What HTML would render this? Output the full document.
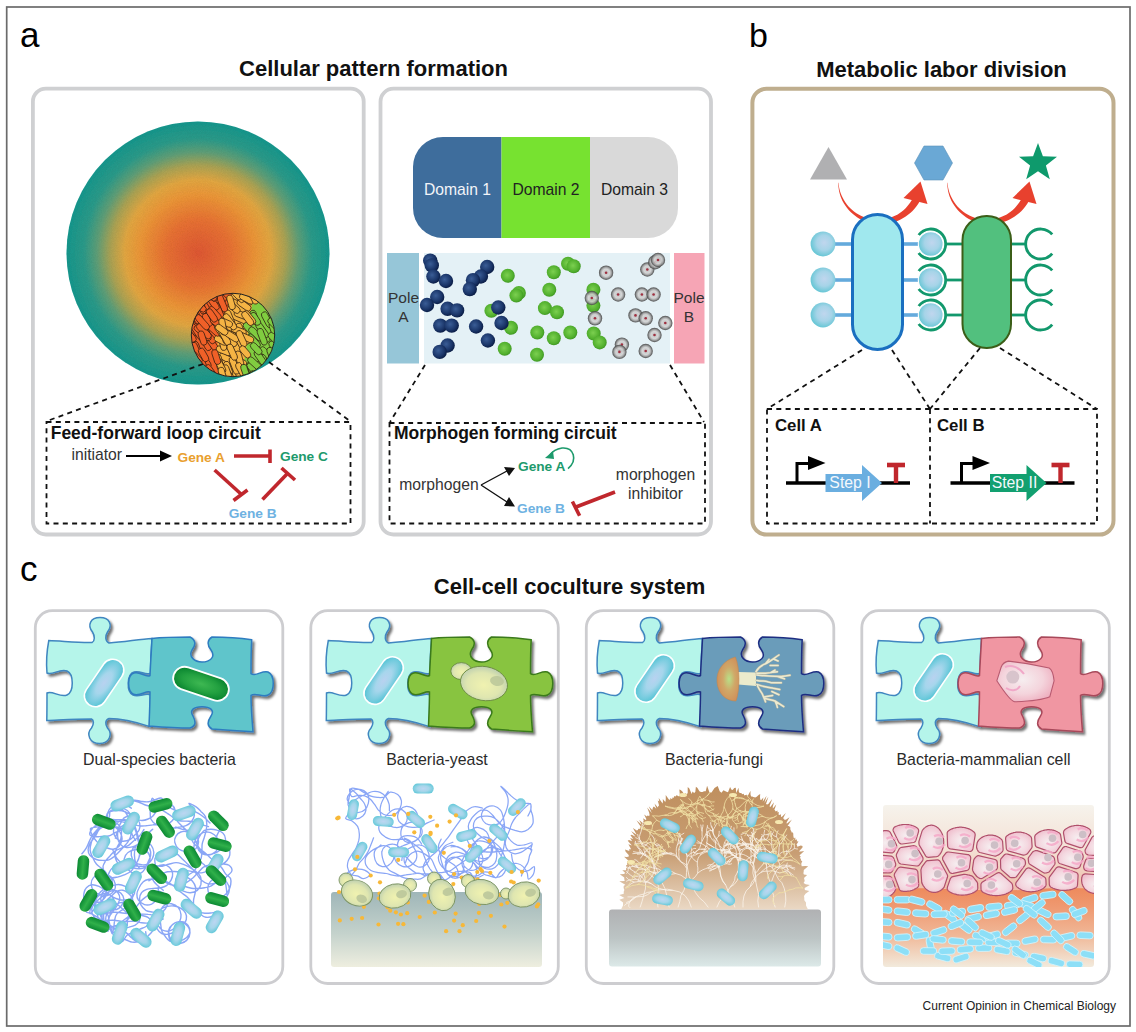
<!DOCTYPE html><html><head><meta charset="utf-8"><style>html,body{margin:0;padding:0;background:#fff;width:1136px;height:1032px;overflow:hidden}svg{display:block}text{font-family:'Liberation Sans',sans-serif}</style></head><body>
<svg width="1136" height="1032" viewBox="0 0 1136 1032">
<rect x="0" y="0" width="1136" height="1032" fill="#fff"/>
<rect x="6.7" y="7" width="1123.3" height="1019" fill="none" stroke="#6b6b6b" stroke-width="1.7"/>
<text x="20" y="47" font-size="35" fill="#000">a</text>
<text x="749" y="46.6" font-size="34" fill="#000">b</text>
<text x="20" y="581" font-size="35" fill="#000">c</text>
<text x="373.5" y="76.4" font-size="22" font-weight="bold" text-anchor="middle" fill="#111">Cellular pattern formation</text>
<text x="941.5" y="77" font-size="22" font-weight="bold" text-anchor="middle" fill="#111">Metabolic labor division</text>
<text x="569.5" y="593.8" font-size="22" font-weight="bold" text-anchor="middle" fill="#111">Cell-cell coculture system</text>
<text x="1116" y="1009.5" font-size="12" text-anchor="end" fill="#222">Current Opinion in Chemical Biology</text>
<rect x="32.9" y="88.6" width="330.8" height="445.9" rx="13" fill="none" stroke="#cfd0d2" stroke-width="3.8"/>
<rect x="380.5" y="88.7" width="330.5" height="445.8" rx="13" fill="none" stroke="#cfd0d2" stroke-width="3.8"/>
<rect x="752.4" y="88.8" width="361.1" height="445.8" rx="14" fill="none" stroke="#bfae8e" stroke-width="4"/>
<rect x="35.3" y="610.7" width="247.5" height="372.8" rx="17" fill="none" stroke="#cdcdd0" stroke-width="2.8"/>
<rect x="310.8" y="610.7" width="247.5" height="372.8" rx="17" fill="none" stroke="#cdcdd0" stroke-width="2.8"/>
<rect x="586.3" y="610.7" width="247.5" height="372.8" rx="17" fill="none" stroke="#cdcdd0" stroke-width="2.8"/>
<rect x="861.8" y="610.7" width="247.5" height="372.8" rx="17" fill="none" stroke="#cdcdd0" stroke-width="2.8"/>
<defs><radialGradient id="bigc" cx="198" cy="253" r="131" gradientUnits="userSpaceOnUse"><stop offset="0" stop-color="#e35a34"/><stop offset="0.25" stop-color="#ec7434"/><stop offset="0.45" stop-color="#f09a3a"/><stop offset="0.56" stop-color="#e6aa44"/><stop offset="0.67" stop-color="#aea656"/><stop offset="0.77" stop-color="#62a27a"/><stop offset="0.87" stop-color="#2e9e8c"/><stop offset="1" stop-color="#1c9a90"/></radialGradient><filter id="grain" x="0" y="0" width="1" height="1"><feTurbulence type="fractalNoise" baseFrequency="1.2" numOctaves="1" seed="3" result="n"/><feColorMatrix in="n" type="matrix" values="0 0 0 0 0  0 0 0 0 0  0 0 0 0 0  0 0 0 0.18 0" result="g"/><feComposite in="g" in2="SourceGraphic" operator="in" result="g2"/><feMerge><feMergeNode in="SourceGraphic"/><feMergeNode in="g2"/></feMerge></filter><clipPath id="smallclip"><circle cx="233" cy="335" r="41.7"/></clipPath></defs>
<circle cx="198" cy="253" r="131.5" fill="url(#bigc)" filter="url(#grain)"/>
<g fill="none" stroke="#111" stroke-width="1.8" stroke-dasharray="5 4.3">
<path d="M203 364 L47 421"/>
<path d="M269 362 L350 421"/>
<rect x="46.5" y="422" width="304" height="101.5"/>
</g>
<g clip-path="url(#smallclip)">
<rect x="190" y="292" width="90" height="90" fill="#f0b040"/>
<path d="M190 292 L234 292 L233 294 L226 314 L218 333 L217 353 L220 367 L222 380 L190 380 Z" fill="#f06028"/>
<path d="M254 292 L280 292 L280 380 L242 380 C244 362 246 350 248 335 C250 318 252 305 254 292 Z" fill="#80cc40"/>
<rect x="211.3" y="302.2" width="14.4" height="6.2" rx="3.1" transform="rotate(60.4 218.5 305.3)" fill="#f06028" stroke="#2a1a10" stroke-width="0.7" /><rect x="228.9" y="321.1" width="16.5" height="6.2" rx="3.1" transform="rotate(23.5 237.2 324.2)" fill="#f5b444" stroke="#2a1a10" stroke-width="0.7" /><rect x="186.1" y="327.1" width="14.5" height="6.2" rx="3.1" transform="rotate(39.5 193.3 330.2)" fill="#f06028" stroke="#2a1a10" stroke-width="0.7" /><rect x="219.8" y="361.7" width="15.1" height="6.2" rx="3.1" transform="rotate(27.4 227.4 364.8)" fill="#f5b444" stroke="#2a1a10" stroke-width="0.7" /><rect x="237.2" y="372.3" width="16.0" height="6.2" rx="3.1" transform="rotate(57.8 245.2 375.4)" fill="#80cc40" stroke="#2a1a10" stroke-width="0.7" /><rect x="268.2" y="293.0" width="15.4" height="6.2" rx="3.1" transform="rotate(67.9 275.9 296.1)" fill="#80cc40" stroke="#2a1a10" stroke-width="0.7" /><rect x="193.7" y="299.3" width="18.1" height="6.2" rx="3.1" transform="rotate(48.1 202.7 302.4)" fill="#f06028" stroke="#2a1a10" stroke-width="0.7" /><rect x="198.0" y="340.1" width="15.9" height="6.2" rx="3.1" transform="rotate(60.0 205.9 343.2)" fill="#f06028" stroke="#2a1a10" stroke-width="0.7" /><rect x="230.7" y="294.4" width="15.0" height="6.2" rx="3.1" transform="rotate(23.6 238.2 297.5)" fill="#f5b444" stroke="#2a1a10" stroke-width="0.7" /><rect x="241.4" y="326.5" width="16.9" height="6.2" rx="3.1" transform="rotate(48.3 249.9 329.6)" fill="#80cc40" stroke="#2a1a10" stroke-width="0.7" /><rect x="221.1" y="315.3" width="17.5" height="6.2" rx="3.1" transform="rotate(67.7 229.9 318.4)" fill="#f5b444" stroke="#2a1a10" stroke-width="0.7" /><rect x="202.3" y="339.4" width="18.4" height="6.2" rx="3.1" transform="rotate(55.9 211.5 342.5)" fill="#f06028" stroke="#2a1a10" stroke-width="0.7" /><rect x="246.9" y="314.2" width="14.6" height="6.2" rx="3.1" transform="rotate(72.3 254.2 317.3)" fill="#80cc40" stroke="#2a1a10" stroke-width="0.7" /><rect x="218.6" y="355.5" width="16.4" height="6.2" rx="3.1" transform="rotate(29.1 226.8 358.6)" fill="#f5b444" stroke="#2a1a10" stroke-width="0.7" /><rect x="185.0" y="347.7" width="16.9" height="6.2" rx="3.1" transform="rotate(64.5 193.5 350.8)" fill="#f06028" stroke="#2a1a10" stroke-width="0.7" /><rect x="258.6" y="316.5" width="17.0" height="6.2" rx="3.1" transform="rotate(62.0 267.0 319.6)" fill="#80cc40" stroke="#2a1a10" stroke-width="0.7" /><rect x="231.7" y="329.0" width="18.7" height="6.2" rx="3.1" transform="rotate(70.4 241.0 332.1)" fill="#f5b444" stroke="#2a1a10" stroke-width="0.7" /><rect x="223.0" y="347.3" width="17.5" height="6.2" rx="3.1" transform="rotate(23.6 231.7 350.4)" fill="#f5b444" stroke="#2a1a10" stroke-width="0.7" /><rect x="239.2" y="376.3" width="15.4" height="6.2" rx="3.1" transform="rotate(66.6 246.9 379.4)" fill="#80cc40" stroke="#2a1a10" stroke-width="0.7" /><rect x="215.8" y="347.7" width="16.3" height="6.2" rx="3.1" transform="rotate(21.4 223.9 350.8)" fill="#f5b444" stroke="#2a1a10" stroke-width="0.7" /><rect x="195.9" y="299.2" width="17.8" height="6.2" rx="3.1" transform="rotate(39.1 204.8 302.3)" fill="#f06028" stroke="#2a1a10" stroke-width="0.7" /><rect x="192.2" y="310.7" width="18.4" height="6.2" rx="3.1" transform="rotate(51.1 201.4 313.8)" fill="#f06028" stroke="#2a1a10" stroke-width="0.7" /><rect x="187.9" y="328.4" width="18.4" height="6.2" rx="3.1" transform="rotate(56.8 197.1 331.5)" fill="#f06028" stroke="#2a1a10" stroke-width="0.7" /><rect x="254.1" y="364.9" width="16.1" height="6.2" rx="3.1" transform="rotate(47.0 262.1 368.0)" fill="#80cc40" stroke="#2a1a10" stroke-width="0.7" /><rect x="214.2" y="366.7" width="14.8" height="6.2" rx="3.1" transform="rotate(77.5 221.6 369.8)" fill="#f5b444" stroke="#2a1a10" stroke-width="0.7" /><rect x="197.3" y="309.3" width="16.4" height="6.2" rx="3.1" transform="rotate(45.4 205.5 312.4)" fill="#f06028" stroke="#2a1a10" stroke-width="0.7" /><rect x="233.8" y="312.0" width="16.1" height="6.2" rx="3.1" transform="rotate(20.2 241.8 315.1)" fill="#f5b444" stroke="#2a1a10" stroke-width="0.7" /><rect x="213.8" y="338.7" width="17.5" height="6.2" rx="3.1" transform="rotate(77.2 222.5 341.8)" fill="#f5b444" stroke="#2a1a10" stroke-width="0.7" /><rect x="228.2" y="343.2" width="14.3" height="6.2" rx="3.1" transform="rotate(60.6 235.4 346.3)" fill="#f5b444" stroke="#2a1a10" stroke-width="0.7" /><rect x="260.2" y="357.5" width="18.0" height="6.2" rx="3.1" transform="rotate(68.5 269.2 360.6)" fill="#80cc40" stroke="#2a1a10" stroke-width="0.7" /><rect x="215.9" y="324.0" width="17.2" height="6.2" rx="3.1" transform="rotate(26.2 224.5 327.1)" fill="#f5b444" stroke="#2a1a10" stroke-width="0.7" /><rect x="188.1" y="294.8" width="14.8" height="6.2" rx="3.1" transform="rotate(44.5 195.5 297.9)" fill="#f06028" stroke="#2a1a10" stroke-width="0.7" /><rect x="212.5" y="293.5" width="14.8" height="6.2" rx="3.1" transform="rotate(37.0 219.9 296.6)" fill="#f06028" stroke="#2a1a10" stroke-width="0.7" /><rect x="189.7" y="320.9" width="18.4" height="6.2" rx="3.1" transform="rotate(37.9 198.9 324.0)" fill="#f06028" stroke="#2a1a10" stroke-width="0.7" /><rect x="236.2" y="302.0" width="15.7" height="6.2" rx="3.1" transform="rotate(35.1 244.0 305.1)" fill="#f5b444" stroke="#2a1a10" stroke-width="0.7" /><rect x="212.6" y="299.7" width="19.0" height="6.2" rx="3.1" transform="rotate(67.6 222.0 302.8)" fill="#f06028" stroke="#2a1a10" stroke-width="0.7" /><rect x="223.8" y="331.5" width="14.5" height="6.2" rx="3.1" transform="rotate(25.2 231.0 334.6)" fill="#f5b444" stroke="#2a1a10" stroke-width="0.7" /><rect x="212.7" y="312.2" width="14.8" height="6.2" rx="3.1" transform="rotate(66.8 220.2 315.3)" fill="#f06028" stroke="#2a1a10" stroke-width="0.7" /><rect x="184.7" y="372.6" width="14.7" height="6.2" rx="3.1" transform="rotate(56.0 192.0 375.7)" fill="#f06028" stroke="#2a1a10" stroke-width="0.7" /><rect x="228.4" y="291.3" width="18.9" height="6.2" rx="3.1" transform="rotate(51.7 237.8 294.4)" fill="#f5b444" stroke="#2a1a10" stroke-width="0.7" /><rect x="258.1" y="350.2" width="15.8" height="6.2" rx="3.1" transform="rotate(46.4 266.0 353.3)" fill="#80cc40" stroke="#2a1a10" stroke-width="0.7" /><rect x="195.8" y="356.8" width="17.9" height="6.2" rx="3.1" transform="rotate(56.2 204.7 359.9)" fill="#f06028" stroke="#2a1a10" stroke-width="0.7" /><rect x="209.5" y="308.5" width="18.9" height="6.2" rx="3.1" transform="rotate(66.2 219.0 311.6)" fill="#f06028" stroke="#2a1a10" stroke-width="0.7" /><rect x="256.2" y="359.8" width="17.7" height="6.2" rx="3.1" transform="rotate(66.5 265.0 362.9)" fill="#80cc40" stroke="#2a1a10" stroke-width="0.7" /><rect x="202.9" y="334.5" width="14.1" height="6.2" rx="3.1" transform="rotate(49.8 210.0 337.6)" fill="#f06028" stroke="#2a1a10" stroke-width="0.7" /><rect x="183.7" y="313.5" width="17.5" height="6.2" rx="3.1" transform="rotate(46.3 192.5 316.6)" fill="#f06028" stroke="#2a1a10" stroke-width="0.7" /><rect x="264.7" y="328.3" width="18.9" height="6.2" rx="3.1" transform="rotate(70.7 274.2 331.4)" fill="#80cc40" stroke="#2a1a10" stroke-width="0.7" /><rect x="266.5" y="321.0" width="15.1" height="6.2" rx="3.1" transform="rotate(44.9 274.0 324.1)" fill="#80cc40" stroke="#2a1a10" stroke-width="0.7" /><rect x="198.1" y="306.9" width="18.5" height="6.2" rx="3.1" transform="rotate(59.5 207.3 310.0)" fill="#f06028" stroke="#2a1a10" stroke-width="0.7" /><rect x="255.0" y="331.1" width="18.0" height="6.2" rx="3.1" transform="rotate(60.5 264.0 334.2)" fill="#80cc40" stroke="#2a1a10" stroke-width="0.7" /><rect x="188.5" y="347.0" width="17.9" height="6.2" rx="3.1" transform="rotate(69.8 197.5 350.1)" fill="#f06028" stroke="#2a1a10" stroke-width="0.7" /><rect x="247.0" y="331.0" width="17.9" height="6.2" rx="3.1" transform="rotate(43.4 256.0 334.1)" fill="#80cc40" stroke="#2a1a10" stroke-width="0.7" /><rect x="211.3" y="359.4" width="16.0" height="6.2" rx="3.1" transform="rotate(78.3 219.3 362.5)" fill="#f5b444" stroke="#2a1a10" stroke-width="0.7" /><rect x="217.9" y="372.2" width="14.9" height="6.2" rx="3.1" transform="rotate(63.5 225.3 375.3)" fill="#f5b444" stroke="#2a1a10" stroke-width="0.7" /><rect x="192.2" y="302.2" width="18.0" height="6.2" rx="3.1" transform="rotate(69.6 201.2 305.3)" fill="#f06028" stroke="#2a1a10" stroke-width="0.7" /><rect x="194.2" y="361.6" width="17.3" height="6.2" rx="3.1" transform="rotate(72.3 202.9 364.7)" fill="#f06028" stroke="#2a1a10" stroke-width="0.7" /><rect x="213.8" y="337.2" width="14.1" height="6.2" rx="3.1" transform="rotate(27.9 220.8 340.3)" fill="#f5b444" stroke="#2a1a10" stroke-width="0.7" /><rect x="266.1" y="346.1" width="18.7" height="6.2" rx="3.1" transform="rotate(56.0 275.4 349.2)" fill="#80cc40" stroke="#2a1a10" stroke-width="0.7" /><rect x="220.6" y="365.6" width="15.1" height="6.2" rx="3.1" transform="rotate(69.6 228.2 368.7)" fill="#f5b444" stroke="#2a1a10" stroke-width="0.7" /><rect x="203.7" y="314.7" width="16.9" height="6.2" rx="3.1" transform="rotate(45.7 212.2 317.8)" fill="#f06028" stroke="#2a1a10" stroke-width="0.7" /><rect x="203.5" y="325.8" width="18.6" height="6.2" rx="3.1" transform="rotate(41.7 212.8 328.9)" fill="#f06028" stroke="#2a1a10" stroke-width="0.7" /><rect x="211.9" y="329.2" width="18.5" height="6.2" rx="3.1" transform="rotate(55.0 221.1 332.3)" fill="#f5b444" stroke="#2a1a10" stroke-width="0.7" /><rect x="218.7" y="369.7" width="16.7" height="6.2" rx="3.1" transform="rotate(50.1 227.0 372.8)" fill="#f5b444" stroke="#2a1a10" stroke-width="0.7" /><rect x="228.6" y="290.5" width="14.9" height="6.2" rx="3.1" transform="rotate(46.4 236.1 293.6)" fill="#f5b444" stroke="#2a1a10" stroke-width="0.7" /><rect x="182.2" y="359.2" width="16.4" height="6.2" rx="3.1" transform="rotate(43.2 190.3 362.3)" fill="#f06028" stroke="#2a1a10" stroke-width="0.7" /><rect x="245.5" y="337.9" width="16.6" height="6.2" rx="3.1" transform="rotate(48.7 253.8 341.0)" fill="#80cc40" stroke="#2a1a10" stroke-width="0.7" /><rect x="230.5" y="357.9" width="16.8" height="6.2" rx="3.1" transform="rotate(26.4 238.9 361.0)" fill="#f5b444" stroke="#2a1a10" stroke-width="0.7" /><rect x="203.6" y="313.3" width="16.5" height="6.2" rx="3.1" transform="rotate(64.8 211.9 316.4)" fill="#f06028" stroke="#2a1a10" stroke-width="0.7" /><rect x="231.3" y="355.8" width="16.2" height="6.2" rx="3.1" transform="rotate(74.7 239.4 358.9)" fill="#f5b444" stroke="#2a1a10" stroke-width="0.7" /><rect x="235.2" y="333.4" width="17.5" height="6.2" rx="3.1" transform="rotate(50.7 243.9 336.5)" fill="#f5b444" stroke="#2a1a10" stroke-width="0.7" /><rect x="220.5" y="335.8" width="18.7" height="6.2" rx="3.1" transform="rotate(48.7 229.8 338.9)" fill="#f5b444" stroke="#2a1a10" stroke-width="0.7" /><rect x="243.9" y="366.0" width="15.3" height="6.2" rx="3.1" transform="rotate(70.9 251.5 369.1)" fill="#80cc40" stroke="#2a1a10" stroke-width="0.7" /><rect x="231.9" y="371.9" width="14.7" height="6.2" rx="3.1" transform="rotate(70.4 239.2 375.0)" fill="#f5b444" stroke="#2a1a10" stroke-width="0.7" /><rect x="193.1" y="327.8" width="15.2" height="6.2" rx="3.1" transform="rotate(39.6 200.7 330.9)" fill="#f06028" stroke="#2a1a10" stroke-width="0.7" /><rect x="187.2" y="347.8" width="18.5" height="6.2" rx="3.1" transform="rotate(65.2 196.4 350.9)" fill="#f06028" stroke="#2a1a10" stroke-width="0.7" /><rect x="196.2" y="351.9" width="14.7" height="6.2" rx="3.1" transform="rotate(60.8 203.6 355.0)" fill="#f06028" stroke="#2a1a10" stroke-width="0.7" /><rect x="258.3" y="374.0" width="18.8" height="6.2" rx="3.1" transform="rotate(44.9 267.7 377.1)" fill="#80cc40" stroke="#2a1a10" stroke-width="0.7" /><rect x="216.0" y="331.8" width="18.2" height="6.2" rx="3.1" transform="rotate(79.4 225.0 334.9)" fill="#f5b444" stroke="#2a1a10" stroke-width="0.7" /><rect x="196.4" y="326.9" width="15.7" height="6.2" rx="3.1" transform="rotate(55.6 204.2 330.0)" fill="#f06028" stroke="#2a1a10" stroke-width="0.7" /><rect x="200.2" y="316.9" width="14.1" height="6.2" rx="3.1" transform="rotate(63.0 207.2 320.0)" fill="#f06028" stroke="#2a1a10" stroke-width="0.7" /><rect x="230.9" y="327.7" width="15.7" height="6.2" rx="3.1" transform="rotate(21.1 238.8 330.8)" fill="#f5b444" stroke="#2a1a10" stroke-width="0.7" /><rect x="235.4" y="334.0" width="18.9" height="6.2" rx="3.1" transform="rotate(23.9 244.9 337.1)" fill="#f5b444" stroke="#2a1a10" stroke-width="0.7" /><rect x="251.7" y="374.4" width="15.3" height="6.2" rx="3.1" transform="rotate(40.8 259.4 377.5)" fill="#80cc40" stroke="#2a1a10" stroke-width="0.7" /><rect x="186.2" y="357.5" width="14.6" height="6.2" rx="3.1" transform="rotate(46.7 193.5 360.6)" fill="#f06028" stroke="#2a1a10" stroke-width="0.7" /><rect x="219.5" y="369.1" width="15.3" height="6.2" rx="3.1" transform="rotate(69.1 227.2 372.2)" fill="#f5b444" stroke="#2a1a10" stroke-width="0.7" /><rect x="194.4" y="369.8" width="17.5" height="6.2" rx="3.1" transform="rotate(57.5 203.1 372.9)" fill="#f06028" stroke="#2a1a10" stroke-width="0.7" /><rect x="189.8" y="294.0" width="16.1" height="6.2" rx="3.1" transform="rotate(61.8 197.9 297.1)" fill="#f06028" stroke="#2a1a10" stroke-width="0.7" /><rect x="187.4" y="371.5" width="18.0" height="6.2" rx="3.1" transform="rotate(59.8 196.4 374.6)" fill="#f06028" stroke="#2a1a10" stroke-width="0.7" /><rect x="188.2" y="364.2" width="18.3" height="6.2" rx="3.1" transform="rotate(39.4 197.4 367.3)" fill="#f06028" stroke="#2a1a10" stroke-width="0.7" /><rect x="220.6" y="318.7" width="18.6" height="6.2" rx="3.1" transform="rotate(53.2 229.9 321.8)" fill="#f5b444" stroke="#2a1a10" stroke-width="0.7" /><rect x="206.0" y="300.3" width="15.2" height="6.2" rx="3.1" transform="rotate(56.0 213.6 303.4)" fill="#f06028" stroke="#2a1a10" stroke-width="0.7" /><rect x="192.1" y="303.1" width="15.0" height="6.2" rx="3.1" transform="rotate(38.8 199.6 306.2)" fill="#f06028" stroke="#2a1a10" stroke-width="0.7" /><rect x="209.7" y="315.7" width="15.4" height="6.2" rx="3.1" transform="rotate(64.3 217.5 318.8)" fill="#f06028" stroke="#2a1a10" stroke-width="0.7" /><rect x="227.0" y="304.6" width="14.1" height="6.2" rx="3.1" transform="rotate(40.8 234.0 307.7)" fill="#f5b444" stroke="#2a1a10" stroke-width="0.7" /><rect x="203.7" y="290.3" width="16.8" height="6.2" rx="3.1" transform="rotate(63.4 212.0 293.4)" fill="#f06028" stroke="#2a1a10" stroke-width="0.7" /><rect x="199.4" y="330.7" width="14.5" height="6.2" rx="3.1" transform="rotate(70.6 206.7 333.8)" fill="#f06028" stroke="#2a1a10" stroke-width="0.7" /><rect x="253.0" y="326.9" width="18.2" height="6.2" rx="3.1" transform="rotate(54.8 262.1 330.0)" fill="#80cc40" stroke="#2a1a10" stroke-width="0.7" /><rect x="215.1" y="333.5" width="18.9" height="6.2" rx="3.1" transform="rotate(61.3 224.6 336.6)" fill="#f5b444" stroke="#2a1a10" stroke-width="0.7" /><rect x="211.6" y="362.1" width="17.2" height="6.2" rx="3.1" transform="rotate(62.4 220.2 365.2)" fill="#f5b444" stroke="#2a1a10" stroke-width="0.7" /><rect x="218.3" y="319.5" width="14.6" height="6.2" rx="3.1" transform="rotate(23.3 225.6 322.6)" fill="#f5b444" stroke="#2a1a10" stroke-width="0.7" /><rect x="188.8" y="354.1" width="14.8" height="6.2" rx="3.1" transform="rotate(46.2 196.2 357.2)" fill="#f06028" stroke="#2a1a10" stroke-width="0.7" /><rect x="188.8" y="362.9" width="17.4" height="6.2" rx="3.1" transform="rotate(68.3 197.4 366.0)" fill="#f06028" stroke="#2a1a10" stroke-width="0.7" /><rect x="206.7" y="310.2" width="16.3" height="6.2" rx="3.1" transform="rotate(47.6 214.8 313.3)" fill="#f06028" stroke="#2a1a10" stroke-width="0.7" /><rect x="194.5" y="328.1" width="18.8" height="6.2" rx="3.1" transform="rotate(46.5 203.9 331.2)" fill="#f06028" stroke="#2a1a10" stroke-width="0.7" /><rect x="266.2" y="337.0" width="18.8" height="6.2" rx="3.1" transform="rotate(45.8 275.6 340.1)" fill="#80cc40" stroke="#2a1a10" stroke-width="0.7" /><rect x="209.3" y="320.3" width="15.9" height="6.2" rx="3.1" transform="rotate(37.0 217.2 323.4)" fill="#f06028" stroke="#2a1a10" stroke-width="0.7" /><rect x="223.5" y="333.1" width="16.5" height="6.2" rx="3.1" transform="rotate(32.1 231.8 336.2)" fill="#f5b444" stroke="#2a1a10" stroke-width="0.7" /><rect x="182.4" y="312.1" width="16.0" height="6.2" rx="3.1" transform="rotate(40.2 190.4 315.2)" fill="#f06028" stroke="#2a1a10" stroke-width="0.7" /><rect x="186.1" y="290.9" width="15.2" height="6.2" rx="3.1" transform="rotate(48.0 193.7 294.0)" fill="#f06028" stroke="#2a1a10" stroke-width="0.7" /><rect x="232.9" y="335.5" width="17.3" height="6.2" rx="3.1" transform="rotate(65.0 241.5 338.6)" fill="#f5b444" stroke="#2a1a10" stroke-width="0.7" /><rect x="245.2" y="366.3" width="15.6" height="6.2" rx="3.1" transform="rotate(51.0 253.0 369.4)" fill="#80cc40" stroke="#2a1a10" stroke-width="0.7" /><rect x="268.0" y="302.1" width="17.2" height="6.2" rx="3.1" transform="rotate(63.1 276.7 305.2)" fill="#80cc40" stroke="#2a1a10" stroke-width="0.7" /><rect x="185.3" y="362.4" width="17.1" height="6.2" rx="3.1" transform="rotate(69.1 193.9 365.5)" fill="#f06028" stroke="#2a1a10" stroke-width="0.7" /><rect x="246.3" y="360.4" width="16.6" height="6.2" rx="3.1" transform="rotate(42.0 254.6 363.5)" fill="#80cc40" stroke="#2a1a10" stroke-width="0.7" /><rect x="225.3" y="362.4" width="18.1" height="6.2" rx="3.1" transform="rotate(68.3 234.4 365.5)" fill="#f5b444" stroke="#2a1a10" stroke-width="0.7" /><rect x="232.7" y="367.5" width="17.5" height="6.2" rx="3.1" transform="rotate(61.0 241.4 370.6)" fill="#f5b444" stroke="#2a1a10" stroke-width="0.7" /><rect x="202.3" y="291.6" width="15.8" height="6.2" rx="3.1" transform="rotate(41.8 210.2 294.7)" fill="#f06028" stroke="#2a1a10" stroke-width="0.7" /><rect x="190.7" y="362.5" width="17.1" height="6.2" rx="3.1" transform="rotate(57.1 199.2 365.6)" fill="#f06028" stroke="#2a1a10" stroke-width="0.7" /><rect x="238.1" y="348.8" width="14.0" height="6.2" rx="3.1" transform="rotate(49.4 245.1 351.9)" fill="#f5b444" stroke="#2a1a10" stroke-width="0.7" /><rect x="251.9" y="354.7" width="16.7" height="6.2" rx="3.1" transform="rotate(55.1 260.2 357.8)" fill="#80cc40" stroke="#2a1a10" stroke-width="0.7" /><rect x="240.4" y="294.7" width="15.3" height="6.2" rx="3.1" transform="rotate(64.2 248.0 297.8)" fill="#f5b444" stroke="#2a1a10" stroke-width="0.7" /><rect x="189.0" y="312.3" width="15.0" height="6.2" rx="3.1" transform="rotate(63.3 196.6 315.4)" fill="#f06028" stroke="#2a1a10" stroke-width="0.7" /><rect x="247.1" y="374.8" width="15.9" height="6.2" rx="3.1" transform="rotate(54.8 255.1 377.9)" fill="#80cc40" stroke="#2a1a10" stroke-width="0.7" /><rect x="223.6" y="349.1" width="17.1" height="6.2" rx="3.1" transform="rotate(66.0 232.2 352.2)" fill="#f5b444" stroke="#2a1a10" stroke-width="0.7" /><rect x="238.9" y="295.7" width="15.3" height="6.2" rx="3.1" transform="rotate(28.8 246.6 298.8)" fill="#f5b444" stroke="#2a1a10" stroke-width="0.7" /><rect x="248.4" y="315.7" width="14.1" height="6.2" rx="3.1" transform="rotate(57.4 255.4 318.8)" fill="#80cc40" stroke="#2a1a10" stroke-width="0.7" /><rect x="186.6" y="312.6" width="17.5" height="6.2" rx="3.1" transform="rotate(61.2 195.3 315.7)" fill="#f06028" stroke="#2a1a10" stroke-width="0.7" /><rect x="241.3" y="314.5" width="16.3" height="6.2" rx="3.1" transform="rotate(51.0 249.5 317.6)" fill="#f5b444" stroke="#2a1a10" stroke-width="0.7" /><rect x="223.5" y="299.3" width="15.0" height="6.2" rx="3.1" transform="rotate(73.6 231.0 302.4)" fill="#f5b444" stroke="#2a1a10" stroke-width="0.7" /><rect x="267.9" y="371.3" width="16.3" height="6.2" rx="3.1" transform="rotate(37.6 276.1 374.4)" fill="#80cc40" stroke="#2a1a10" stroke-width="0.7" /><rect x="254.5" y="374.1" width="15.3" height="6.2" rx="3.1" transform="rotate(53.2 262.2 377.2)" fill="#80cc40" stroke="#2a1a10" stroke-width="0.7" /><rect x="200.0" y="372.1" width="16.9" height="6.2" rx="3.1" transform="rotate(44.6 208.5 375.2)" fill="#f06028" stroke="#2a1a10" stroke-width="0.7" /><rect x="195.1" y="335.0" width="14.7" height="6.2" rx="3.1" transform="rotate(71.3 202.5 338.1)" fill="#f06028" stroke="#2a1a10" stroke-width="0.7" /><rect x="253.4" y="333.7" width="17.5" height="6.2" rx="3.1" transform="rotate(68.9 262.2 336.8)" fill="#80cc40" stroke="#2a1a10" stroke-width="0.7" /><rect x="203.3" y="367.9" width="14.1" height="6.2" rx="3.1" transform="rotate(54.5 210.4 371.0)" fill="#f06028" stroke="#2a1a10" stroke-width="0.7" /><rect x="182.6" y="332.2" width="15.5" height="6.2" rx="3.1" transform="rotate(53.2 190.3 335.3)" fill="#f06028" stroke="#2a1a10" stroke-width="0.7" /><rect x="193.3" y="319.2" width="18.2" height="6.2" rx="3.1" transform="rotate(48.4 202.4 322.3)" fill="#f06028" stroke="#2a1a10" stroke-width="0.7" /><rect x="182.9" y="355.0" width="14.6" height="6.2" rx="3.1" transform="rotate(67.2 190.2 358.1)" fill="#f06028" stroke="#2a1a10" stroke-width="0.7" /><rect x="263.8" y="351.6" width="15.4" height="6.2" rx="3.1" transform="rotate(69.5 271.5 354.7)" fill="#80cc40" stroke="#2a1a10" stroke-width="0.7" /><rect x="214.3" y="323.5" width="16.9" height="6.2" rx="3.1" transform="rotate(79.9 222.8 326.6)" fill="#f5b444" stroke="#2a1a10" stroke-width="0.7" /><rect x="214.6" y="326.6" width="14.2" height="6.2" rx="3.1" transform="rotate(36.5 221.7 329.7)" fill="#f5b444" stroke="#2a1a10" stroke-width="0.7" /><rect x="189.6" y="362.4" width="18.7" height="6.2" rx="3.1" transform="rotate(47.3 199.0 365.5)" fill="#f06028" stroke="#2a1a10" stroke-width="0.7" /><rect x="204.5" y="312.3" width="14.9" height="6.2" rx="3.1" transform="rotate(55.4 211.9 315.4)" fill="#f06028" stroke="#2a1a10" stroke-width="0.7" /><rect x="213.8" y="373.0" width="18.1" height="6.2" rx="3.1" transform="rotate(73.1 222.9 376.1)" fill="#f5b444" stroke="#2a1a10" stroke-width="0.7" /><rect x="237.1" y="369.3" width="16.7" height="6.2" rx="3.1" transform="rotate(70.9 245.5 372.4)" fill="#80cc40" stroke="#2a1a10" stroke-width="0.7" /><rect x="245.2" y="293.3" width="16.3" height="6.2" rx="3.1" transform="rotate(63.9 253.3 296.4)" fill="#f5b444" stroke="#2a1a10" stroke-width="0.7" /><rect x="249.1" y="345.6" width="14.2" height="6.2" rx="3.1" transform="rotate(47.3 256.2 348.7)" fill="#80cc40" stroke="#2a1a10" stroke-width="0.7" /><rect x="263.7" y="300.1" width="15.7" height="6.2" rx="3.1" transform="rotate(54.0 271.6 303.2)" fill="#80cc40" stroke="#2a1a10" stroke-width="0.7" /><rect x="208.6" y="353.9" width="15.3" height="6.2" rx="3.1" transform="rotate(72.1 216.2 357.0)" fill="#f06028" stroke="#2a1a10" stroke-width="0.7" /><rect x="239.7" y="315.4" width="16.0" height="6.2" rx="3.1" transform="rotate(53.4 247.7 318.5)" fill="#f5b444" stroke="#2a1a10" stroke-width="0.7" />
</g>
<circle cx="233" cy="335" r="41.7" fill="none" stroke="#222" stroke-width="1"/>
<text x="50.7" y="439" font-size="17.5" font-weight="bold" fill="#111">Feed-forward loop circuit</text>
<text x="71.5" y="460" font-size="15.7" fill="#333">initiator</text>
<path d="M126 456 L162 456" stroke="#000" stroke-width="2.2"/><path d="M172 456 L160 450.5 L160 461.5 Z" fill="#000"/>
<text x="177.5" y="461.5" font-size="13.7" font-weight="bold" fill="#e9a02e">Gene A</text>
<text x="280" y="461" font-size="13.7" font-weight="bold" fill="#1d9a6c">Gene C</text>
<text x="228.7" y="517.8" font-size="13.7" font-weight="bold" fill="#6eb2e2">Gene B</text>
<g stroke="#c0272d" stroke-width="3.6" fill="none"><path d="M234 456 L270 456"/><path d="M270 449.5 L270 463"/><path d="M214.6 470 L241 494"/><path d="M233.5 500.5 L247.5 490"/><path d="M262.5 499.5 L287 474"/><path d="M281.5 468 L295 480"/></g>
<defs><radialGradient id="navy" cx="0.4" cy="0.4" r="0.6"><stop offset="0" stop-color="#3a5d96"/><stop offset="0.7" stop-color="#1a3568"/><stop offset="1" stop-color="#0c1f48"/></radialGradient><radialGradient id="grn" cx="0.45" cy="0.45" r="0.6"><stop offset="0" stop-color="#7cd050"/><stop offset="0.7" stop-color="#52b02e"/><stop offset="1" stop-color="#3a9020"/></radialGradient><radialGradient id="gry" cx="0.5" cy="0.5" r="0.5"><stop offset="0" stop-color="#bdbdbd"/><stop offset="0.5" stop-color="#d2d2d2"/><stop offset="0.72" stop-color="#a0a0a0"/><stop offset="0.9" stop-color="#5a5a5a"/><stop offset="1" stop-color="#484848"/></radialGradient></defs>
<path d="M443 137 L501.5 137 L501.5 238 L443 238 A30 30 0 0 1 413 208 L413 167 A30 30 0 0 1 443 137 Z" fill="#3e6d9c"/>
<rect x="501.5" y="137" width="88.5" height="101" fill="#77e230"/>
<path d="M590 137 L648 137 A30 30 0 0 1 678 167 L678 208 A30 30 0 0 1 648 238 L590 238 Z" fill="#d9d9d9"/>
<text x="457.5" y="194.8" font-size="15.7" text-anchor="middle" fill="#f2f4f8">Domain 1</text>
<text x="546" y="194.8" font-size="15.7" text-anchor="middle" fill="#222">Domain 2</text>
<text x="634.5" y="194.8" font-size="15.7" text-anchor="middle" fill="#222">Domain 3</text>
<rect x="387" y="253" width="32" height="110.5" fill="#96c6d8"/>
<rect x="424" y="253" width="246" height="110.5" fill="#e4f1f6"/>
<rect x="674" y="253" width="30.5" height="110.5" fill="#f6a5b5"/>
<text x="403.5" y="303" font-size="15.5" text-anchor="middle" fill="#333">Pole</text>
<text x="403.5" y="322" font-size="15.5" text-anchor="middle" fill="#333">A</text>
<text x="689" y="303" font-size="15.5" text-anchor="middle" fill="#333">Pole</text>
<text x="689" y="322" font-size="15.5" text-anchor="middle" fill="#333">B</text>
<circle cx="507.8" cy="275.8" r="7" fill="url(#grn)"/><circle cx="518.9" cy="292.9" r="7" fill="url(#grn)"/><circle cx="516.4" cy="295.5" r="7" fill="url(#grn)"/><circle cx="553.8" cy="272.3" r="7" fill="url(#grn)"/><circle cx="568" cy="263.8" r="7" fill="url(#grn)"/><circle cx="573.7" cy="266.3" r="7" fill="url(#grn)"/><circle cx="549.3" cy="289.8" r="7" fill="url(#grn)"/><circle cx="491.4" cy="310.7" r="7" fill="url(#grn)"/><circle cx="544.9" cy="308.1" r="7" fill="url(#grn)"/><circle cx="557" cy="312.3" r="7" fill="url(#grn)"/><circle cx="511" cy="327.8" r="7" fill="url(#grn)"/><circle cx="537.3" cy="332.5" r="7" fill="url(#grn)"/><circle cx="553.8" cy="338.2" r="7" fill="url(#grn)"/><circle cx="570.3" cy="332.5" r="7" fill="url(#grn)"/><circle cx="504.7" cy="348.7" r="7" fill="url(#grn)"/><circle cx="537" cy="354.7" r="7" fill="url(#grn)"/><circle cx="593.4" cy="289.8" r="7" fill="url(#grn)"/><circle cx="593.4" cy="305.6" r="7" fill="url(#grn)"/><circle cx="593.7" cy="333.5" r="7" fill="url(#grn)"/><circle cx="599.7" cy="342.4" r="7" fill="url(#grn)"/><circle cx="606.1" cy="272.7" r="7.2" fill="url(#gry)" opacity="0.88"/><circle cx="606.1" cy="272.7" r="1.3" fill="#a03040"/><circle cx="618.1" cy="294.5" r="7.2" fill="url(#gry)" opacity="0.88"/><circle cx="618.1" cy="294.5" r="1.3" fill="#a03040"/><circle cx="641.9" cy="294.5" r="7.2" fill="url(#gry)" opacity="0.88"/><circle cx="641.9" cy="294.5" r="1.3" fill="#a03040"/><circle cx="653.6" cy="294.5" r="7.2" fill="url(#gry)" opacity="0.88"/><circle cx="653.6" cy="294.5" r="1.3" fill="#a03040"/><circle cx="647.3" cy="269.5" r="7.2" fill="url(#gry)" opacity="0.88"/><circle cx="647.3" cy="269.5" r="1.3" fill="#a03040"/><circle cx="655.2" cy="262.2" r="7.2" fill="url(#gry)" opacity="0.88"/><circle cx="655.2" cy="262.2" r="1.3" fill="#a03040"/><circle cx="658" cy="260" r="7.2" fill="url(#gry)" opacity="0.88"/><circle cx="658" cy="260" r="1.3" fill="#a03040"/><circle cx="591.8" cy="298" r="7.2" fill="url(#gry)" opacity="0.88"/><circle cx="591.8" cy="298" r="1.3" fill="#a03040"/><circle cx="595" cy="318.3" r="7.2" fill="url(#gry)" opacity="0.88"/><circle cx="595" cy="318.3" r="1.3" fill="#a03040"/><circle cx="635.5" cy="315.4" r="7.2" fill="url(#gry)" opacity="0.88"/><circle cx="635.5" cy="315.4" r="1.3" fill="#a03040"/><circle cx="645.7" cy="318.3" r="7.2" fill="url(#gry)" opacity="0.88"/><circle cx="645.7" cy="318.3" r="1.3" fill="#a03040"/><circle cx="665.3" cy="323" r="7.2" fill="url(#gry)" opacity="0.88"/><circle cx="665.3" cy="323" r="1.3" fill="#a03040"/><circle cx="654.5" cy="335" r="7.2" fill="url(#gry)" opacity="0.88"/><circle cx="654.5" cy="335" r="1.3" fill="#a03040"/><circle cx="621.9" cy="344.6" r="7.2" fill="url(#gry)" opacity="0.88"/><circle cx="621.9" cy="344.6" r="1.3" fill="#a03040"/><circle cx="619.4" cy="351.9" r="7.2" fill="url(#gry)" opacity="0.88"/><circle cx="619.4" cy="351.9" r="1.3" fill="#a03040"/><circle cx="645.7" cy="351" r="7.2" fill="url(#gry)" opacity="0.88"/><circle cx="645.7" cy="351" r="1.3" fill="#a03040"/><circle cx="430.2" cy="260.6" r="7.2" fill="url(#navy)"/><circle cx="431.8" cy="265.4" r="7.2" fill="url(#navy)"/><circle cx="433.4" cy="276.5" r="7.2" fill="url(#navy)"/><circle cx="446" cy="281" r="7.2" fill="url(#navy)"/><circle cx="487.2" cy="267" r="7.2" fill="url(#navy)"/><circle cx="480.9" cy="276.5" r="7.2" fill="url(#navy)"/><circle cx="473" cy="280.2" r="7.2" fill="url(#navy)"/><circle cx="469.8" cy="289.1" r="7.2" fill="url(#navy)"/><circle cx="437.2" cy="297" r="7.2" fill="url(#navy)"/><circle cx="427" cy="305" r="7.2" fill="url(#navy)"/><circle cx="447.6" cy="308.8" r="7.2" fill="url(#navy)"/><circle cx="457.1" cy="310.4" r="7.2" fill="url(#navy)"/><circle cx="498.3" cy="307.5" r="7.2" fill="url(#navy)"/><circle cx="440.3" cy="325.6" r="7.2" fill="url(#navy)"/><circle cx="451.7" cy="325.6" r="7.2" fill="url(#navy)"/><circle cx="476.1" cy="326.5" r="7.2" fill="url(#navy)"/><circle cx="501.5" cy="323" r="7.2" fill="url(#navy)"/><circle cx="487.9" cy="340.5" r="7.2" fill="url(#navy)"/><circle cx="447.6" cy="345.5" r="7.2" fill="url(#navy)"/><circle cx="439.7" cy="351.9" r="7.2" fill="url(#navy)"/>
<g fill="none" stroke="#111" stroke-width="1.8" stroke-dasharray="5 4.3">
<path d="M425 365 L390 422"/>
<path d="M670 365 L704 422"/>
<rect x="389.5" y="423" width="315.5" height="100.5"/>
</g>
<text x="394" y="438.6" font-size="17.5" font-weight="bold" fill="#111">Morphogen forming circuit</text>
<text x="399.3" y="490" font-size="15.7" fill="#333">morphogen</text>
<text x="655.5" y="480" font-size="15.7" text-anchor="middle" fill="#333">morphogen</text>
<text x="655.5" y="498.7" font-size="15.7" text-anchor="middle" fill="#333">inhibitor</text>
<text x="518" y="471" font-size="13.7" font-weight="bold" fill="#1d9a6c">Gene A</text>
<text x="517" y="513" font-size="13.7" font-weight="bold" fill="#6eb2e2">Gene B</text>
<path d="M481 485 L507 471 M481 485 L507 502" stroke="#111" stroke-width="1.4" fill="none"/>
<path d="M515 468 L504 467 L509 476 Z M515 506.5 L509 497 L504 506 Z" fill="#111"/>
<path d="M568 468.6 C578 460 574 447 562 448 C556 449 552 452 550 455" stroke="#1d9a6c" stroke-width="1.6" fill="none"/>
<path d="M545 458 L553 451 L554 459 Z" fill="#1d9a6c"/>
<g stroke="#c0272d" stroke-width="3.6" fill="none"><path d="M615 492 L576 507"/><path d="M572.4 501.5 L579.6 515.8"/></g>
<defs><radialGradient id="ball" cx="0.55" cy="0.45" r="0.6"><stop offset="0" stop-color="#c0d6ee"/><stop offset="0.5" stop-color="#a6d4e8"/><stop offset="1" stop-color="#5cc4d2"/></radialGradient></defs>
<path d="M810 179.5 L828.5 147 L847 179.5 Z" fill="#b0b0b2"/>
<path d="M924 146 L943 146 L952.5 163 L943 180 L924 180 L914.5 163 Z" fill="#6aa8d5" stroke="#5a90b8" stroke-width="0.6"/>
<path d="M1038.0,143.0 L1042.9,156.3 L1057.0,156.8 L1045.9,165.6 L1049.8,179.2 L1038.0,171.3 L1026.2,179.2 L1030.1,165.6 L1019.0,156.8 L1033.1,156.3 Z" fill="#0e9a6c"/>
<g transform="translate(0 0)" fill="#e8412e"><path d="M838.2,182.7 L838.3,185.4 L838.6,188.1 L839.0,190.7 L839.6,193.3 L840.4,195.9 L841.4,198.4 L842.5,200.9 L843.8,203.3 L845.3,205.6 L846.9,207.8 L848.7,210.0 L850.6,212.0 L852.6,213.8 L854.8,215.6 L857.0,217.2 L859.4,218.7 L861.9,220.0 L864.5,221.1 L867.1,222.1 L869.8,222.9 L872.6,223.5 L875.4,223.9 L878.2,224.2 L881.1,224.3 L884.0,224.2 L886.8,223.9 L889.7,223.4 L892.5,222.7 L895.2,221.8 L898.0,220.8 L900.6,219.5 L903.2,218.1 L905.7,216.6 L908.0,214.8 L910.3,212.9 L912.5,210.9 L914.5,208.7 L916.3,206.4 L918.1,204.0 L919.6,201.4 L912.8,197.9 L911.7,200.2 L910.4,202.3 L908.9,204.3 L907.3,206.3 L905.6,208.2 L903.8,209.9 L901.9,211.5 L899.8,213.0 L897.7,214.4 L895.5,215.6 L893.2,216.6 L890.8,217.5 L888.4,218.3 L885.9,218.9 L883.4,219.3 L880.8,219.6 L878.3,219.7 L875.7,219.6 L873.2,219.4 L870.6,219.0 L868.1,218.5 L865.7,217.7 L863.2,216.8 L860.9,215.8 L858.6,214.6 L856.4,213.2 L854.3,211.7 L852.2,210.1 L850.3,208.3 L848.5,206.5 L846.9,204.5 L845.3,202.3 L843.9,200.1 L842.7,197.8 L841.6,195.5 L840.6,193.0 L839.8,190.5 L839.2,187.9 L838.8,185.3 L838.5,182.7 Z"/><path d="M920.5 181.5 L903.5 198 L927.5 204 Z"/></g>
<g transform="translate(109 0)" fill="#e8412e"><path d="M838.2,182.7 L838.3,185.4 L838.6,188.1 L839.0,190.7 L839.6,193.3 L840.4,195.9 L841.4,198.4 L842.5,200.9 L843.8,203.3 L845.3,205.6 L846.9,207.8 L848.7,210.0 L850.6,212.0 L852.6,213.8 L854.8,215.6 L857.0,217.2 L859.4,218.7 L861.9,220.0 L864.5,221.1 L867.1,222.1 L869.8,222.9 L872.6,223.5 L875.4,223.9 L878.2,224.2 L881.1,224.3 L884.0,224.2 L886.8,223.9 L889.7,223.4 L892.5,222.7 L895.2,221.8 L898.0,220.8 L900.6,219.5 L903.2,218.1 L905.7,216.6 L908.0,214.8 L910.3,212.9 L912.5,210.9 L914.5,208.7 L916.3,206.4 L918.1,204.0 L919.6,201.4 L912.8,197.9 L911.7,200.2 L910.4,202.3 L908.9,204.3 L907.3,206.3 L905.6,208.2 L903.8,209.9 L901.9,211.5 L899.8,213.0 L897.7,214.4 L895.5,215.6 L893.2,216.6 L890.8,217.5 L888.4,218.3 L885.9,218.9 L883.4,219.3 L880.8,219.6 L878.3,219.7 L875.7,219.6 L873.2,219.4 L870.6,219.0 L868.1,218.5 L865.7,217.7 L863.2,216.8 L860.9,215.8 L858.6,214.6 L856.4,213.2 L854.3,211.7 L852.2,210.1 L850.3,208.3 L848.5,206.5 L846.9,204.5 L845.3,202.3 L843.9,200.1 L842.7,197.8 L841.6,195.5 L840.6,193.0 L839.8,190.5 L839.2,187.9 L838.8,185.3 L838.5,182.7 Z"/><path d="M920.5 181.5 L903.5 198 L927.5 204 Z"/></g>
<g stroke="#64aadc" stroke-width="3.6">
<path d="M830 244 L852 244"/><path d="M903 244 L925 244"/>
<path d="M830 280 L852 280"/><path d="M903 280 L925 280"/>
<path d="M830 315 L852 315"/><path d="M903 315 L925 315"/>
</g>
<g stroke="#12986c" stroke-width="2.8" fill="none">
<path d="M945 244 L962 244"/><path d="M1011 244 L1026 244"/>
<path d="M918.7 235.0 A15 15 0 1 1 918.7 253.0"/>
<path d="M1052.2 234.4 A15 15 0 1 0 1052.2 253.6"/>
<path d="M945 280 L962 280"/><path d="M1011 280 L1026 280"/>
<path d="M918.7 271.0 A15 15 0 1 1 918.7 289.0"/>
<path d="M1052.2 270.4 A15 15 0 1 0 1052.2 289.6"/>
<path d="M945 315 L962 315"/><path d="M1011 315 L1026 315"/>
<path d="M918.7 306.0 A15 15 0 1 1 918.7 324.0"/>
<path d="M1052.2 305.4 A15 15 0 1 0 1052.2 324.6"/>
</g>
<circle cx="823" cy="244" r="12.4" fill="url(#ball)"/>
<circle cx="930.7" cy="244" r="12.4" fill="url(#ball)" stroke="#fff" stroke-width="1.1"/>
<circle cx="823" cy="280" r="12.4" fill="url(#ball)"/>
<circle cx="930.7" cy="280" r="12.4" fill="url(#ball)" stroke="#fff" stroke-width="1.1"/>
<circle cx="823" cy="315" r="12.4" fill="url(#ball)"/>
<circle cx="930.7" cy="315" r="12.4" fill="url(#ball)" stroke="#fff" stroke-width="1.1"/>
<rect x="852.5" y="214.5" width="50" height="135" rx="25" fill="#a0e8ee" stroke="#1a6fc0" stroke-width="3"/>
<rect x="962.5" y="216" width="48.5" height="132" rx="24" fill="#52c07e" stroke="#3b5e18" stroke-width="2"/>
<g fill="none" stroke="#111" stroke-width="1.8" stroke-dasharray="5 4.3">
<path d="M862 350 L767 409"/><path d="M892 350 L930 409"/><path d="M980 348 L930 409"/><path d="M1000 348 L1097 409"/>
<rect x="767" y="409" width="330" height="114.5"/><path d="M930 409 L930 523.5"/>
</g>
<text x="775" y="431" font-size="16.8" font-weight="bold" fill="#111">Cell A</text>
<text x="937" y="431" font-size="16.8" font-weight="bold" fill="#111">Cell B</text>
<g transform="translate(0 0)"><path d="M786 483 L910 483" stroke="#000" stroke-width="3.5"/><path d="M797 483 L797 463.5 L812 463.5" stroke="#000" stroke-width="3" fill="none"/><path d="M825.5 463 L808 456 L808 470 Z" fill="#000"/><path d="M825.5 474 L862 474 L862 465 L882 483 L862 501 L862 492 L825.5 492 Z" fill="#6aaee0"/><path d="M887 465 L905 465" stroke="#c0272d" stroke-width="4.6" fill="none"/><path d="M896 465 L896 483" stroke="#c0272d" stroke-width="4.4" fill="none"/><text x="850" y="488.2" font-size="15.8" text-anchor="middle" fill="#f4f8fc">Step I</text></g>
<g transform="translate(164.5 0)"><path d="M786 483 L910 483" stroke="#000" stroke-width="3.5"/><path d="M797 483 L797 463.5 L812 463.5" stroke="#000" stroke-width="3" fill="none"/><path d="M825.5 463 L808 456 L808 470 Z" fill="#000"/><path d="M825.5 474 L862 474 L862 465 L882 483 L862 501 L862 492 L825.5 492 Z" fill="#12a070"/><path d="M887 465 L905 465" stroke="#c0272d" stroke-width="4.6" fill="none"/><path d="M896 465 L896 483" stroke="#c0272d" stroke-width="4.4" fill="none"/><text x="850" y="488.2" font-size="15.8" text-anchor="middle" fill="#f4f8fc">Step II</text></g>
<defs><path id="lp" d="M48.8 640.5 C62 641 80 643 92 642.5 C95 641 95 636 92.5 632 C87 625 90.5 617.5 100 617.5 C109.5 617.5 113 625 107.5 632 C105 636 105 641 109 643 C125 642 140 639 152 638.5 C151 650 150.5 662 150.5 673 C146 676 140 670 134 672 C127 674 126 692 133 695 C139 698 146 692 150.5 695 C150 706 150 716 150 726.6 C136 722 122 718.5 109 718.5 C105 720 105 724 107.5 728 C113 734 109.5 743.5 99.5 743.5 C89.5 743.5 86 734 91.5 728 C94 724 94 720 91.5 719 C76 719 60 720 46.8 720.5 C47 711 47 702 47 693 C52 690 60 698 67 695 C74 692 74 674 67 671 C60 668 52 676 47 673 C46 662 47 650 48.8 640.5 Z"/><path id="rp" d="M152 638.5 C165 637 178 637 190 637 C196 640 196 645 192 650 C188 657 195 662 202 662 C210 662 216 657 211 650 C207 645 207 640 212 637 C225 637 240 638 251.7 639.8 C251 651 251 662 251 673.6 C256 677 262 670 268 672 C275 675 275 692 268 695 C262 698 256 692 251 695.3 C251 707 252 720 253 731.7 C240 731 225 730 212 729 C207 726 207 722 211 716 C215 710 210 706.8 202 706.8 C194 706.8 189 710 193 716 C196 722 196 726 190 728 C176 728 162 727 149 726 C149.5 714 150 703 150 692 C146 690 140 697 133 694 C127 690 127 675 134 673 C140 671 146 678 150 675.5 C150.5 663 151.5 650 152 638.5 Z"/><filter id="pshadow" x="-10%" y="-10%" width="125%" height="125%"><feDropShadow dx="2.2" dy="2.5" stdDeviation="1.3" flood-color="#000" flood-opacity="0.55"/></filter><radialGradient id="cyanpill" cx="0.5" cy="0.5" r="0.58"><stop offset="0" stop-color="#b8d2f0"/><stop offset="0.4" stop-color="#a6d6ec"/><stop offset="1" stop-color="#52c4d4"/></radialGradient><radialGradient id="greenpill" cx="0.5" cy="0.5" r="0.55"><stop offset="0" stop-color="#3eb852"/><stop offset="0.6" stop-color="#22a040"/><stop offset="1" stop-color="#0a8530"/></radialGradient><radialGradient id="yeastg" cx="0.5" cy="0.55" r="0.6"><stop offset="0" stop-color="#f0f2b0"/><stop offset="0.6" stop-color="#dfe6b0"/><stop offset="1" stop-color="#b4c8b0"/></radialGradient><radialGradient id="mushg" cx="0.55" cy="0.5" r="0.6"><stop offset="0" stop-color="#b8e088"/><stop offset="0.45" stop-color="#d0a868"/><stop offset="1" stop-color="#d08c58"/></radialGradient><radialGradient id="mcellg" cx="0.45" cy="0.45" r="0.6"><stop offset="0" stop-color="#f6eef0"/><stop offset="0.6" stop-color="#f4d4dc"/><stop offset="1" stop-color="#eeb0c0"/></radialGradient></defs>
<g transform="translate(0 0)">
<g filter="url(#pshadow)"><use href="#lp" fill="#b5f5ea" stroke="#3f86c0" stroke-width="1.5"/><use href="#rp" fill="#5ec5cb" stroke="#2f7cc0" stroke-width="1.5"/></g>
<rect x="77.6" y="672" width="53" height="22" rx="11" transform="rotate(-55.7 104.1 683)" fill="url(#cyanpill)" stroke="#fff" stroke-width="1.6"/>
</g>
<g transform="translate(279.5 0)">
<g filter="url(#pshadow)"><use href="#lp" fill="#b5f5ea" stroke="#3f86c0" stroke-width="1.5"/><use href="#rp" fill="#88c440" stroke="#3a7a1a" stroke-width="1.5"/></g>
<rect x="77.6" y="669.6" width="53" height="22" rx="11" transform="rotate(-55.7 104.1 680.6)" fill="url(#cyanpill)" stroke="#fff" stroke-width="1.6"/>
</g>
<g transform="translate(550.5 0)">
<g filter="url(#pshadow)"><use href="#lp" fill="#b5f5ea" stroke="#3f86c0" stroke-width="1.5"/><use href="#rp" fill="#6a9cba" stroke="#1e2e82" stroke-width="1.5"/></g>
<rect x="77.6" y="667.5" width="53" height="22" rx="11" transform="rotate(-55.7 104.1 678.5)" fill="url(#cyanpill)" stroke="#fff" stroke-width="1.6"/>
</g>
<g transform="translate(829.5 0)">
<g filter="url(#pshadow)"><use href="#lp" fill="#b5f5ea" stroke="#3f86c0" stroke-width="1.5"/><use href="#rp" fill="#f096a2" stroke="#a8485a" stroke-width="1.5"/></g>
<rect x="77.6" y="666.5" width="53" height="22" rx="11" transform="rotate(-55.7 104.1 677.5)" fill="url(#cyanpill)" stroke="#fff" stroke-width="1.6"/>
</g>
<rect x="172.25" y="672.3" width="57.5" height="23" rx="11.5" transform="rotate(18.7 201 683.8)" fill="url(#greenpill)" stroke="#fff" stroke-width="1.8"/>
<g><ellipse cx="461.3" cy="671.1" rx="10.5" ry="8.5" fill="url(#yeastg)" stroke="#6a8a40" stroke-width="0.9"/><ellipse cx="484" cy="683.5" rx="23.7" ry="17" transform="rotate(10 484 683.5)" fill="url(#yeastg)" stroke="#6a8a40" stroke-width="0.9"/><ellipse cx="497" cy="681" rx="7" ry="5" transform="rotate(10 497 681)" fill="#b8c498" opacity="0.8"/></g>
<g><path d="M738 672 L756 672.5 L756 686 L738 684.5 Z" fill="#ecebcc"/><path d="M735.4 657 C724 660 716 670 717 682 C718 694 726 701 736 701 C740 690 740 668 735.4 657 Z" fill="url(#mushg)" stroke="#c08850" stroke-width="0.6"/><path d="M756 671.7 C758 668 762 665 765.5 663.8 C769 662 773 659 778.9 655 M765.5 663.8 L769 659.4 M773.4 659 L778.1 661 M770.2 665.4 L778.1 665.4 M756.8 673.3 C760 673 763 673.3 765.5 673.3 C770 673 774 672 777.4 671.7 M771 672.5 L775 670.1 M756.8 674.9 C761 675.5 765 676 769.4 676.1 C774 676.5 778 676.5 781.3 676.5 C785 676 788 675.5 790 675.3 M777.4 676.5 L784.5 678.8 M756.8 680.4 C760 681 763 681 765.5 681.2 C769 682 771 682.8 773.4 682.8 L781.3 682.8 M756.8 684.4 C760 685.5 763 686.5 765.5 686.8 C769 687.5 772 688 773.4 688.3 L779.7 689.5 M771.8 691.5 L778.9 694.7 M757.5 686 C759 689 761 692 762.3 693.9 C763.5 697 764.5 699 765.5 701.8 M763.9 697 L772.6 695.5 M765.5 698.6 C769 699.5 772 700 775 701 C776 703 777 705 777.4 707.4 M775 701 L783.7 706.6" stroke="#b4b4a0" stroke-width="2.4" fill="none" stroke-linecap="round"/><path d="M756 671.7 C758 668 762 665 765.5 663.8 C769 662 773 659 778.9 655 M765.5 663.8 L769 659.4 M773.4 659 L778.1 661 M770.2 665.4 L778.1 665.4 M756.8 673.3 C760 673 763 673.3 765.5 673.3 C770 673 774 672 777.4 671.7 M771 672.5 L775 670.1 M756.8 674.9 C761 675.5 765 676 769.4 676.1 C774 676.5 778 676.5 781.3 676.5 C785 676 788 675.5 790 675.3 M777.4 676.5 L784.5 678.8 M756.8 680.4 C760 681 763 681 765.5 681.2 C769 682 771 682.8 773.4 682.8 L781.3 682.8 M756.8 684.4 C760 685.5 763 686.5 765.5 686.8 C769 687.5 772 688 773.4 688.3 L779.7 689.5 M771.8 691.5 L778.9 694.7 M757.5 686 C759 689 761 692 762.3 693.9 C763.5 697 764.5 699 765.5 701.8 M763.9 697 L772.6 695.5 M765.5 698.6 C769 699.5 772 700 775 701 C776 703 777 705 777.4 707.4 M775 701 L783.7 706.6" stroke="#ecead0" stroke-width="1.5" fill="none" stroke-linecap="round"/><g></g></g>
<g><path d="M1008.5 661.1 L1027 663.6 L1049.2 667.9 Q1053 670 1054.1 680.8 L1049.8 696.8 Q1040 701 1014.6 701.8 Q1010 701 996.8 680.8 L1001.1 667.3 Q1003 662 1008.5 661.1 Z" fill="url(#mcellg)" stroke="#b85a70" stroke-width="1.1"/><circle cx="1012.8" cy="677.1" r="6.5" fill="#d8c4cc"/><path d="M1005 667 C1012 664 1020 668 1024 674 M1006 688 C1012 692 1018 690 1020 686" stroke="#f0a8c8" stroke-width="2" fill="none"/></g>
<text x="159.5" y="765" font-size="15.9" text-anchor="middle" fill="#2a2a2a">Dual-species bacteria</text>
<text x="437" y="765" font-size="15.9" text-anchor="middle" fill="#2a2a2a">Bacteria-yeast</text>
<text x="714" y="765" font-size="15.9" text-anchor="middle" fill="#2a2a2a">Bacteria-fungi</text>
<text x="983.5" y="765" font-size="15.9" text-anchor="middle" fill="#2a2a2a">Bacteria-mammalian cell</text>
<defs><linearGradient id="gpill" x1="0" y1="0" x2="0" y2="1"><stop offset="0" stop-color="#0c8a34"/><stop offset="0.5" stop-color="#30b04a"/><stop offset="1" stop-color="#0c8a34"/></linearGradient><radialGradient id="cpill" cx="0.5" cy="0.5" r="0.62"><stop offset="0" stop-color="#bcd6f2"/><stop offset="0.45" stop-color="#a6d6ea"/><stop offset="1" stop-color="#56c6d6"/></radialGradient><linearGradient id="sub2" x1="0" y1="0" x2="0" y2="1"><stop offset="0" stop-color="#9fb6b8"/><stop offset="0.55" stop-color="#c4d2cc"/><stop offset="1" stop-color="#eeeedf"/></linearGradient><linearGradient id="sub3" x1="0" y1="0" x2="0" y2="1"><stop offset="0" stop-color="#b0b1b3"/><stop offset="0.5" stop-color="#bcc4c4"/><stop offset="1" stop-color="#dce9e8"/></linearGradient><linearGradient id="dome" x1="0" y1="0" x2="0" y2="1"><stop offset="0" stop-color="#bf8f5e"/><stop offset="0.55" stop-color="#c89e74"/><stop offset="1" stop-color="#ead8c4"/></linearGradient><linearGradient id="tis" x1="0" y1="0" x2="0" y2="1"><stop offset="0" stop-color="#f5f2ec"/><stop offset="0.35" stop-color="#f2cfbe"/><stop offset="0.55" stop-color="#ee9a72"/><stop offset="0.8" stop-color="#f1b898"/><stop offset="1" stop-color="#f0e6d8"/></linearGradient></defs>
<path d="M148.8 880.8 C149.8 880.3 152.9 878.4 154.9 877.4 C156.8 876.4 158.5 875.5 160.6 874.6 C162.6 873.6 165.1 872.3 167.3 871.8 C169.4 871.3 171.4 871.5 173.5 871.5 C175.5 871.6 177.6 871.5 179.6 872.3 C181.6 873.1 183.6 875.0 185.7 876.4 C187.8 877.9 190.6 879.2 192.3 881.0 C193.9 882.8 195.2 885.3 195.7 887.5 C196.1 889.6 195.4 891.5 195.0 893.7 C194.6 895.9 193.6 898.4 193.5 900.6 C193.3 902.8 193.4 905.1 194.2 907.0 C195.0 908.8 196.4 910.5 198.2 911.6 C199.9 912.6 202.6 913.0 204.8 913.2 C207.1 913.4 209.6 913.1 211.9 912.9 C214.2 912.6 218.5 911.0 218.7 911.5 C219.0 912.1 215.6 915.0 213.4 915.9 C211.3 916.9 208.1 917.6 205.9 917.3 C203.6 917.0 201.7 915.4 200.1 914.0 C198.5 912.6 197.7 910.6 196.3 908.6 C194.9 906.7 193.5 904.5 191.9 902.5 C190.4 900.5 188.8 898.5 186.9 896.7 C185.0 895.0 182.3 893.5 180.5 892.0 C178.7 890.5 178.0 889.3 176.2 887.8 C174.4 886.4 172.1 884.6 169.8 883.3 C167.6 882.0 164.8 880.7 162.6 880.0 C160.4 879.3 158.8 879.2 156.5 879.1 C154.2 879.0 151.2 878.8 149.0 879.2 C146.8 879.7 145.0 880.2 143.3 881.7 C141.6 883.2 139.8 886.1 138.8 888.2 C137.7 890.3 136.9 892.1 136.9 894.1 C136.8 896.1 137.1 898.4 138.4 900.1 C139.7 901.9 142.3 903.9 144.5 904.6 C146.7 905.3 149.7 904.9 151.6 904.1 C153.6 903.2 155.1 901.3 156.2 899.6 C157.3 897.9 157.9 895.7 158.2 893.7 C158.6 891.7 158.2 888.5 158.2 887.5 M144.0 829.5 C143.2 830.6 141.4 833.9 139.7 835.8 C138.0 837.7 135.6 839.2 133.8 840.8 C131.9 842.4 130.6 844.1 128.6 845.3 C126.7 846.5 124.2 846.9 121.9 847.9 C119.5 848.9 116.6 850.0 114.6 851.3 C112.6 852.6 111.5 854.3 110.0 855.9 C108.5 857.5 106.8 859.1 105.6 860.9 C104.5 862.7 103.2 864.4 103.0 866.5 C102.9 868.6 103.5 871.6 104.8 873.4 C106.0 875.3 108.5 877.0 110.6 877.6 C112.7 878.2 115.3 877.5 117.5 877.1 C119.8 876.6 121.9 875.9 124.1 874.9 C126.4 873.9 129.2 872.8 131.0 871.3 C132.7 869.8 133.3 868.1 134.5 866.1 C135.8 864.1 137.5 861.7 138.4 859.5 C139.2 857.4 139.3 855.6 139.7 853.3 C140.0 850.9 140.8 848.0 140.6 845.4 C140.4 842.9 139.1 840.3 138.4 837.8 C137.8 835.4 137.2 833.0 136.5 830.9 C135.7 828.8 135.6 826.9 134.2 825.1 C132.8 823.3 130.2 821.0 127.9 820.3 C125.7 819.5 122.7 819.7 120.5 820.6 C118.4 821.5 116.1 823.8 114.9 825.8 C113.7 827.7 113.1 830.0 113.5 832.2 C113.8 834.4 115.3 837.3 116.9 838.8 C118.4 840.3 120.6 841.2 122.8 841.3 C125.1 841.4 128.3 840.5 130.3 839.4 C132.3 838.3 133.5 836.4 135.0 834.8 C136.5 833.2 138.3 831.8 139.1 829.9 C139.9 828.0 140.1 825.3 139.7 823.4 C139.3 821.4 138.1 819.4 136.5 818.2 C134.9 816.9 132.2 816.1 130.1 816.0 C128.1 816.0 125.8 816.5 124.1 817.9 C122.5 819.3 121.1 822.3 120.0 824.5 C118.9 826.7 118.3 829.1 117.5 831.4 C116.7 833.7 115.7 837.1 115.3 838.2 M186.5 940.5 C185.5 941.0 182.3 943.1 180.2 943.4 C178.2 943.7 176.0 943.3 174.2 942.2 C172.4 941.0 170.2 938.6 169.5 936.4 C168.7 934.2 168.7 931.1 169.6 928.9 C170.4 926.7 172.6 924.3 174.5 923.2 C176.5 922.0 178.9 921.6 181.2 922.1 C183.4 922.6 186.4 924.4 187.8 926.2 C189.3 927.9 190.1 930.4 190.0 932.6 C189.9 934.9 188.8 938.1 187.2 939.8 C185.7 941.6 183.1 942.8 180.9 943.3 C178.6 943.8 175.6 943.5 173.7 942.7 C171.8 941.9 170.2 940.4 169.3 938.4 C168.5 936.3 168.0 932.8 168.6 930.4 C169.1 928.1 170.9 925.8 172.8 924.3 C174.7 922.8 177.5 921.7 179.7 921.5 C182.0 921.4 184.7 922.3 186.3 923.5 C188.0 924.7 189.3 926.8 189.7 928.7 C190.1 930.5 189.9 932.9 189.0 934.7 C188.0 936.5 185.9 938.3 183.9 939.4 C181.9 940.6 179.2 941.5 176.9 941.8 C174.5 942.0 171.6 941.9 169.7 941.0 C167.7 940.1 166.5 938.0 165.2 936.3 C163.8 934.6 162.5 932.7 161.7 930.7 C161.0 928.7 161.0 926.7 160.7 924.3 C160.4 922.0 159.9 919.0 159.9 916.6 C159.9 914.1 159.8 911.7 160.7 909.7 C161.5 907.8 163.3 905.7 165.1 904.8 C166.9 903.8 169.2 903.4 171.4 903.8 C173.6 904.3 176.5 905.6 178.1 907.4 C179.7 909.2 180.8 912.2 181.0 914.6 C181.3 917.0 180.5 919.6 179.6 921.6 C178.8 923.7 177.7 925.2 176.1 926.8 C174.4 928.3 171.9 930.4 169.6 930.9 C167.3 931.5 164.2 931.0 162.3 930.0 C160.3 929.0 159.0 927.1 157.8 925.2 C156.7 923.3 155.7 919.8 155.3 918.8 M121.8 829.7 C120.8 830.2 117.6 831.5 115.4 832.5 C113.2 833.6 110.9 835.4 108.6 836.0 C106.3 836.7 103.9 836.3 101.7 836.4 C99.6 836.5 97.6 837.0 95.7 836.7 C93.7 836.4 90.4 836.2 89.9 834.8 C89.3 833.4 91.2 829.8 92.5 828.2 C93.7 826.5 95.7 825.7 97.5 824.9 C99.3 824.0 101.2 823.0 103.2 822.9 C105.2 822.8 107.6 823.7 109.5 824.4 C111.5 825.1 113.3 825.8 115.0 827.0 C116.7 828.3 118.7 830.0 119.9 832.0 C121.0 833.9 122.2 836.6 122.1 838.9 C121.9 841.3 120.5 844.5 119.0 846.2 C117.6 847.9 115.3 848.9 113.3 849.2 C111.3 849.5 109.2 848.6 107.1 847.9 C105.0 847.3 102.5 846.5 100.7 845.3 C98.8 844.1 97.6 842.5 96.2 840.8 C94.8 839.2 93.2 837.4 92.3 835.4 C91.4 833.3 89.7 829.9 90.6 828.5 C91.6 827.1 95.5 827.7 97.9 826.9 C100.4 826.1 103.2 825.4 105.1 823.8 C107.0 822.2 108.4 819.3 109.3 817.1 C110.2 815.0 109.0 812.4 110.4 811.0 C111.7 809.6 115.0 809.2 117.3 808.9 C119.7 808.5 122.3 808.1 124.4 808.9 C126.6 809.7 129.1 811.8 130.3 813.8 C131.5 815.7 131.8 818.5 131.5 820.6 C131.2 822.7 130.0 824.8 128.3 826.1 C126.6 827.5 123.5 828.7 121.1 828.7 C118.8 828.8 116.2 827.5 114.1 826.2 C112.0 824.8 109.6 823.0 108.5 820.8 C107.4 818.6 107.1 815.2 107.7 812.9 C108.3 810.5 110.1 808.2 111.9 806.6 C113.8 805.0 116.7 803.4 119.0 803.1 C121.2 802.8 123.4 803.9 125.5 804.8 C127.5 805.6 130.4 807.7 131.4 808.2 M163.6 911.7 C162.6 912.4 158.6 913.8 157.2 915.7 C155.7 917.6 154.8 920.7 154.8 922.9 C154.8 925.1 156.1 927.3 157.3 929.1 C158.4 930.9 159.8 932.7 161.7 933.5 C163.6 934.3 166.4 934.5 168.7 934.1 C171.1 933.6 173.6 932.4 175.8 931.1 C178.0 929.7 180.2 928.0 181.9 926.1 C183.7 924.1 185.7 921.7 186.3 919.5 C186.9 917.3 186.5 914.9 185.6 913.1 C184.7 911.3 182.9 909.6 181.0 908.4 C179.1 907.3 176.5 906.3 174.1 906.0 C171.7 905.7 168.7 906.0 166.5 906.6 C164.2 907.2 162.2 907.9 160.5 909.4 C158.7 910.9 157.2 913.6 155.8 915.5 C154.5 917.5 153.9 919.2 152.4 920.9 C150.8 922.7 148.5 924.8 146.4 926.2 C144.4 927.6 142.1 928.2 140.0 929.2 C137.8 930.2 135.7 931.2 133.6 932.2 C131.4 933.3 128.9 933.8 127.0 935.3 C125.1 936.9 123.3 941.7 122.2 941.6 C121.1 941.5 121.6 937.0 120.5 935.0 C119.4 933.0 117.6 930.5 115.7 929.4 C113.7 928.3 110.5 929.6 108.7 928.3 C106.8 927.1 105.2 924.0 104.3 921.7 C103.5 919.5 103.7 917.1 103.6 914.8 C103.5 912.5 103.0 910.3 103.5 907.9 C104.0 905.6 105.3 902.7 106.6 900.8 C107.8 898.8 109.6 897.6 111.3 896.1 C113.0 894.5 114.8 892.4 116.8 891.4 C118.7 890.4 121.0 889.9 122.9 890.2 C124.8 890.5 126.7 891.8 128.2 893.1 C129.8 894.4 131.5 896.2 132.3 898.1 C133.0 900.1 133.2 902.5 132.9 904.8 C132.6 907.0 131.3 909.3 130.4 911.6 C129.5 913.9 128.1 916.2 127.6 918.5 C127.1 920.8 127.3 924.3 127.3 925.5 M118.1 827.3 C117.0 827.1 113.7 826.5 111.4 826.4 C109.1 826.3 106.4 826.0 104.3 826.6 C102.2 827.1 100.5 828.3 98.7 829.7 C97.0 831.2 95.3 833.2 94.1 835.3 C92.8 837.4 92.0 840.0 91.3 842.5 C90.6 845.0 89.9 847.7 90.1 850.1 C90.3 852.6 91.5 854.9 92.6 857.2 C93.6 859.5 94.9 862.2 96.4 864.0 C97.9 865.9 99.8 866.8 101.4 868.3 C103.0 869.8 105.0 870.8 106.1 872.8 C107.1 874.8 107.5 878.0 107.9 880.3 C108.2 882.7 108.5 884.7 108.2 886.8 C107.8 888.9 106.7 890.7 105.7 892.9 C104.8 895.0 103.7 897.6 102.8 899.9 C101.8 902.3 100.5 904.7 100.2 907.1 C99.9 909.4 100.4 911.8 100.8 913.8 C101.2 915.9 101.5 917.8 102.8 919.5 C104.1 921.3 106.4 922.7 108.5 924.2 C110.6 925.7 113.0 927.7 115.2 928.4 C117.5 929.1 119.9 928.9 122.3 928.6 C124.6 928.4 126.9 927.6 129.1 927.1 C131.2 926.5 133.4 926.2 135.2 925.2 C136.9 924.1 138.7 922.6 139.5 920.7 C140.3 918.8 140.5 915.7 139.9 913.6 C139.3 911.4 137.5 909.0 135.8 907.8 C134.1 906.6 131.8 905.9 129.6 906.2 C127.4 906.5 124.9 908.2 122.7 909.6 C120.5 910.9 117.8 912.6 116.5 914.4 C115.1 916.1 115.1 918.1 114.7 920.2 C114.2 922.3 114.2 924.9 113.8 927.1 C113.4 929.3 112.9 933.6 112.2 933.6 C111.5 933.6 110.8 929.0 109.4 927.1 C108.0 925.2 105.7 923.6 103.9 922.1 C102.2 920.6 100.8 919.5 98.9 918.2 C97.0 916.9 94.6 915.3 92.5 914.3 C90.5 913.3 87.5 912.6 86.5 912.2 M105.1 873.9 C106.2 874.5 110.1 875.7 111.8 877.4 C113.5 879.2 115.0 882.0 115.4 884.3 C115.7 886.5 115.1 889.1 113.9 890.9 C112.7 892.7 110.6 894.5 108.4 895.2 C106.2 895.8 103.2 895.5 100.8 894.8 C98.3 894.1 95.5 892.9 93.9 891.1 C92.3 889.2 91.3 886.2 91.2 884.0 C91.1 881.8 91.9 879.3 93.4 877.6 C94.9 875.8 97.7 874.1 100.1 873.6 C102.4 873.1 105.6 873.7 107.5 874.8 C109.5 875.9 111.2 878.1 112.0 880.0 C112.7 881.9 112.6 884.1 112.0 886.1 C111.4 888.2 109.7 890.2 108.5 892.1 C107.3 894.0 106.2 895.9 104.8 897.7 C103.3 899.5 101.4 901.0 99.7 902.9 C98.0 904.7 96.2 907.1 94.6 908.9 C93.0 910.7 90.4 914.0 89.9 913.6 C89.3 913.2 90.3 908.5 91.5 906.7 C92.8 904.8 95.2 903.0 97.4 902.3 C99.6 901.7 102.9 902.0 104.9 902.8 C106.9 903.6 108.4 905.1 109.3 907.0 C110.1 908.9 110.3 912.1 110.1 914.4 C109.8 916.7 108.5 918.8 107.7 920.8 C107.0 922.9 106.2 926.8 105.5 926.8 C104.7 926.8 104.1 923.1 103.2 921.0 C102.3 919.0 100.7 917.0 100.2 914.7 C99.6 912.5 99.2 909.7 99.9 907.6 C100.6 905.4 102.6 903.0 104.3 901.8 C106.1 900.6 108.2 900.1 110.3 900.5 C112.4 900.9 114.9 902.6 117.0 904.0 C119.1 905.5 120.9 907.7 122.8 909.3 C124.7 910.8 126.4 912.5 128.4 913.4 C130.5 914.3 133.1 914.7 135.3 914.8 C137.4 915.0 139.2 914.3 141.3 914.2 C143.5 914.1 145.9 914.1 148.2 914.4 C150.5 914.6 154.1 915.5 155.3 915.7 M135.6 840.3 C135.0 839.4 133.0 836.7 132.2 834.7 C131.4 832.6 131.3 830.3 130.5 828.3 C129.7 826.3 129.0 823.9 127.6 822.5 C126.1 821.1 123.9 820.3 121.8 819.8 C119.8 819.4 117.5 819.7 115.1 819.7 C112.7 819.6 110.0 819.0 107.6 819.6 C105.1 820.2 102.5 822.0 100.4 823.1 C98.3 824.1 94.8 825.9 94.9 825.9 C95.0 825.8 98.9 823.7 101.1 822.8 C103.2 821.9 105.4 820.6 107.7 820.5 C110.0 820.4 112.8 821.0 115.0 822.2 C117.1 823.4 119.6 825.6 120.7 827.7 C121.8 829.8 121.6 832.5 121.4 834.8 C121.3 837.2 120.7 839.8 119.9 841.9 C119.2 844.1 117.8 845.5 117.0 847.6 C116.1 849.7 114.9 852.1 114.8 854.3 C114.8 856.6 115.6 859.0 116.5 861.0 C117.5 863.1 118.8 865.3 120.6 866.6 C122.4 867.9 125.1 868.9 127.4 868.8 C129.7 868.7 132.6 867.6 134.4 866.0 C136.3 864.3 137.4 861.4 138.4 859.0 C139.4 856.7 140.4 854.1 140.6 851.9 C140.8 849.7 140.0 848.0 139.5 845.7 C139.0 843.5 138.1 840.7 137.5 838.4 C136.9 836.1 136.8 834.1 136.0 831.9 C135.3 829.7 134.2 827.3 133.0 825.1 C131.9 823.0 130.6 821.1 129.4 819.0 C128.1 816.9 127.0 814.3 125.6 812.5 C124.1 810.7 120.6 809.7 120.8 808.1 C121.0 806.5 124.7 804.1 126.7 802.9 C128.6 801.7 130.3 801.0 132.4 800.9 C134.6 800.8 137.2 801.8 139.5 802.5 C141.8 803.2 143.9 804.6 146.1 805.2 C148.2 805.8 150.0 805.8 152.2 806.0 C154.4 806.2 157.0 806.1 159.3 806.3 C161.6 806.4 164.9 806.8 166.0 806.9 M152.7 829.2 C151.8 830.0 148.6 832.7 147.1 834.3 C145.5 836.0 144.8 837.6 143.3 839.3 C141.8 841.0 140.0 843.2 138.2 844.5 C136.3 845.7 134.3 846.4 132.2 846.9 C130.2 847.4 127.8 847.9 125.7 847.4 C123.7 846.9 121.4 845.7 120.0 843.8 C118.7 842.0 117.7 838.6 117.6 836.2 C117.4 833.8 117.8 831.2 119.1 829.3 C120.4 827.3 123.1 825.3 125.3 824.5 C127.5 823.7 129.6 824.1 132.0 824.3 C134.4 824.5 137.3 825.6 139.6 825.8 C141.9 826.1 143.6 825.9 145.8 825.8 C148.0 825.6 150.5 825.1 152.7 824.9 C155.0 824.6 157.2 824.2 159.3 824.3 C161.4 824.5 163.1 825.2 165.3 825.8 C167.4 826.4 170.0 827.7 172.3 827.9 C174.5 828.2 176.6 827.7 178.9 827.3 C181.2 826.9 184.0 826.5 186.0 825.6 C188.1 824.7 189.8 823.7 191.2 822.0 C192.6 820.2 194.1 817.4 194.4 815.3 C194.8 813.1 194.1 811.1 193.2 809.1 C192.3 807.2 188.6 803.7 189.0 803.4 C189.5 803.0 194.1 805.6 196.1 806.9 C198.1 808.2 199.4 809.8 200.9 811.4 C202.5 813.0 204.4 814.4 205.4 816.5 C206.4 818.7 206.7 821.8 206.8 824.2 C206.9 826.6 206.4 828.7 206.0 830.9 C205.6 833.1 204.9 835.2 204.3 837.4 C203.7 839.5 202.7 841.6 202.2 843.8 C201.8 846.1 202.1 848.6 201.9 850.9 C201.7 853.3 201.9 855.8 201.2 858.0 C200.6 860.2 199.2 862.2 198.0 864.4 C196.9 866.5 195.8 869.2 194.3 870.9 C192.8 872.6 190.7 873.3 188.9 874.7 C187.1 876.0 185.2 877.5 183.4 879.0 C181.5 880.4 178.7 882.6 177.7 883.4 M226.9 894.4 C226.8 893.2 226.6 889.5 226.2 887.3 C225.8 885.1 225.9 883.2 224.7 881.3 C223.6 879.5 221.0 877.6 219.3 876.2 C217.5 874.8 215.9 873.9 214.2 872.7 C212.4 871.6 210.6 870.8 208.8 869.4 C207.1 868.0 205.3 865.9 203.6 864.3 C201.9 862.8 200.3 861.7 198.8 860.0 C197.3 858.3 195.6 856.4 194.7 854.3 C193.9 852.2 193.8 850.0 193.9 847.5 C194.0 845.1 194.4 841.9 195.4 839.8 C196.4 837.6 198.0 835.7 199.9 834.4 C201.8 833.1 204.5 831.9 206.9 831.9 C209.3 832.0 212.3 833.2 214.3 834.7 C216.2 836.2 218.0 838.7 218.6 841.0 C219.2 843.3 218.8 846.5 217.8 848.7 C216.7 850.8 214.5 853.0 212.3 854.0 C210.1 855.0 206.7 855.2 204.4 854.6 C202.1 854.0 199.9 852.3 198.7 850.4 C197.4 848.5 196.8 845.3 196.9 843.0 C197.0 840.7 198.2 838.7 199.4 836.7 C200.6 834.6 202.1 832.0 203.9 830.7 C205.8 829.5 208.4 829.3 210.5 829.2 C212.7 829.1 214.8 829.5 216.9 830.2 C218.9 830.8 221.4 831.6 222.8 833.0 C224.3 834.3 225.1 836.5 225.4 838.5 C225.7 840.5 225.8 842.7 224.9 844.7 C224.0 846.7 221.6 848.9 219.9 850.3 C218.1 851.8 216.6 852.5 214.5 853.3 C212.4 854.0 209.6 855.0 207.5 854.8 C205.4 854.5 203.8 853.1 202.1 851.9 C200.5 850.7 199.2 848.9 197.7 847.3 C196.2 845.8 194.6 844.4 193.3 842.6 C192.0 840.7 191.0 838.2 189.9 836.3 C188.8 834.3 187.9 832.4 186.6 830.8 C185.3 829.1 183.7 827.8 182.2 826.3 C180.6 824.8 178.3 822.4 177.5 821.6 M163.3 918.9 C162.1 919.4 158.4 921.1 156.1 921.7 C153.8 922.4 151.9 922.9 149.5 923.0 C147.1 923.2 144.0 923.1 141.6 922.8 C139.3 922.5 137.7 921.6 135.3 921.4 C133.0 921.1 129.9 921.5 127.5 921.5 C125.0 921.4 123.0 921.4 120.7 921.2 C118.4 921.0 116.2 920.4 113.7 920.3 C111.2 920.2 108.1 920.4 105.7 920.4 C103.3 920.5 101.3 921.1 99.3 920.4 C97.2 919.8 94.9 918.3 93.6 916.4 C92.4 914.5 91.6 911.3 91.8 909.2 C91.9 907.1 93.3 905.2 94.5 903.5 C95.8 901.8 97.5 900.5 99.3 898.9 C101.2 897.4 103.4 895.6 105.5 894.3 C107.6 892.9 109.7 891.2 111.9 890.7 C114.0 890.2 116.5 890.6 118.3 891.4 C120.2 892.3 122.0 894.1 122.9 895.8 C123.7 897.5 124.1 899.7 123.5 901.8 C122.8 903.8 120.8 906.8 119.1 908.1 C117.4 909.5 115.4 909.8 113.2 909.8 C111.0 909.8 108.2 908.9 105.9 908.3 C103.5 907.7 101.5 907.2 99.2 906.5 C96.8 905.8 94.0 905.0 91.6 904.1 C89.2 903.2 85.9 902.7 84.6 900.9 C83.3 899.1 83.6 895.6 83.9 893.4 C84.2 891.2 85.0 889.1 86.4 887.7 C87.7 886.3 90.0 885.0 92.1 884.8 C94.2 884.6 96.8 885.5 99.0 886.4 C101.2 887.4 103.5 889.2 105.3 890.7 C107.2 892.2 108.4 894.0 110.1 895.3 C111.9 896.6 113.7 897.7 115.9 898.5 C118.1 899.3 120.8 900.1 123.2 900.1 C125.6 900.1 128.5 899.7 130.4 898.6 C132.3 897.4 133.9 895.4 134.5 893.2 C135.2 891.0 134.8 887.7 134.2 885.3 C133.7 882.8 131.8 879.7 131.3 878.6 M81.9 853.8 C82.6 852.9 84.9 850.3 86.2 848.1 C87.5 846.0 88.4 843.0 89.5 840.9 C90.5 838.7 91.3 837.0 92.5 835.2 C93.7 833.4 95.2 831.8 96.7 830.1 C98.2 828.4 100.1 826.7 101.5 824.9 C102.9 823.2 104.3 821.5 105.3 819.5 C106.4 817.4 106.5 814.1 108.0 812.6 C109.4 811.2 111.7 811.0 114.1 810.7 C116.4 810.4 119.5 810.3 122.0 810.8 C124.4 811.3 126.6 812.4 128.8 813.6 C131.0 814.8 133.1 816.8 135.1 818.0 C137.2 819.1 138.7 820.3 140.9 820.4 C143.1 820.6 146.0 819.9 148.1 819.0 C150.2 818.2 151.9 817.2 153.4 815.5 C154.9 813.8 156.4 810.9 157.1 808.8 C157.8 806.6 156.5 803.8 157.7 802.6 C158.8 801.5 161.7 801.6 164.0 801.9 C166.2 802.2 169.5 802.9 171.4 804.4 C173.3 805.8 174.7 808.3 175.2 810.6 C175.6 812.9 175.0 816.1 174.0 818.1 C173.1 820.2 171.2 821.9 169.5 823.1 C167.9 824.2 166.0 824.8 163.9 825.1 C161.7 825.3 158.6 825.5 156.5 824.6 C154.3 823.6 152.0 821.4 151.0 819.3 C150.0 817.3 150.2 814.5 150.2 812.2 C150.2 809.9 150.6 807.8 151.0 805.5 C151.3 803.2 151.3 798.7 152.2 798.3 C153.1 798.0 154.9 801.8 156.4 803.7 C157.8 805.5 159.1 807.7 160.9 809.3 C162.7 810.9 165.3 811.9 167.3 813.3 C169.3 814.6 171.1 816.0 173.1 817.3 C175.1 818.5 177.0 820.1 179.3 820.7 C181.5 821.3 184.3 821.0 186.7 821.1 C189.1 821.3 191.3 821.2 193.7 821.8 C196.0 822.3 198.4 823.5 200.9 824.4 C203.4 825.2 207.2 826.2 208.5 826.6 M175.3 827.3 C176.5 827.6 180.0 828.6 182.2 829.2 C184.5 829.7 186.7 829.7 188.7 830.6 C190.8 831.4 192.8 832.8 194.4 834.2 C195.9 835.7 197.6 837.3 198.2 839.2 C198.8 841.1 198.7 843.5 197.9 845.5 C197.1 847.4 195.1 849.7 193.1 850.7 C191.1 851.7 188.5 851.9 186.1 851.6 C183.6 851.3 180.5 850.5 178.7 849.0 C176.8 847.5 175.3 844.6 174.8 842.4 C174.3 840.3 174.8 838.0 175.8 836.3 C176.8 834.5 178.9 832.7 180.8 832.0 C182.7 831.3 185.2 831.2 187.3 832.0 C189.4 832.8 191.6 835.0 193.2 836.9 C194.7 838.7 195.5 841.2 196.5 843.1 C197.6 845.1 198.0 846.7 199.6 848.4 C201.1 850.1 203.9 851.7 205.8 853.4 C207.7 855.1 209.2 856.9 211.0 858.5 C212.9 860.1 215.1 861.4 216.9 863.0 C218.6 864.5 220.2 865.9 221.7 867.7 C223.2 869.6 224.3 872.3 225.8 874.1 C227.3 875.9 229.7 876.6 230.5 878.4 C231.3 880.2 231.0 882.6 230.7 884.7 C230.4 886.7 229.6 888.9 228.5 890.7 C227.5 892.5 226.0 894.3 224.2 895.5 C222.4 896.8 220.1 897.8 218.0 898.1 C216.0 898.3 213.7 897.8 212.1 896.8 C210.5 895.8 208.8 893.9 208.2 891.8 C207.6 889.8 207.7 886.7 208.5 884.6 C209.3 882.6 211.0 880.5 212.9 879.5 C214.9 878.4 217.9 877.8 220.2 878.3 C222.5 878.7 225.1 880.2 226.7 882.1 C228.2 884.0 229.4 887.2 229.4 889.6 C229.4 892.1 228.1 895.0 226.7 896.8 C225.3 898.7 223.3 900.2 221.1 900.8 C218.9 901.4 215.4 901.2 213.3 900.3 C211.2 899.4 209.1 896.2 208.2 895.4 M145.7 931.8 C145.7 933.1 146.9 937.6 145.7 939.3 C144.5 940.9 141.0 941.3 138.7 941.8 C136.4 942.2 134.1 942.4 132.1 942.1 C130.0 941.8 128.3 940.7 126.3 940.0 C124.3 939.2 122.0 938.4 119.9 937.5 C117.7 936.7 115.1 936.6 113.5 935.0 C112.0 933.5 111.4 930.4 110.7 928.2 C109.9 926.0 109.6 923.9 109.2 921.8 C108.7 919.6 108.9 917.6 108.1 915.4 C107.2 913.2 105.3 910.9 104.1 908.6 C102.9 906.4 101.5 904.2 101.1 902.0 C100.6 899.7 100.5 897.1 101.3 895.1 C102.0 893.2 103.7 891.3 105.6 890.4 C107.5 889.4 110.6 889.0 112.7 889.4 C114.7 889.8 116.7 891.2 117.9 892.7 C119.1 894.2 120.0 896.4 119.8 898.7 C119.6 900.9 117.9 903.8 116.8 906.0 C115.7 908.1 114.4 909.5 113.1 911.3 C111.9 913.2 110.2 914.6 109.4 916.8 C108.6 919.0 108.5 922.1 108.2 924.5 C108.0 927.0 108.3 931.4 108.0 931.3 C107.7 931.3 107.0 926.6 106.6 924.3 C106.2 922.0 105.4 919.7 105.8 917.4 C106.1 915.0 107.5 911.9 108.8 910.0 C110.1 908.1 111.7 907.1 113.7 905.8 C115.7 904.6 118.6 902.9 120.8 902.6 C123.0 902.3 125.3 903.0 127.0 904.1 C128.7 905.3 130.3 907.6 131.0 909.6 C131.6 911.5 131.6 913.9 130.7 915.9 C129.7 917.9 127.2 920.3 125.2 921.8 C123.2 923.2 120.9 923.8 118.6 924.8 C116.3 925.7 113.3 926.2 111.3 927.3 C109.2 928.3 108.1 931.3 106.5 931.2 C104.8 931.1 102.7 928.8 101.4 926.9 C100.1 925.0 99.5 922.3 98.7 920.0 C98.0 917.6 97.3 914.0 97.0 912.8 M222.5 863.9 C223.6 864.1 227.4 864.1 229.0 865.3 C230.6 866.5 232.3 869.2 231.9 871.0 C231.6 872.8 228.6 874.6 226.9 876.3 C225.1 878.0 223.5 880.1 221.4 881.3 C219.4 882.4 216.8 882.8 214.6 883.3 C212.3 883.7 210.1 884.4 208.0 883.9 C205.8 883.4 203.4 881.9 201.6 880.3 C199.8 878.8 198.7 876.6 197.1 874.6 C195.5 872.7 193.6 870.4 192.0 868.5 C190.3 866.6 188.6 865.0 187.0 863.5 C185.5 861.9 184.1 860.8 182.6 859.3 C181.0 857.9 179.8 856.1 177.9 854.6 C176.1 853.2 173.8 851.1 171.6 850.4 C169.5 849.7 167.2 850.1 165.1 850.5 C163.0 850.9 160.7 851.6 159.0 852.9 C157.3 854.3 155.5 856.5 154.9 858.7 C154.4 861.0 155.2 864.2 155.6 866.5 C156.0 868.7 156.4 870.3 157.4 872.3 C158.3 874.3 159.6 876.8 161.3 878.7 C163.0 880.6 165.5 882.4 167.5 883.5 C169.6 884.6 171.4 885.0 173.6 885.3 C175.8 885.6 178.6 885.7 180.9 885.2 C183.2 884.6 185.4 883.1 187.4 881.8 C189.5 880.6 191.2 879.3 193.1 877.7 C194.9 876.0 196.7 873.9 198.4 872.2 C200.2 870.4 201.6 868.4 203.5 867.2 C205.3 866.1 207.5 865.2 209.5 865.3 C211.5 865.4 213.9 866.4 215.4 867.8 C216.8 869.1 218.0 871.3 218.3 873.5 C218.6 875.7 218.2 878.9 217.1 881.0 C215.9 883.0 213.4 884.8 211.3 885.9 C209.2 887.0 206.9 887.3 204.5 887.7 C202.2 888.2 199.6 888.4 197.4 888.5 C195.2 888.6 193.6 888.7 191.4 888.2 C189.2 887.8 186.5 887.2 184.3 886.1 C182.0 884.9 179.0 882.3 178.0 881.5 M107.4 820.5 C108.5 820.6 112.0 821.0 114.2 821.2 C116.4 821.4 118.6 821.2 120.7 821.5 C122.8 821.8 124.9 822.0 126.6 823.2 C128.3 824.4 130.2 826.7 130.9 828.9 C131.6 831.1 131.1 834.3 130.6 836.5 C130.1 838.7 128.9 840.4 127.8 842.1 C126.6 843.8 125.3 845.1 123.8 846.8 C122.4 848.4 120.5 850.4 118.9 852.0 C117.3 853.7 115.7 855.2 114.1 856.5 C112.4 857.8 110.8 859.2 108.9 859.8 C107.0 860.5 104.7 860.5 102.6 860.4 C100.5 860.4 98.4 860.4 96.3 859.5 C94.2 858.7 91.3 857.0 89.9 855.3 C88.5 853.7 88.1 851.5 88.1 849.5 C88.2 847.4 89.1 845.2 90.2 843.1 C91.4 841.0 93.6 838.8 95.0 836.7 C96.4 834.7 97.1 832.7 98.4 830.6 C99.8 828.6 101.9 826.4 103.2 824.3 C104.5 822.1 105.1 819.9 106.0 817.9 C106.9 816.0 107.0 813.9 108.6 812.4 C110.2 810.9 113.3 809.9 115.6 809.0 C117.8 808.1 119.8 807.5 121.8 806.9 C123.8 806.2 125.7 806.3 127.7 805.2 C129.8 804.1 131.7 800.9 133.9 800.2 C136.2 799.6 138.9 801.1 141.3 801.4 C143.7 801.7 146.1 802.1 148.4 801.8 C150.7 801.5 152.8 800.4 155.0 799.8 C157.2 799.2 159.7 797.4 161.6 798.2 C163.4 799.1 164.4 803.1 166.1 804.8 C167.8 806.5 169.8 807.6 171.7 808.6 C173.6 809.7 175.2 810.5 177.4 810.9 C179.6 811.3 182.3 810.9 184.8 810.9 C187.2 810.9 189.7 810.4 191.9 810.8 C194.2 811.2 196.3 812.1 198.4 813.3 C200.5 814.5 202.7 816.2 204.6 817.8 C206.6 819.5 209.1 822.2 210.0 823.1 M112.7 849.4 C113.1 850.4 114.0 853.5 115.0 855.3 C116.0 857.2 117.2 859.0 118.7 860.6 C120.2 862.1 121.8 863.6 123.9 864.7 C126.0 865.9 128.9 866.7 131.4 867.4 C133.9 868.1 136.6 868.9 139.0 868.9 C141.3 868.8 143.7 868.5 145.5 867.2 C147.3 865.9 149.2 863.2 149.8 861.1 C150.4 859.0 150.1 856.5 149.2 854.6 C148.4 852.8 146.6 851.0 144.7 850.1 C142.9 849.3 140.3 849.4 138.0 849.5 C135.6 849.7 132.7 850.0 130.7 850.9 C128.6 851.9 126.6 853.3 125.5 855.3 C124.4 857.3 123.8 860.7 124.2 863.0 C124.6 865.4 126.2 867.8 128.0 869.5 C129.7 871.3 132.4 873.2 134.6 873.7 C136.8 874.3 139.4 873.8 141.2 872.8 C142.9 871.9 144.2 870.0 145.3 868.3 C146.4 866.5 147.1 864.3 148.0 862.2 C148.9 860.1 150.3 857.9 150.6 855.6 C150.9 853.4 150.6 850.7 149.8 848.9 C148.9 847.1 147.2 845.5 145.3 844.8 C143.4 844.0 140.2 843.8 138.1 844.4 C136.1 845.0 134.0 846.6 132.9 848.4 C131.7 850.2 131.0 853.1 131.3 855.3 C131.6 857.6 133.0 860.3 134.7 861.9 C136.4 863.5 139.4 864.4 141.6 864.7 C143.8 865.1 146.0 864.8 147.8 863.9 C149.6 862.9 151.2 860.9 152.2 859.0 C153.2 857.0 154.0 854.7 153.8 852.4 C153.6 850.0 152.5 846.9 151.1 845.1 C149.7 843.4 147.4 842.2 145.4 841.9 C143.4 841.5 140.7 842.1 139.1 843.1 C137.4 844.1 136.0 845.8 135.2 847.8 C134.5 849.7 134.4 852.4 134.4 854.9 C134.5 857.3 134.7 860.4 135.6 862.7 C136.5 865.0 139.1 867.7 139.8 868.7 M219.7 830.0 C219.2 831.2 216.8 834.9 216.4 837.2 C216.0 839.5 216.5 842.2 217.4 844.0 C218.3 845.8 220.1 847.4 221.9 848.1 C223.8 848.8 227.3 847.2 228.6 848.4 C229.9 849.5 230.0 852.8 229.8 854.8 C229.5 856.8 228.3 858.9 227.0 860.5 C225.8 862.1 224.1 863.3 222.2 864.4 C220.4 865.5 218.0 866.1 215.9 867.1 C213.8 868.1 211.7 869.4 209.5 870.3 C207.3 871.2 204.9 872.2 202.8 872.6 C200.7 873.0 198.9 872.9 196.8 872.6 C194.7 872.4 192.4 871.4 190.2 871.1 C188.0 870.9 185.5 870.3 183.4 871.0 C181.3 871.7 179.1 873.4 177.8 875.2 C176.5 877.0 175.4 879.6 175.4 881.7 C175.3 883.8 176.2 886.3 177.6 887.9 C178.9 889.4 181.2 890.4 183.4 891.2 C185.5 892.0 188.0 892.9 190.3 892.8 C192.6 892.6 195.5 891.8 197.3 890.4 C199.0 889.0 200.3 886.8 200.9 884.5 C201.4 882.2 201.4 878.8 200.5 876.6 C199.7 874.4 197.6 872.9 195.7 871.3 C193.8 869.7 191.5 868.4 189.4 867.2 C187.2 866.0 185.0 864.9 182.8 864.1 C180.6 863.4 178.5 862.6 176.1 862.6 C173.8 862.6 171.0 863.7 168.7 864.3 C166.3 864.9 164.3 865.9 162.2 866.2 C160.1 866.4 158.3 865.9 156.1 865.8 C153.9 865.7 151.4 865.4 149.1 865.5 C146.8 865.6 144.6 866.5 142.5 866.6 C140.3 866.7 138.3 866.1 136.2 866.0 C134.1 865.8 131.9 865.9 129.8 865.6 C127.6 865.3 125.7 864.3 123.4 864.3 C121.2 864.2 118.5 864.6 116.4 865.4 C114.4 866.2 112.6 867.4 111.2 869.1 C109.7 870.8 108.4 874.5 107.8 875.6 M163.3 890.4 C162.3 889.5 159.0 886.9 157.3 885.2 C155.6 883.5 153.9 882.0 153.0 880.1 C152.1 878.1 151.6 875.7 152.1 873.5 C152.6 871.4 154.1 868.7 156.0 867.3 C157.9 865.8 161.3 864.8 163.5 864.8 C165.7 864.8 167.8 865.7 169.4 867.2 C170.9 868.6 172.3 871.2 172.6 873.3 C172.9 875.5 172.2 877.9 171.2 879.9 C170.1 882.0 168.2 884.3 166.4 885.7 C164.5 887.0 162.4 887.4 160.3 887.9 C158.2 888.4 155.9 888.2 153.6 888.4 C151.4 888.7 148.7 888.7 146.7 889.4 C144.7 890.1 142.7 891.1 141.5 892.7 C140.3 894.2 139.7 896.6 139.6 898.6 C139.5 900.6 139.7 902.7 140.8 904.7 C141.8 906.6 144.0 909.1 145.8 910.3 C147.7 911.5 149.6 911.6 151.9 912.0 C154.2 912.4 157.4 913.1 159.6 912.7 C161.8 912.2 163.7 910.9 165.1 909.2 C166.5 907.4 167.8 904.5 167.9 902.1 C167.9 899.8 166.9 896.9 165.5 895.1 C164.0 893.3 161.3 891.7 159.1 891.2 C157.0 890.8 154.7 891.4 152.5 892.3 C150.4 893.2 148.1 895.1 146.2 896.6 C144.2 898.1 142.4 899.5 140.8 901.2 C139.1 903.0 137.7 905.0 136.2 907.1 C134.7 909.1 133.3 911.6 131.8 913.4 C130.3 915.1 129.0 916.2 127.2 917.6 C125.5 919.0 123.0 920.4 121.3 921.9 C119.5 923.4 117.7 924.5 116.8 926.4 C115.9 928.3 117.0 933.1 115.8 933.5 C114.5 933.9 111.5 930.1 109.3 928.9 C107.1 927.7 103.7 928.2 102.5 926.5 C101.3 924.8 102.4 921.2 102.2 918.7 C102.0 916.1 102.1 913.4 101.5 911.3 C100.8 909.2 98.9 906.9 98.3 906.0 M123.5 906.2 C124.5 905.8 128.0 905.0 129.6 903.5 C131.1 902.0 132.4 899.3 132.6 897.1 C132.8 894.9 132.2 892.4 130.9 890.6 C129.6 888.7 126.8 887.2 124.7 886.2 C122.7 885.1 120.6 884.5 118.4 884.5 C116.2 884.5 113.7 885.2 111.3 886.0 C108.9 886.8 106.2 887.9 104.0 889.2 C101.9 890.6 100.1 892.3 98.5 894.2 C96.9 896.1 95.1 898.4 94.4 900.6 C93.8 902.7 93.8 904.9 94.8 906.9 C95.7 908.9 98.1 911.6 100.1 912.7 C102.2 913.8 105.0 914.0 107.1 913.5 C109.1 913.0 111.4 911.6 112.6 909.8 C113.9 908.1 114.8 905.3 114.7 903.0 C114.5 900.8 113.2 897.9 111.8 896.4 C110.3 894.8 108.0 893.7 106.0 893.5 C103.9 893.3 101.1 894.0 99.4 895.1 C97.8 896.2 96.4 897.9 95.8 900.0 C95.3 902.1 95.6 905.7 96.4 907.8 C97.2 909.8 98.8 911.3 100.7 912.2 C102.5 913.1 105.4 912.9 107.6 912.9 C109.8 912.9 111.7 912.3 114.0 912.3 C116.2 912.2 118.5 912.5 120.9 912.7 C123.3 913.0 126.2 913.5 128.5 913.8 C130.7 914.1 132.3 914.2 134.5 914.5 C136.7 914.8 139.5 915.1 141.8 915.6 C144.0 916.0 146.2 916.1 148.0 917.4 C149.9 918.7 152.2 921.3 153.0 923.4 C153.8 925.5 153.7 928.2 152.9 930.3 C152.1 932.4 149.8 934.5 148.1 935.9 C146.4 937.4 144.5 937.9 142.7 938.8 C140.9 939.7 139.0 941.6 137.1 941.4 C135.2 941.3 133.2 939.2 131.5 937.8 C129.7 936.3 128.2 934.2 126.4 932.9 C124.6 931.6 122.5 931.0 120.7 929.9 C118.9 928.9 116.7 927.0 115.8 926.4" fill="none" stroke="#8aa6f6" stroke-width="1.4" stroke-linecap="round"/>
<rect x="110.0" y="797.6" width="24.5" height="11.5" rx="5.8" transform="rotate(-20.0 122.3 803.4)" fill="url(#cpill)" stroke="none" stroke-width="0" /><rect x="171.7" y="807.5" width="24.5" height="11.5" rx="5.8" transform="rotate(-20.0 183.9 813.3)" fill="url(#cpill)" stroke="none" stroke-width="0" /><rect x="118.7" y="817.4" width="24.5" height="11.5" rx="5.8" transform="rotate(-60.0 130.9 823.1)" fill="url(#cpill)" stroke="none" stroke-width="0" /><rect x="182.8" y="823.5" width="24.5" height="11.5" rx="5.8" transform="rotate(-60.0 195.0 829.3)" fill="url(#cpill)" stroke="none" stroke-width="0" /><rect x="89.0" y="840.9" width="24.5" height="11.5" rx="5.8" transform="rotate(-60.0 101.3 846.6)" fill="url(#cpill)" stroke="none" stroke-width="0" /><rect x="154.4" y="848.2" width="24.5" height="11.5" rx="5.8" transform="rotate(-25.0 166.7 854.0)" fill="url(#cpill)" stroke="none" stroke-width="0" /><rect x="111.2" y="860.5" width="24.5" height="11.5" rx="5.8" transform="rotate(-25.0 123.5 866.3)" fill="url(#cpill)" stroke="none" stroke-width="0" /><rect x="121.2" y="876.5" width="24.5" height="11.5" rx="5.8" transform="rotate(-65.0 133.4 882.3)" fill="url(#cpill)" stroke="none" stroke-width="0" /><rect x="169.2" y="874.0" width="24.5" height="11.5" rx="5.8" transform="rotate(-75.0 181.4 879.8)" fill="url(#cpill)" stroke="none" stroke-width="0" /><rect x="202.4" y="859.2" width="24.5" height="11.5" rx="5.8" transform="rotate(-60.0 214.7 865.0)" fill="url(#cpill)" stroke="none" stroke-width="0" /><rect x="92.8" y="901.1" width="24.5" height="11.5" rx="5.8" transform="rotate(-25.0 105.0 906.9)" fill="url(#cpill)" stroke="none" stroke-width="0" /><rect x="179.1" y="903.0" width="24.5" height="11.5" rx="5.8" transform="rotate(40.0 191.3 908.7)" fill="url(#cpill)" stroke="none" stroke-width="0" /><rect x="143.3" y="914.2" width="24.5" height="11.5" rx="5.8" transform="rotate(-60.0 155.6 920.0)" fill="url(#cpill)" stroke="none" stroke-width="0" /><rect x="107.5" y="927.0" width="24.5" height="11.5" rx="5.8" transform="rotate(-70.0 119.8 932.8)" fill="url(#cpill)" stroke="none" stroke-width="0" /><rect x="128.6" y="932.0" width="24.5" height="11.5" rx="5.8" transform="rotate(40.0 140.8 937.8)" fill="url(#cpill)" stroke="none" stroke-width="0" /><rect x="165.6" y="928.2" width="24.5" height="11.5" rx="5.8" transform="rotate(-75.0 177.8 934.0)" fill="url(#cpill)" stroke="none" stroke-width="0" /><rect x="202.4" y="916.0" width="24.5" height="11.5" rx="5.8" transform="rotate(-60.0 214.7 921.7)" fill="url(#cpill)" stroke="none" stroke-width="0" /><rect x="148.2" y="799.6" width="24.5" height="11.5" rx="5.8" transform="rotate(-15.0 160.5 805.4)" fill="url(#gpill)" stroke="none" stroke-width="0" /><rect x="91.5" y="816.1" width="24.5" height="11.5" rx="5.8" transform="rotate(20.0 103.8 821.9)" fill="url(#gpill)" stroke="none" stroke-width="0" /><rect x="153.2" y="821.0" width="24.5" height="11.5" rx="5.8" transform="rotate(55.0 165.4 826.8)" fill="url(#gpill)" stroke="none" stroke-width="0" /><rect x="206.2" y="815.0" width="24.5" height="11.5" rx="5.8" transform="rotate(45.0 218.4 820.7)" fill="url(#gpill)" stroke="none" stroke-width="0" /><rect x="132.2" y="837.1" width="24.5" height="11.5" rx="5.8" transform="rotate(-70.0 144.5 842.9)" fill="url(#gpill)" stroke="none" stroke-width="0" /><rect x="207.4" y="838.9" width="24.5" height="11.5" rx="5.8" transform="rotate(15.0 219.7 844.6)" fill="url(#gpill)" stroke="none" stroke-width="0" /><rect x="70.7" y="861.8" width="24.5" height="11.5" rx="5.8" transform="rotate(-85.0 82.9 867.5)" fill="url(#gpill)" stroke="none" stroke-width="0" /><rect x="91.5" y="874.0" width="24.5" height="11.5" rx="5.8" transform="rotate(55.0 103.8 879.8)" fill="url(#gpill)" stroke="none" stroke-width="0" /><rect x="180.2" y="851.1" width="24.5" height="11.5" rx="5.8" transform="rotate(60.0 192.5 856.9)" fill="url(#gpill)" stroke="none" stroke-width="0" /><rect x="144.6" y="868.0" width="24.5" height="11.5" rx="5.8" transform="rotate(45.0 156.8 873.7)" fill="url(#gpill)" stroke="none" stroke-width="0" /><rect x="203.8" y="869.9" width="24.5" height="11.5" rx="5.8" transform="rotate(45.0 216.0 875.6)" fill="url(#gpill)" stroke="none" stroke-width="0" /><rect x="76.2" y="894.5" width="24.5" height="11.5" rx="5.8" transform="rotate(-60.0 88.5 900.3)" fill="url(#gpill)" stroke="none" stroke-width="0" /><rect x="147.1" y="891.4" width="24.5" height="11.5" rx="5.8" transform="rotate(15.0 159.3 897.1)" fill="url(#gpill)" stroke="none" stroke-width="0" /><rect x="119.9" y="904.4" width="24.5" height="11.5" rx="5.8" transform="rotate(60.0 132.2 910.1)" fill="url(#gpill)" stroke="none" stroke-width="0" /><rect x="204.9" y="893.8" width="24.5" height="11.5" rx="5.8" transform="rotate(15.0 217.2 899.5)" fill="url(#gpill)" stroke="none" stroke-width="0" /><rect x="85.3" y="919.1" width="24.5" height="11.5" rx="5.8" transform="rotate(20.0 97.6 924.9)" fill="url(#gpill)" stroke="none" stroke-width="0" />
<rect x="331" y="892" width="211" height="75" rx="3" fill="url(#sub2)"/>
<path d="M445.2 862.2 C445.7 861.2 446.8 857.8 448.4 856.2 C450.1 854.5 452.6 852.7 455.0 852.3 C457.4 851.9 460.4 852.8 462.9 853.6 C465.4 854.4 467.8 855.8 469.9 857.2 C472.1 858.5 473.7 860.2 475.7 861.8 C477.8 863.3 479.8 865.5 482.1 866.3 C484.3 867.2 487.1 867.6 489.2 867.1 C491.3 866.5 493.5 865.0 494.8 863.2 C496.1 861.4 496.6 858.5 496.8 856.2 C497.0 853.9 496.5 851.7 496.0 849.5 C495.4 847.3 494.9 845.2 493.6 843.2 C492.2 841.3 489.7 839.0 487.7 838.0 C485.7 837.1 483.6 836.9 481.6 837.5 C479.5 838.2 476.8 840.0 475.5 841.9 C474.2 843.8 473.5 846.8 473.6 849.1 C473.8 851.5 475.1 854.3 476.5 855.9 C477.9 857.5 480.0 858.5 482.1 858.7 C484.1 858.9 486.9 858.2 488.6 857.2 C490.3 856.1 491.6 854.3 492.2 852.3 C492.7 850.4 492.6 847.5 491.8 845.5 C490.9 843.6 488.6 841.8 486.9 840.4 C485.2 839.0 483.2 838.3 481.5 837.0 C479.7 835.7 477.7 834.4 476.4 832.7 C475.1 831.1 473.7 829.3 473.5 827.2 C473.2 825.2 473.8 822.3 474.9 820.5 C476.0 818.8 477.9 817.3 480.0 816.6 C482.1 815.9 485.1 816.0 487.4 816.2 C489.7 816.4 491.7 816.6 493.8 817.8 C495.9 818.9 498.2 821.1 499.8 822.8 C501.4 824.6 502.2 826.1 503.3 828.1 C504.5 830.2 505.5 833.2 506.8 835.3 C508.1 837.5 509.4 839.5 511.2 841.1 C512.9 842.8 515.0 844.5 517.2 845.2 C519.5 845.8 522.0 845.3 524.5 844.9 C526.9 844.6 530.9 842.1 531.9 842.9 C532.9 843.7 530.7 848.6 530.5 849.8 M504.1 850.8 C503.0 851.0 499.5 851.5 497.3 851.7 C495.1 852.0 493.2 852.2 490.9 852.2 C488.6 852.2 485.9 852.1 483.8 851.7 C481.6 851.4 479.9 851.1 477.9 850.3 C475.9 849.5 473.7 848.4 471.9 846.8 C470.2 845.3 468.2 843.1 467.6 841.1 C466.9 839.1 466.9 836.9 467.8 834.8 C468.8 832.8 471.1 830.0 473.1 828.8 C475.0 827.6 477.4 827.2 479.6 827.8 C481.9 828.3 484.8 830.0 486.5 831.9 C488.1 833.8 488.9 836.5 489.6 838.9 C490.4 841.4 491.0 844.4 491.2 846.8 C491.4 849.2 491.7 851.1 491.0 853.2 C490.3 855.3 488.9 858.0 487.0 859.3 C485.1 860.7 482.0 861.6 479.7 861.5 C477.4 861.4 474.8 860.1 473.2 858.7 C471.7 857.3 470.7 855.3 470.5 853.2 C470.4 851.1 471.2 848.1 472.3 846.0 C473.4 843.8 475.3 841.6 477.2 840.1 C479.0 838.6 481.4 837.2 483.5 836.9 C485.6 836.6 487.7 837.3 489.7 838.3 C491.7 839.4 493.5 841.5 495.2 843.1 C497.0 844.7 499.0 846.1 500.4 848.0 C501.8 849.8 502.6 852.0 503.6 854.2 C504.6 856.4 506.0 858.8 506.4 861.2 C506.9 863.6 506.8 866.4 506.1 868.7 C505.4 871.1 503.7 874.0 502.1 875.5 C500.4 876.9 498.1 877.4 496.1 877.5 C494.1 877.7 492.2 876.7 490.1 876.1 C488.0 875.5 485.7 875.2 483.8 873.9 C481.8 872.7 480.0 870.2 478.4 868.4 C476.9 866.7 475.9 865.3 474.4 863.5 C472.9 861.7 471.0 859.7 469.4 857.7 C467.8 855.7 466.7 853.2 464.8 851.3 C463.0 849.5 460.6 847.5 458.3 846.8 C456.0 846.0 452.3 846.9 451.1 846.9 M511.5 854.4 C511.7 855.5 512.0 859.1 512.7 861.2 C513.4 863.3 514.2 865.4 515.8 867.1 C517.3 868.7 519.6 870.6 521.8 871.1 C524.0 871.7 526.9 871.1 529.0 870.3 C531.0 869.6 533.4 866.0 534.2 866.6 C534.9 867.3 534.5 871.9 533.5 874.0 C532.6 876.1 529.5 879.3 528.5 879.1 C527.4 878.9 528.0 875.0 527.2 872.9 C526.3 870.8 524.8 868.2 523.1 866.6 C521.5 865.0 519.3 863.9 517.3 863.5 C515.3 863.0 513.0 863.4 511.0 864.1 C509.0 864.8 507.1 866.4 505.3 867.8 C503.4 869.2 501.7 870.6 500.1 872.3 C498.5 873.9 497.3 877.6 495.8 877.8 C494.2 878.0 492.7 874.4 490.7 873.4 C488.7 872.5 486.0 871.7 483.7 872.1 C481.4 872.5 479.3 875.4 476.9 875.8 C474.5 876.3 471.5 875.9 469.3 874.8 C467.1 873.7 464.9 871.3 463.7 869.2 C462.5 867.1 461.8 864.2 461.9 861.9 C462.1 859.7 463.6 857.6 464.7 855.6 C465.8 853.6 467.3 851.9 468.6 850.0 C469.9 848.1 470.9 845.8 472.5 844.3 C474.1 842.8 476.0 841.4 478.2 841.0 C480.4 840.6 483.3 841.2 485.5 841.9 C487.7 842.5 489.4 843.9 491.5 845.1 C493.6 846.3 496.0 848.0 498.3 848.9 C500.5 849.9 502.5 850.7 504.9 850.8 C507.2 851.0 510.0 850.3 512.4 850.0 C514.9 849.7 517.3 849.2 519.5 848.9 C521.7 848.6 523.7 847.9 525.7 848.0 C527.7 848.1 531.0 848.2 531.7 849.5 C532.3 850.9 530.1 853.8 529.5 855.9 C528.9 858.1 528.9 860.2 527.9 862.4 C527.0 864.7 525.0 867.0 523.9 869.2 C522.8 871.5 521.8 874.9 521.4 876.0 M434.1 820.0 C433.0 820.5 429.7 821.8 427.4 822.9 C425.1 824.0 422.9 825.9 420.4 826.6 C417.9 827.3 415.0 827.4 412.4 827.3 C409.8 827.2 407.2 826.7 404.9 825.7 C402.7 824.7 400.2 823.0 399.0 821.3 C397.8 819.5 397.4 817.3 397.7 815.3 C397.9 813.2 399.1 810.6 400.6 809.1 C402.0 807.6 404.4 806.6 406.4 806.4 C408.4 806.3 410.9 807.1 412.6 808.1 C414.4 809.2 415.8 810.8 416.8 812.8 C417.8 814.8 418.2 817.8 418.8 820.0 C419.3 822.3 419.9 824.0 420.2 826.2 C420.4 828.5 420.7 831.3 420.3 833.5 C419.9 835.7 419.2 837.9 417.7 839.4 C416.1 841.0 413.1 842.4 411.0 842.7 C408.8 843.0 406.5 842.2 404.9 841.2 C403.3 840.1 401.8 838.5 401.2 836.4 C400.7 834.3 400.9 830.6 401.6 828.5 C402.3 826.4 403.9 825.1 405.7 824.1 C407.5 823.0 410.4 822.1 412.5 822.1 C414.6 822.1 416.9 822.8 418.4 824.0 C420.0 825.3 421.5 827.7 421.9 829.6 C422.4 831.6 422.0 834.1 421.1 835.8 C420.1 837.5 418.2 838.8 416.4 840.0 C414.6 841.2 412.3 842.1 410.1 843.0 C407.8 844.0 405.2 844.7 403.0 845.7 C400.8 846.7 398.5 847.6 397.1 849.1 C395.7 850.7 394.6 852.9 394.5 855.0 C394.3 857.1 394.9 860.0 396.2 861.9 C397.5 863.8 400.1 865.8 402.4 866.4 C404.7 867.1 407.9 866.9 410.1 865.9 C412.3 864.9 414.7 862.4 415.8 860.4 C416.9 858.3 417.0 855.9 416.6 853.6 C416.2 851.3 414.5 848.7 413.3 846.6 C412.2 844.5 411.4 842.2 409.8 840.7 C408.3 839.3 405.1 838.5 404.2 838.0 M500.5 855.0 C499.9 854.1 498.3 850.4 496.6 849.1 C495.0 847.9 492.9 847.1 490.7 847.4 C488.5 847.6 485.3 848.9 483.4 850.5 C481.5 852.1 479.6 854.7 479.0 856.8 C478.4 859.0 478.8 861.8 479.7 863.6 C480.6 865.5 482.3 867.4 484.3 868.2 C486.4 869.1 489.9 869.4 492.2 868.8 C494.4 868.2 496.4 866.6 497.8 864.7 C499.3 862.8 500.0 859.9 500.8 857.6 C501.7 855.2 502.3 853.1 502.9 850.7 C503.6 848.3 504.2 845.5 504.5 843.1 C504.8 840.7 504.5 838.7 504.5 836.5 C504.5 834.3 504.7 832.2 504.7 830.0 C504.7 827.7 504.5 825.4 504.3 823.1 C504.0 820.9 503.7 818.7 503.0 816.5 C502.4 814.4 502.0 811.8 500.5 810.1 C499.0 808.4 496.2 806.6 494.0 806.0 C491.7 805.5 489.0 806.1 487.0 807.1 C485.1 808.0 483.1 810.1 482.3 811.9 C481.4 813.8 481.2 816.2 481.8 818.1 C482.4 820.0 484.0 822.3 485.7 823.5 C487.4 824.6 489.7 825.0 491.9 825.0 C494.1 825.1 496.9 824.8 498.8 823.6 C500.6 822.5 501.8 820.1 503.0 818.3 C504.1 816.5 504.7 815.0 505.5 812.8 C506.3 810.6 507.4 807.7 507.8 805.2 C508.2 802.8 508.3 800.2 507.9 798.0 C507.5 795.8 506.6 793.9 505.4 791.9 C504.2 790.0 500.7 786.5 500.9 786.4 C501.0 786.2 504.5 789.4 506.1 791.0 C507.7 792.5 508.9 794.1 510.7 795.6 C512.4 797.1 514.6 798.9 516.8 800.2 C518.9 801.4 521.6 802.6 523.8 803.2 C526.1 803.8 529.2 802.6 530.4 803.8 C531.5 804.9 531.1 807.9 530.7 809.9 C530.3 812.0 528.4 815.0 527.9 816.0 M405.3 863.0 C405.7 862.1 406.5 859.0 407.6 857.3 C408.7 855.7 410.0 854.1 411.9 853.0 C413.7 852.0 416.5 851.0 418.8 851.3 C421.0 851.5 423.2 853.1 425.3 854.4 C427.4 855.7 430.0 857.4 431.5 859.3 C433.0 861.2 433.4 863.6 434.5 865.8 C435.5 868.0 436.5 870.4 437.7 872.5 C438.9 874.7 442.0 878.4 441.5 878.8 C441.1 879.2 436.8 876.4 434.8 874.7 C432.9 873.1 431.4 870.9 430.0 869.0 C428.7 867.0 427.6 864.9 426.7 862.9 C425.8 860.9 425.4 859.2 424.5 857.1 C423.7 855.0 422.9 852.0 421.6 850.2 C420.3 848.4 418.7 847.5 416.9 846.2 C415.0 844.9 412.6 843.4 410.6 842.3 C408.7 841.2 407.1 839.9 405.1 839.4 C403.1 839.0 400.8 839.4 398.5 839.4 C396.2 839.4 393.5 839.9 391.4 839.5 C389.2 839.1 387.3 838.2 385.4 837.1 C383.6 835.9 381.2 834.2 380.1 832.4 C379.0 830.6 378.5 828.3 378.9 826.3 C379.2 824.3 380.9 822.1 382.2 820.2 C383.5 818.4 385.1 816.8 386.8 815.1 C388.5 813.5 390.2 811.3 392.3 810.2 C394.4 809.2 397.0 808.6 399.2 808.9 C401.3 809.2 403.7 810.7 405.1 812.2 C406.4 813.7 407.3 816.1 407.3 818.0 C407.3 820.0 406.4 822.5 405.2 824.0 C403.9 825.5 401.6 826.7 399.6 827.2 C397.7 827.8 395.5 827.6 393.3 827.2 C391.2 826.7 388.6 825.6 386.7 824.3 C384.9 823.0 383.2 821.4 382.1 819.3 C381.0 817.2 380.4 814.3 380.2 811.9 C380.0 809.4 380.2 807.1 380.9 804.7 C381.5 802.3 382.9 799.7 384.1 797.5 C385.4 795.2 387.5 792.3 388.2 791.3 M389.4 810.6 C389.3 809.5 389.6 806.3 389.1 804.1 C388.5 801.8 387.5 799.0 386.0 797.0 C384.5 795.1 382.4 793.3 380.2 792.4 C378.0 791.5 375.5 791.2 373.0 791.5 C370.6 791.8 367.9 793.4 365.6 794.3 C363.3 795.3 361.3 796.3 359.4 797.3 C357.4 798.4 355.7 799.7 353.8 800.6 C351.9 801.6 348.8 803.8 348.1 803.0 C347.4 802.1 349.1 797.8 349.6 795.4 C350.1 793.0 349.9 789.6 351.2 788.5 C352.5 787.4 355.3 788.4 357.5 789.0 C359.7 789.7 362.0 791.4 364.2 792.6 C366.5 793.8 368.8 795.3 370.9 796.1 C373.1 796.9 375.0 797.2 377.2 797.4 C379.4 797.5 382.2 797.8 384.4 797.0 C386.6 796.1 388.0 792.6 390.2 792.2 C392.5 791.8 395.8 793.3 397.7 794.6 C399.5 796.0 400.8 798.1 401.3 800.3 C401.7 802.5 401.2 805.4 400.2 807.7 C399.3 809.9 397.5 812.6 395.7 813.9 C393.9 815.2 391.4 815.4 389.4 815.5 C387.3 815.5 385.3 815.1 383.4 814.2 C381.6 813.3 379.9 811.6 378.4 810.1 C377.0 808.5 376.1 806.5 374.8 804.7 C373.4 802.9 372.0 800.8 370.4 799.3 C368.7 797.8 366.9 796.4 364.8 795.8 C362.7 795.1 360.0 795.4 357.8 795.5 C355.6 795.7 352.9 797.5 351.6 796.4 C350.2 795.3 349.1 789.4 349.8 788.9 C350.6 788.3 354.1 791.5 356.0 793.2 C357.8 794.8 359.3 797.2 360.8 799.0 C362.2 800.7 363.7 801.9 364.5 803.8 C365.4 805.7 366.2 808.3 365.9 810.4 C365.6 812.4 364.3 814.6 362.8 816.0 C361.2 817.4 358.9 818.7 356.6 818.8 C354.3 818.9 350.3 816.9 349.0 816.6 M441.1 839.2 C440.6 840.4 438.4 844.1 438.4 846.6 C438.3 849.1 439.6 852.2 440.7 854.1 C441.9 856.1 443.6 857.0 445.2 858.4 C446.7 859.7 448.4 861.0 450.0 862.2 C451.7 863.5 453.7 864.3 455.1 865.9 C456.4 867.5 457.9 869.8 458.1 871.8 C458.4 873.7 458.1 876.9 456.8 877.8 C455.6 878.6 452.6 877.9 450.8 876.7 C448.9 875.5 446.6 872.8 445.8 870.5 C444.9 868.2 445.2 865.0 445.9 863.0 C446.6 860.9 448.2 859.3 449.9 858.3 C451.7 857.4 454.2 856.9 456.2 857.4 C458.2 857.8 460.7 859.3 462.0 860.9 C463.3 862.4 464.1 864.8 464.0 866.9 C463.9 869.0 462.8 871.7 461.5 873.3 C460.2 874.8 458.2 876.0 456.1 876.3 C454.1 876.6 451.0 876.2 449.1 875.1 C447.2 874.0 445.6 871.6 444.5 869.7 C443.3 867.8 442.7 865.8 442.1 863.5 C441.4 861.3 440.3 858.7 440.6 856.3 C440.9 853.9 442.1 850.8 443.7 849.0 C445.4 847.2 448.3 845.8 450.8 845.5 C453.2 845.2 456.1 846.5 458.4 847.3 C460.7 848.2 462.8 849.0 464.7 850.4 C466.6 851.8 468.7 853.6 470.0 855.5 C471.3 857.5 472.5 860.2 472.7 862.2 C472.8 864.3 472.2 866.4 470.7 868.1 C469.3 869.8 466.1 871.2 464.0 872.2 C461.9 873.3 460.3 874.2 458.1 874.2 C455.8 874.1 452.6 872.8 450.5 872.0 C448.3 871.2 446.6 870.9 444.9 869.6 C443.2 868.2 441.2 866.1 440.1 864.0 C439.0 861.9 438.1 859.3 438.4 857.0 C438.7 854.7 440.6 852.1 441.9 850.2 C443.1 848.3 443.8 846.7 445.6 845.4 C447.5 844.1 451.7 842.8 452.9 842.2 M503.3 824.3 C503.0 825.2 502.0 828.0 501.1 829.9 C500.2 831.8 499.2 833.8 498.0 835.6 C496.7 837.5 495.0 839.2 493.4 841.0 C491.8 842.8 490.0 844.7 488.4 846.4 C486.9 848.1 485.8 850.0 484.1 851.2 C482.4 852.5 480.4 853.1 478.4 854.1 C476.5 855.0 474.7 855.8 472.5 856.8 C470.4 857.8 467.7 858.9 465.7 860.0 C463.6 861.2 462.1 862.4 460.3 863.7 C458.5 864.9 456.8 866.2 455.0 867.4 C453.2 868.6 451.5 870.2 449.6 871.0 C447.6 871.8 445.5 872.0 443.3 872.3 C441.2 872.6 439.1 872.6 436.7 872.8 C434.4 873.1 431.8 873.6 429.3 873.8 C426.9 873.9 424.0 873.9 421.8 873.8 C419.5 873.6 417.6 873.5 415.7 872.8 C413.8 872.0 412.1 870.5 410.3 869.1 C408.6 867.7 406.4 866.4 405.3 864.5 C404.3 862.6 403.9 860.2 404.0 857.9 C404.2 855.5 405.1 852.2 406.4 850.4 C407.7 848.6 409.9 847.7 412.1 846.8 C414.3 845.9 417.2 844.9 419.5 845.0 C421.8 845.2 424.1 846.2 425.7 847.6 C427.2 849.0 428.3 851.4 428.8 853.6 C429.3 855.8 429.5 858.7 428.8 860.8 C428.0 862.8 426.0 865.0 424.3 866.0 C422.5 867.1 420.3 867.5 418.3 867.0 C416.4 866.6 414.4 865.1 412.5 863.6 C410.6 862.1 408.8 859.6 407.0 858.0 C405.3 856.4 403.7 855.7 402.2 853.9 C400.6 852.1 398.4 849.4 397.8 847.2 C397.2 845.0 397.7 842.4 398.6 840.6 C399.5 838.8 401.1 837.1 403.2 836.3 C405.3 835.5 408.8 835.6 411.1 835.9 C413.4 836.2 415.2 836.6 417.0 838.0 C418.8 839.4 420.9 843.1 421.7 844.1 M483.0 875.2 C482.1 875.7 479.6 877.5 477.3 877.8 C475.1 878.1 471.9 877.4 469.5 877.1 C467.1 876.9 465.0 876.1 462.8 876.3 C460.7 876.5 458.6 878.1 456.5 878.2 C454.4 878.3 452.1 877.9 450.4 876.7 C448.7 875.6 446.8 873.1 446.2 871.0 C445.5 868.9 445.8 865.9 446.6 864.0 C447.4 862.1 449.2 860.6 450.9 859.5 C452.5 858.4 454.4 857.8 456.6 857.2 C458.7 856.6 461.7 855.7 464.0 856.0 C466.3 856.4 468.4 858.1 470.1 859.4 C471.9 860.8 473.5 862.5 474.7 864.3 C475.8 866.1 477.0 868.2 477.0 870.4 C477.0 872.7 475.8 877.7 474.6 878.0 C473.4 878.4 471.7 873.7 469.9 872.6 C468.0 871.5 466.0 871.5 463.6 871.4 C461.2 871.3 457.9 870.9 455.6 871.8 C453.4 872.7 451.9 875.5 450.1 876.9 C448.3 878.2 446.5 880.3 444.8 879.9 C443.1 879.5 441.7 875.4 439.7 874.4 C437.8 873.3 435.5 873.4 433.4 873.6 C431.2 873.7 428.7 874.6 426.6 875.4 C424.5 876.3 422.6 878.3 420.6 878.9 C418.6 879.5 416.7 879.2 414.6 879.2 C412.5 879.1 410.2 879.1 408.1 878.7 C405.9 878.4 403.8 877.7 401.6 876.8 C399.5 875.9 397.3 874.5 395.2 873.4 C393.2 872.3 391.1 871.7 389.3 870.2 C387.6 868.7 386.1 866.6 384.9 864.6 C383.8 862.5 383.0 860.1 382.5 857.9 C382.0 855.7 381.4 853.3 382.0 851.3 C382.5 849.3 383.9 847.2 385.7 846.0 C387.6 844.8 391.0 843.9 393.2 844.1 C395.4 844.2 397.4 845.1 398.9 846.8 C400.4 848.4 401.7 851.8 402.2 854.0 C402.7 856.3 401.8 859.3 401.8 860.4 M482.4 808.1 C481.2 807.9 476.9 806.5 474.7 806.7 C472.4 806.8 470.7 807.8 468.9 809.0 C467.1 810.1 465.4 811.7 464.0 813.5 C462.6 815.3 461.8 817.6 460.6 819.6 C459.3 821.6 457.8 823.6 456.5 825.3 C455.2 827.1 454.2 828.5 453.1 830.2 C451.9 832.0 450.7 833.8 449.4 835.6 C448.0 837.5 446.3 839.6 444.9 841.4 C443.5 843.1 442.4 844.5 441.0 846.2 C439.6 847.9 438.3 849.8 436.5 851.5 C434.8 853.3 432.3 855.0 430.5 856.7 C428.7 858.3 426.8 859.5 425.5 861.4 C424.3 863.4 423.0 866.2 423.1 868.6 C423.1 871.0 426.4 875.0 425.8 875.8 C425.3 876.6 422.0 873.6 419.8 873.3 C417.6 873.0 415.1 873.7 412.7 874.0 C410.4 874.3 408.0 874.5 405.8 874.9 C403.6 875.2 401.6 875.9 399.3 876.0 C397.1 876.0 394.5 875.5 392.4 875.1 C390.2 874.7 388.5 873.9 386.2 873.5 C383.9 873.1 381.1 873.1 378.6 872.6 C376.0 872.1 373.0 871.8 370.9 870.5 C368.8 869.3 366.8 867.2 365.9 865.1 C365.1 862.9 364.9 859.9 365.7 857.6 C366.4 855.4 368.5 853.3 370.4 851.7 C372.3 850.0 374.9 848.8 377.0 847.8 C379.1 846.8 381.1 845.7 383.1 845.6 C385.1 845.5 387.2 846.0 388.9 847.1 C390.6 848.2 392.5 850.1 393.3 852.2 C394.0 854.2 394.2 857.2 393.4 859.4 C392.5 861.6 390.2 864.3 388.3 865.4 C386.5 866.6 384.2 866.9 382.3 866.6 C380.4 866.2 378.3 865.2 376.9 863.5 C375.6 861.7 374.5 858.5 374.3 856.2 C374.0 853.9 374.1 851.8 375.3 849.9 C376.4 848.0 380.0 845.8 380.9 845.0 M532.2 844.6 C531.3 845.2 529.1 846.9 527.2 848.2 C525.4 849.5 523.2 851.5 520.9 852.4 C518.7 853.3 516.1 854.1 513.9 853.7 C511.7 853.3 509.1 851.7 507.6 850.0 C506.2 848.4 505.5 845.7 505.3 843.7 C505.1 841.6 505.7 839.9 506.4 837.7 C507.1 835.6 508.4 833.0 509.3 830.7 C510.2 828.4 510.7 826.0 511.7 823.8 C512.7 821.6 514.1 819.3 515.5 817.5 C516.9 815.6 518.6 814.3 520.1 812.7 C521.6 811.2 522.8 809.6 524.5 808.1 C526.3 806.6 529.3 803.3 530.4 803.6 C531.5 804.0 530.6 808.1 531.0 810.3 C531.4 812.4 532.5 814.3 532.8 816.6 C533.1 818.8 533.6 821.7 532.8 823.8 C532.0 826.0 529.8 828.3 528.0 829.6 C526.1 830.9 523.9 831.7 521.8 831.8 C519.6 831.9 517.3 830.9 515.0 830.3 C512.6 829.6 509.9 828.8 507.6 827.9 C505.3 827.0 503.1 826.2 501.3 825.0 C499.5 823.7 498.3 822.0 496.8 820.3 C495.3 818.6 493.8 816.4 492.2 814.8 C490.6 813.1 489.0 811.3 487.1 810.5 C485.2 809.8 483.0 809.5 481.0 810.1 C479.0 810.7 477.0 812.6 475.3 814.3 C473.6 815.9 471.8 817.9 470.7 819.9 C469.5 821.9 468.4 824.1 468.3 826.2 C468.2 828.4 469.3 830.9 470.0 833.0 C470.7 835.1 471.3 836.8 472.4 838.8 C473.4 840.7 475.2 842.8 476.5 844.9 C477.8 846.9 479.1 848.7 480.2 850.9 C481.3 853.2 482.7 856.0 482.9 858.3 C483.1 860.6 482.6 862.7 481.3 864.6 C480.0 866.5 477.2 868.8 475.1 869.7 C473.0 870.6 470.6 870.5 468.8 869.8 C466.9 869.2 464.8 866.6 464.0 866.0 M373.6 837.8 C373.1 839.0 371.9 842.5 370.9 844.8 C370.0 847.1 369.2 849.5 368.0 851.7 C366.8 853.9 365.3 856.0 363.9 857.9 C362.5 859.8 360.6 861.1 359.3 863.0 C358.0 864.9 357.5 867.2 356.1 869.2 C354.8 871.2 353.0 874.1 351.2 875.2 C349.4 876.3 345.3 876.6 345.1 875.9 C344.9 875.2 348.0 872.2 350.0 871.1 C352.0 870.0 354.8 869.3 357.2 869.1 C359.6 868.9 362.4 869.1 364.5 870.1 C366.6 871.1 370.0 873.5 369.8 875.0 C369.7 876.4 365.4 878.5 363.4 878.7 C361.4 878.9 360.0 876.8 358.0 876.1 C355.9 875.4 352.9 876.0 351.2 874.5 C349.5 873.1 348.0 869.9 347.6 867.5 C347.1 865.2 347.6 862.7 348.4 860.4 C349.3 858.1 351.2 855.6 352.5 853.6 C353.8 851.5 355.1 850.2 356.1 848.0 C357.1 845.9 358.1 843.1 358.7 840.7 C359.2 838.4 359.5 836.3 359.3 833.9 C359.2 831.5 358.8 828.5 357.6 826.4 C356.3 824.2 354.0 822.5 352.1 821.1 C350.1 819.8 346.2 819.9 345.7 818.5 C345.2 817.1 348.4 814.7 349.2 812.6 C349.9 810.5 350.6 808.1 350.2 805.8 C349.9 803.6 347.1 801.1 347.1 799.0 C347.1 796.8 348.7 794.4 350.2 792.7 C351.7 791.1 353.7 789.7 356.0 789.3 C358.3 788.9 361.8 789.5 363.9 790.6 C365.9 791.7 367.5 793.7 368.3 795.8 C369.0 797.9 368.9 800.9 368.3 803.3 C367.7 805.6 366.5 808.3 364.8 809.8 C363.1 811.4 360.2 812.5 358.0 812.5 C355.8 812.6 353.1 811.7 351.5 810.4 C349.8 809.1 348.5 807.0 348.1 804.9 C347.7 802.8 349.0 799.1 349.2 797.9" fill="none" stroke="#8aa6f6" stroke-width="1.25" stroke-linecap="round"/>
<rect x="412.7" y="783.6" width="21.0" height="10.0" rx="5.0" transform="rotate(0.0 423.2 788.6)" fill="url(#cpill)" stroke="none" stroke-width="0" /><rect x="342.5" y="804.6" width="21.0" height="10.0" rx="5.0" transform="rotate(-80.0 353.0 809.6)" fill="url(#cpill)" stroke="none" stroke-width="0" /><rect x="372.8" y="816.4" width="21.0" height="10.0" rx="5.0" transform="rotate(5.0 383.3 821.4)" fill="url(#cpill)" stroke="none" stroke-width="0" /><rect x="405.3" y="814.4" width="21.0" height="10.0" rx="5.0" transform="rotate(40.0 415.8 819.4)" fill="url(#cpill)" stroke="none" stroke-width="0" /><rect x="447.3" y="806.6" width="21.0" height="10.0" rx="5.0" transform="rotate(30.0 457.8 811.6)" fill="url(#cpill)" stroke="none" stroke-width="0" /><rect x="506.4" y="802.1" width="21.0" height="10.0" rx="5.0" transform="rotate(-45.0 516.9 807.1)" fill="url(#cpill)" stroke="none" stroke-width="0" /><rect x="487.9" y="827.3" width="21.0" height="10.0" rx="5.0" transform="rotate(40.0 498.4 832.3)" fill="url(#cpill)" stroke="none" stroke-width="0" /><rect x="455.9" y="830.5" width="21.0" height="10.0" rx="5.0" transform="rotate(-15.0 466.4 835.5)" fill="url(#cpill)" stroke="none" stroke-width="0" /><rect x="418.9" y="838.6" width="21.0" height="10.0" rx="5.0" transform="rotate(55.0 429.4 843.6)" fill="url(#cpill)" stroke="none" stroke-width="0" /><rect x="349.2" y="846.5" width="21.0" height="10.0" rx="5.0" transform="rotate(-60.0 359.7 851.5)" fill="url(#cpill)" stroke="none" stroke-width="0" /><rect x="388.1" y="847.2" width="21.0" height="10.0" rx="5.0" transform="rotate(0.0 398.6 852.2)" fill="url(#cpill)" stroke="none" stroke-width="0" /><rect x="463.3" y="848.9" width="21.0" height="10.0" rx="5.0" transform="rotate(-45.0 473.8 853.9)" fill="url(#cpill)" stroke="none" stroke-width="0" /><rect x="496.5" y="860.0" width="21.0" height="10.0" rx="5.0" transform="rotate(40.0 507.0 865.0)" fill="url(#cpill)" stroke="none" stroke-width="0" />
<circle cx="535.9" cy="889.9" r="2.1" fill="#f7b838"/><circle cx="480.6" cy="869.1" r="2.1" fill="#f7b838"/><circle cx="419.7" cy="917.0" r="2.1" fill="#f7b838"/><circle cx="387.5" cy="907.3" r="2.1" fill="#f7b838"/><circle cx="379.5" cy="893.5" r="2.1" fill="#f7b838"/><circle cx="538.7" cy="880.6" r="2.1" fill="#f7b838"/><circle cx="522.0" cy="871.8" r="2.1" fill="#f7b838"/><circle cx="454.1" cy="920.6" r="2.1" fill="#f7b838"/><circle cx="506.5" cy="893.0" r="2.1" fill="#f7b838"/><circle cx="455.6" cy="913.6" r="2.1" fill="#f7b838"/><circle cx="490.9" cy="915.8" r="2.1" fill="#f7b838"/><circle cx="453.3" cy="884.1" r="2.1" fill="#f7b838"/><circle cx="479.3" cy="903.9" r="2.1" fill="#f7b838"/><circle cx="446.1" cy="931.2" r="2.1" fill="#f7b838"/><circle cx="362.1" cy="918.0" r="2.1" fill="#f7b838"/><circle cx="400.9" cy="914.5" r="2.1" fill="#f7b838"/><circle cx="529.8" cy="885.6" r="2.1" fill="#f7b838"/><circle cx="450.8" cy="901.8" r="2.1" fill="#f7b838"/><circle cx="436.0" cy="878.7" r="2.1" fill="#f7b838"/><circle cx="462.8" cy="925.2" r="2.1" fill="#f7b838"/><circle cx="470.6" cy="886.5" r="2.1" fill="#f7b838"/><circle cx="500.0" cy="894.9" r="2.1" fill="#f7b838"/><circle cx="363.9" cy="906.8" r="2.1" fill="#f7b838"/><circle cx="428.8" cy="901.9" r="2.1" fill="#f7b838"/><circle cx="538.2" cy="904.4" r="2.1" fill="#f7b838"/><circle cx="530.4" cy="890.6" r="2.1" fill="#f7b838"/><circle cx="490.3" cy="872.8" r="2.1" fill="#f7b838"/><circle cx="395.9" cy="912.3" r="2.1" fill="#f7b838"/><circle cx="476.2" cy="921.0" r="2.1" fill="#f7b838"/><circle cx="412.3" cy="885.5" r="2.1" fill="#f7b838"/><circle cx="407.8" cy="902.4" r="2.1" fill="#f7b838"/><circle cx="339.0" cy="892.0" r="2.1" fill="#f7b838"/><circle cx="469.4" cy="877.5" r="2.1" fill="#f7b838"/><circle cx="398.1" cy="923.8" r="2.1" fill="#f7b838"/><circle cx="526.3" cy="884.0" r="2.1" fill="#f7b838"/><circle cx="370.7" cy="875.5" r="2.1" fill="#f7b838"/><circle cx="351.7" cy="918.8" r="2.1" fill="#f7b838"/><circle cx="486.2" cy="884.9" r="2.1" fill="#f7b838"/><circle cx="434.8" cy="912.5" r="2.1" fill="#f7b838"/><circle cx="339.8" cy="920.4" r="2.1" fill="#f7b838"/><circle cx="511.1" cy="881.5" r="2.1" fill="#f7b838"/><circle cx="478.9" cy="912.8" r="2.1" fill="#f7b838"/><circle cx="403.4" cy="924.2" r="2.1" fill="#f7b838"/><circle cx="379.0" cy="898.3" r="2.1" fill="#f7b838"/><circle cx="398.6" cy="896.3" r="2.1" fill="#f7b838"/><circle cx="501.3" cy="904.5" r="2.1" fill="#f7b838"/><circle cx="459.5" cy="931.2" r="2.1" fill="#f7b838"/><circle cx="380.0" cy="882.3" r="2.1" fill="#f7b838"/><circle cx="461.7" cy="877.6" r="2.1" fill="#f7b838"/><circle cx="532.6" cy="889.8" r="2.1" fill="#f7b838"/><circle cx="424.6" cy="895.6" r="2.1" fill="#f7b838"/><circle cx="504.5" cy="926.6" r="2.1" fill="#f7b838"/><circle cx="473.5" cy="879.0" r="2.1" fill="#f7b838"/><circle cx="407.2" cy="913.2" r="2.1" fill="#f7b838"/><circle cx="378.5" cy="924.5" r="2.1" fill="#f7b838"/><circle cx="513.7" cy="882.5" r="2.1" fill="#f7b838"/><circle cx="409.0" cy="882.6" r="2.1" fill="#f7b838"/><circle cx="482.0" cy="871.0" r="2.1" fill="#f7b838"/><circle cx="477.3" cy="872.0" r="2.1" fill="#f7b838"/><circle cx="507.3" cy="902.8" r="2.1" fill="#f7b838"/><circle cx="454.1" cy="874.1" r="2.1" fill="#f7b838"/><circle cx="343.1" cy="890.6" r="2.1" fill="#f7b838"/><circle cx="536.9" cy="906.4" r="2.1" fill="#f7b838"/><circle cx="511.6" cy="872.0" r="2.1" fill="#f7b838"/><circle cx="355.0" cy="869.3" r="2.1" fill="#f7b838"/><circle cx="477.6" cy="879.3" r="2.1" fill="#f7b838"/><circle cx="390.2" cy="910.7" r="2.1" fill="#f7b838"/><circle cx="477.3" cy="888.6" r="2.1" fill="#f7b838"/><circle cx="430.3" cy="816.8" r="2.1" fill="#f7b838"/><circle cx="449.6" cy="821.6" r="2.1" fill="#f7b838"/><circle cx="408.2" cy="813.9" r="2.1" fill="#f7b838"/><circle cx="394.2" cy="814.8" r="2.1" fill="#f7b838"/><circle cx="337.3" cy="818.3" r="2.1" fill="#f7b838"/><circle cx="456.0" cy="815.3" r="2.1" fill="#f7b838"/><circle cx="357.3" cy="856.9" r="2.1" fill="#f7b838"/><circle cx="430.6" cy="832.8" r="2.1" fill="#f7b838"/><circle cx="398.2" cy="859.9" r="2.1" fill="#f7b838"/><circle cx="489.3" cy="840.8" r="2.1" fill="#f7b838"/><circle cx="469.8" cy="845.9" r="2.1" fill="#f7b838"/><circle cx="437.1" cy="825.7" r="2.1" fill="#f7b838"/><circle cx="414.3" cy="832.3" r="2.1" fill="#f7b838"/><circle cx="430.5" cy="834.1" r="2.1" fill="#f7b838"/><circle cx="443.8" cy="852.8" r="2.1" fill="#f7b838"/><circle cx="517.9" cy="812.1" r="2.1" fill="#f7b838"/><circle cx="338.6" cy="817.7" r="2.1" fill="#f7b838"/>
<circle cx="346" cy="880" r="7" fill="url(#yeastg)" stroke="#7c9462" stroke-width="0.9"/><ellipse cx="357" cy="893" rx="16" ry="12.5" transform="rotate(22 357 893)" fill="url(#yeastg)" stroke="#7c9462" stroke-width="0.9"/><ellipse cx="363.5" cy="896.6" rx="5.5" ry="4" transform="rotate(22 357 893)" fill="#b8c49a" opacity="0.85"/><circle cx="410" cy="885" r="6.5" fill="url(#yeastg)" stroke="#7c9462" stroke-width="0.9"/><ellipse cx="395" cy="896" rx="16" ry="12" transform="rotate(-12 395 896)" fill="url(#yeastg)" stroke="#7c9462" stroke-width="0.9"/><ellipse cx="401.8" cy="895.5" rx="5.5" ry="4" transform="rotate(-12 395 896)" fill="#b8c49a" opacity="0.85"/><circle cx="434" cy="878.5" r="6.5" fill="url(#yeastg)" stroke="#7c9462" stroke-width="0.9"/><ellipse cx="442" cy="895" rx="13" ry="16" transform="rotate(-18 442 895)" fill="url(#yeastg)" stroke="#7c9462" stroke-width="0.9"/><ellipse cx="448.7" cy="893.8" rx="5.5" ry="4" transform="rotate(-18 442 895)" fill="#b8c49a" opacity="0.85"/><circle cx="468" cy="881" r="6.5" fill="url(#yeastg)" stroke="#7c9462" stroke-width="0.9"/><ellipse cx="482" cy="892" rx="17" ry="12.5" transform="rotate(10 482 892)" fill="url(#yeastg)" stroke="#7c9462" stroke-width="0.9"/><ellipse cx="488.9" cy="894.2" rx="5.5" ry="4" transform="rotate(10 482 892)" fill="#b8c49a" opacity="0.85"/><circle cx="506" cy="893.5" r="5.5" fill="url(#yeastg)" stroke="#7c9462" stroke-width="0.9"/><ellipse cx="524" cy="894.5" rx="16" ry="12.5" transform="rotate(-12 524 894.5)" fill="url(#yeastg)" stroke="#7c9462" stroke-width="0.9"/><ellipse cx="530.8" cy="894.0" rx="5.5" ry="4" transform="rotate(-12 524 894.5)" fill="#b8c49a" opacity="0.85"/>
<rect x="609" y="909.4" width="212" height="57.2" rx="3" fill="url(#sub3)"/>
<path d="M621.0,909.4 L623.0,905.4 L623.0,902.6 L619.4,899.8 L624.4,898.0 L619.2,895.1 L623.8,893.7 L623.7,891.7 L624.4,889.9 L623.6,887.9 L623.7,886.1 L625.3,884.7 L619.3,881.2 L624.7,881.1 L624.3,879.3 L624.2,877.6 L619.8,874.3 L623.8,874.1 L625.3,873.1 L622.3,870.2 L626.1,870.2 L626.0,868.6 L627.0,867.5 L625.9,865.5 L627.3,864.7 L627.0,863.0 L627.2,861.6 L628.5,860.8 L624.1,856.8 L627.0,856.9 L628.8,856.5 L628.7,855.0 L625.5,851.4 L625.1,849.6 L629.3,850.9 L629.1,849.3 L631.1,849.2 L629.9,846.9 L628.4,844.3 L631.9,845.5 L627.7,840.7 L629.0,840.1 L632.1,841.2 L630.1,838.0 L633.2,839.1 L630.4,835.2 L631.8,834.8 L635.5,836.7 L631.1,831.0 L636.7,834.8 L634.8,831.5 L632.9,828.0 L636.8,830.4 L637.9,829.9 L638.3,828.8 L639.8,828.9 L639.9,827.4 L640.9,827.0 L636.4,820.3 L641.7,824.7 L639.1,820.1 L643.1,823.2 L643.2,821.7 L643.7,820.7 L643.1,818.2 L645.7,819.9 L646.4,819.2 L644.1,814.4 L646.9,816.5 L647.4,815.4 L649.1,816.0 L649.6,815.0 L649.1,812.4 L647.1,807.6 L651.8,812.9 L648.7,806.2 L652.3,809.9 L652.6,808.4 L653.1,807.3 L653.9,806.6 L656.3,808.7 L654.5,803.6 L657.9,807.4 L658.3,806.1 L659.1,805.5 L657.7,800.6 L659.3,801.5 L658.7,797.9 L662.6,803.4 L662.9,801.7 L662.8,799.0 L665.3,801.9 L665.7,800.2 L665.8,797.9 L665.7,794.9 L668.7,799.2 L670.1,799.9 L670.4,798.0 L672.1,799.2 L672.5,797.4 L673.8,797.8 L674.3,796.1 L675.7,796.6 L676.4,795.3 L677.7,795.7 L679.1,796.5 L679.9,795.2 L679.3,789.4 L680.7,790.0 L682.4,791.5 L684.5,795.0 L685.3,793.1 L686.8,794.3 L687.7,793.0 L687.7,787.1 L689.3,788.6 L691.7,794.1 L692.5,791.5 L694.1,793.1 L695.3,792.1 L695.9,786.8 L697.5,788.1 L699.4,791.2 L701.0,792.1 L702.5,792.1 L704.0,791.2 L705.7,791.3 L707.1,785.8 L709.4,792.3 L711.5,792.4 L714.5,787.9 L717.7,786.1 L719.7,791.2 L721.5,792.7 L723.4,790.3 L725.0,791.0 L726.5,791.7 L728.0,792.2 L730.1,787.0 L731.3,789.6 L732.6,790.1 L734.3,788.1 L735.8,787.8 L736.2,793.1 L738.5,787.8 L738.9,792.2 L740.0,793.1 L741.3,793.1 L742.2,794.2 L743.6,793.7 L744.4,795.4 L745.6,795.1 L746.9,794.8 L747.7,796.1 L750.5,790.7 L750.5,794.6 L751.1,796.5 L752.3,796.4 L753.2,797.0 L754.3,797.2 L755.3,797.6 L756.7,796.8 L758.6,795.0 L760.2,793.9 L760.0,797.3 L760.3,799.4 L761.0,800.2 L763.4,797.5 L762.7,801.7 L766.6,795.7 L764.4,802.9 L768.4,796.8 L766.0,804.1 L767.1,804.4 L768.3,804.1 L772.2,798.9 L769.5,806.2 L770.3,806.9 L774.0,802.3 L772.8,806.5 L772.8,808.6 L776.3,804.6 L774.4,809.7 L775.1,810.6 L775.7,811.5 L777.5,810.5 L777.5,812.5 L778.9,812.1 L778.5,814.5 L779.4,815.0 L781.1,814.3 L780.9,816.4 L781.7,817.0 L785.8,813.1 L783.0,818.6 L784.2,818.8 L784.5,820.1 L786.2,819.5 L789.5,817.2 L786.6,822.4 L786.8,823.7 L791.9,819.4 L787.6,826.0 L788.9,826.1 L789.7,826.8 L790.4,827.6 L790.3,829.3 L790.7,830.3 L791.3,831.3 L791.7,832.4 L793.0,832.6 L793.3,833.9 L793.3,835.4 L793.5,836.7 L793.8,837.9 L795.5,837.8 L795.1,839.7 L797.1,839.5 L796.8,841.2 L798.5,841.4 L796.5,844.4 L797.1,845.4 L797.3,846.8 L800.8,845.6 L802.5,846.0 L802.5,847.5 L798.9,851.5 L800.9,851.6 L804.2,851.0 L799.4,855.6 L800.7,856.2 L800.0,858.1 L800.9,859.1 L801.1,860.4 L802.3,861.3 L801.3,863.4 L801.4,864.8 L801.7,866.2 L805.3,866.0 L808.2,866.3 L803.8,869.9 L803.7,871.5 L803.4,873.2 L803.9,874.6 L807.1,875.1 L804.0,877.9 L804.4,879.4 L804.7,881.0 L803.6,883.0 L805.6,884.2 L809.8,884.9 L804.6,888.1 L804.9,889.9 L809.3,890.9 L805.5,893.7 L804.0,895.9 L804.3,898.0 L804.3,900.3 L806.0,902.6 L806.0,905.4 L808.0,909.4 Z" fill="url(#dome)"/>
<path d="M640.1 907.4 L642.1 901.3 L643.7 895.1 L645.4 889.0 L645.6 882.6 M645.6 882.6 L643.1 878.3 L639.5 874.8 L635.2 872.2 L631.0 869.5 M631.0 869.5 L627.6 866.9 M631.0 869.5 L629.3 865.8 M645.6 882.6 L649.6 879.2 L652.7 875.0 L654.4 870.2 L654.9 865.0 M654.9 865.0 L653.0 861.2 L650.0 858.0 L646.7 855.2 L642.9 853.2 M642.9 853.2 L639.4 853.2 L635.9 853.4 L632.4 853.7 M642.9 853.2 L641.1 850.3 L638.9 847.7 L636.9 844.9 L634.2 842.8 M634.2 842.8 M634.2 842.8 M654.9 865.0 L656.5 862.0 L657.8 858.8 L658.6 855.5 L658.5 852.1 M658.5 852.1 L656.7 850.4 L654.5 849.3 L652.0 849.1 L649.7 848.3 M649.7 848.3 L647.9 849.3 L646.4 850.6 L645.1 852.2 L643.6 853.4 M643.6 853.4 L642.9 854.7 L642.2 856.0 L641.2 857.1 L640.5 858.4 M643.6 853.4 L642.0 854.0 L640.3 853.9 L638.7 854.2 L637.0 854.1 M649.7 848.3 L648.3 846.8 L646.9 845.3 L645.0 844.4 L643.1 843.7 M643.1 843.7 L641.4 843.6 L639.7 843.1 L638.0 843.2 L636.3 843.6 M643.1 843.7 L641.8 842.9 L640.5 842.0 L639.1 841.3 L637.6 841.1 M658.5 852.1 L658.5 849.7 L657.7 847.4 L656.2 845.5 L654.7 843.6 M654.7 843.6 L653.1 843.1 L651.4 842.5 L649.7 842.6 L648.0 843.2 M648.0 843.2 L647.2 844.2 L646.1 845.0 L645.1 845.8 L643.9 846.4 M648.0 843.2 L646.7 843.0 L645.5 842.7 L644.2 842.5 L643.0 841.9 M654.7 843.6 L654.8 841.7 L654.3 840.0 L653.8 838.2 L653.0 836.5 M653.0 836.5 L651.9 835.6 L651.0 834.5 L650.1 833.4 L649.4 832.2 M658.0 907.4 L657.3 901.5 L657.5 895.6 L658.7 889.8 L658.0 884.0 M658.0 884.0 L656.1 880.6 L653.7 877.5 L650.6 875.3 L648.2 872.2 M648.2 872.2 L645.7 870.7 L643.5 869.0 L640.8 867.9 L638.0 867.2 M638.0 867.2 L635.9 867.3 L633.9 866.7 L632.1 865.5 L630.9 863.8 M630.9 863.8 L629.7 862.9 L628.6 861.9 M638.0 867.2 L635.8 866.3 L633.3 866.2 L631.0 866.8 L628.8 867.9 M628.8 867.9 L628.3 869.4 L628.0 871.0 L627.4 872.5 L626.4 873.8 M626.4 873.8 M626.4 873.8 M628.8 867.9 L627.0 868.2 M669.3 907.4 L666.8 901.4 L666.6 895.0 L665.0 888.7 L662.1 882.9 M662.1 882.9 L658.3 879.1 L655.7 874.4 L654.2 869.2 L653.1 863.9 M653.1 863.9 L651.2 860.0 L648.1 856.9 L644.1 854.9 L640.5 852.4 M640.5 852.4 L636.8 852.3 L633.1 851.6 M640.5 852.4 L639.3 849.4 L637.3 847.0 L636.0 844.0 L635.3 840.9 M635.3 840.9 M653.1 863.9 L652.8 859.9 L651.1 856.1 L649.1 852.6 L646.4 849.5 M646.4 849.5 L644.2 847.4 L642.8 844.8 L641.7 841.9 L639.7 839.7 M639.7 839.7 L637.6 838.5 L635.4 837.6 M646.4 849.5 L644.0 847.4 L641.8 845.0 L640.5 842.1 L639.6 839.0 M639.6 839.0 L638.2 836.7 L637.6 834.1 M639.6 839.0 L639.5 836.5 L640.1 834.1 L641.0 831.8 L641.5 829.4 M641.5 829.4 L641.7 827.4 L642.0 825.5 L642.7 823.8 L643.8 822.2 M641.5 829.4 L642.2 827.9 L642.7 826.3 L643.7 825.1 L644.6 823.8 M678.0 907.4 L679.8 901.5 L680.9 895.5 L684.0 890.2 L685.9 884.4 M685.9 884.4 L685.5 880.4 L686.3 876.5 L686.5 872.5 L686.7 868.5 M686.7 868.5 L685.0 865.9 L683.1 863.5 L680.9 861.5 L679.2 859.0 M679.2 859.0 L677.5 857.4 L676.2 855.5 L674.3 854.1 L672.1 853.3 M672.1 853.3 L670.2 853.2 L668.2 853.7 L666.3 854.0 L664.3 854.2 M664.3 854.2 L662.7 854.7 L661.2 855.4 L659.6 855.6 L657.9 855.9 M664.3 854.2 L663.0 853.6 L662.0 852.6 L661.5 851.3 L661.3 849.9 M672.1 853.3 L670.4 852.9 L668.6 853.1 L666.9 852.6 L665.1 852.7 M665.1 852.7 L663.9 852.9 L662.9 853.5 L661.8 853.8 L660.7 853.7 M665.1 852.7 L663.8 852.0 L662.3 851.7 L660.9 851.1 L659.6 850.4 M679.2 859.0 L679.1 856.9 L678.8 854.8 L678.9 852.6 L678.8 850.5 M678.8 850.5 L678.8 848.7 L679.5 847.0 L680.3 845.3 L680.4 843.5 M680.4 843.5 L680.5 842.1 L681.0 840.8 L681.3 839.5 L681.3 838.1 M680.4 843.5 L680.9 842.1 L681.6 840.8 L682.4 839.5 L682.8 838.0 M678.8 850.5 L679.6 849.0 L680.6 847.6 L681.3 846.1 L681.7 844.4 M681.7 844.4 L681.2 843.1 L680.3 842.0 L679.3 841.0 L678.6 839.8 M686.7 868.5 L686.7 865.6 L686.5 862.7 L686.6 859.8 L687.1 857.0 M687.1 857.0 L686.6 855.1 L686.5 853.2 L686.0 851.4 L686.1 849.4 M686.1 849.4 L685.1 848.2 L684.2 847.0 L683.3 845.7 L682.6 844.4 M682.6 844.4 L681.7 843.9 L680.7 843.5 L679.6 843.2 L678.6 842.9 M686.1 849.4 L687.3 848.5 L688.4 847.4 L689.9 846.7 L691.1 845.8 M691.1 845.8 L691.1 844.7 L690.7 843.7 L690.1 842.8 L689.7 841.8 M691.1 845.8 L692.2 845.4 L693.4 845.3 L694.6 845.4 L695.8 845.3 M687.1 857.0 L688.4 855.0 L690.3 853.6 L692.4 852.7 L694.8 852.4 M694.8 852.4 L696.0 851.2 L697.5 850.4 L698.9 849.5 L700.6 849.2 M700.6 849.2 L701.9 849.0 L703.3 849.0 L704.6 849.4 L705.7 850.3 M700.6 849.2 L701.7 849.5 L702.8 849.4 L703.9 849.3 L705.0 848.8 M685.9 884.4 L689.0 881.8 L692.2 879.4 L695.3 876.7 L697.6 873.3 M697.6 873.3 L697.8 870.6 L697.9 867.9 L697.3 865.2 L697.3 862.5 M697.3 862.5 L695.8 861.0 L694.1 859.9 L692.7 858.3 L691.5 856.6 M691.5 856.6 L690.2 856.2 L688.8 855.9 L687.6 855.3 L686.7 854.3 M686.7 854.3 L685.9 853.8 L685.2 853.3 L684.6 852.7 L683.8 852.1 M686.7 854.3 L686.3 853.5 L685.7 852.8 L685.2 852.1 L685.0 851.2 M691.5 856.6 L691.1 854.9 L691.2 853.2 L691.1 851.5 L691.6 849.9 M691.6 849.9 L691.4 848.5 L690.9 847.3 L690.0 846.4 L689.1 845.3 M691.6 849.9 L692.6 849.1 L693.7 848.6 L694.9 848.4 L696.1 848.6 M697.3 862.5 L697.6 860.4 L698.1 858.4 L699.1 856.6 L700.4 855.0 M700.4 855.0 L701.1 853.6 L702.1 852.5 L703.2 851.4 L704.3 850.4 M704.3 850.4 L704.8 849.3 L705.3 848.2 L705.6 847.1 L705.6 845.9 M704.3 850.4 L705.1 849.7 L706.2 849.2 L707.0 848.5 L707.6 847.6 M700.4 855.0 L701.8 854.1 L703.2 853.3 L704.6 852.6 L706.1 851.9 M706.1 851.9 L706.8 850.8 L707.7 849.9 L708.7 849.0 L709.8 848.5 M706.1 851.9 L707.4 852.0 L708.7 851.8 L710.0 852.1 L711.1 852.8 M697.6 873.3 L700.0 871.4 L702.7 869.8 L705.6 868.7 L708.4 867.5 M708.4 867.5 L710.1 865.7 L712.1 864.2 L714.0 862.9 L715.5 860.9 M715.5 860.9 L716.4 859.4 L717.3 857.8 L717.7 856.1 L718.2 854.4 M718.2 854.4 L717.9 853.0 L717.9 851.5 L717.5 850.1 L717.1 848.7 M718.2 854.4 L719.2 853.3 L720.2 852.1 L721.3 851.1 L722.3 850.0 M715.5 860.9 L717.1 860.1 L718.8 859.6 L720.6 859.2 L722.3 858.6 M722.3 858.6 L723.2 857.8 L724.4 857.3 L725.3 856.4 L726.3 855.6 M708.4 867.5 L710.8 866.9 L713.1 866.5 L715.5 866.1 L717.9 866.3 M717.9 866.3 L719.9 865.9 L721.9 865.4 L723.7 864.4 L725.6 863.8 M725.6 863.8 L726.8 863.1 L727.9 862.2 L729.3 861.7 L730.5 861.1 M725.6 863.8 L727.2 863.7 L728.7 864.3 L730.4 864.2 L731.9 863.6 M691.4 907.4 L689.0 901.1 L685.0 895.6 L679.4 891.9 L672.8 890.3 M672.8 890.3 L667.1 890.4 L661.5 889.0 L656.1 887.2 L651.5 883.8 M651.5 883.8 L647.6 882.4 L643.5 882.1 L639.7 880.6 L635.8 879.1 M635.8 879.1 L632.5 879.7 L629.2 880.0 L626.1 881.4 M635.8 879.1 L633.5 877.0 L630.9 875.4 L628.5 873.4 L626.2 871.3 M626.2 871.3 M626.2 871.3 M651.5 883.8 L647.6 881.6 L643.3 880.9 L638.9 881.6 L634.5 882.1 M634.5 882.1 L631.2 883.6 L628.5 885.9 L625.4 887.8 M634.5 882.1 L631.4 881.0 L628.5 879.5 L626.1 877.2 M672.8 890.3 L667.4 889.2 L662.0 889.7 L656.6 890.1 L651.4 891.8 M651.4 891.8 L647.7 894.6 L643.5 896.4 L639.0 896.7 L634.4 897.1 M634.4 897.1 L632.0 899.5 L629.3 901.4 L626.2 902.5 M634.4 897.1 L631.0 896.9 L627.5 896.9 M651.4 891.8 L647.4 892.4 L643.7 894.1 L639.7 895.1 L636.0 896.8 M636.0 896.8 L633.7 898.9 L631.2 900.7 L628.7 902.7 L625.9 904.0 M625.9 904.0 L624.3 905.8 M625.9 904.0 M636.0 896.8 L633.3 898.3 L630.9 900.4 L629.2 903.1 L628.5 906.2 M628.5 906.2 L630.1 907.8 M708.3 907.4 L704.3 902.1 L699.3 897.7 L695.3 892.4 L692.5 886.3 M692.5 886.3 L688.9 882.3 L685.4 878.3 L681.0 875.2 L675.8 873.6 M675.8 873.6 L671.7 874.2 L667.6 874.3 L663.4 874.2 L659.3 873.6 M659.3 873.6 L656.2 873.9 L653.2 873.1 L650.5 871.6 L648.1 869.5 M648.1 869.5 L645.9 869.5 L643.7 869.2 L641.5 869.3 L639.4 869.2 M639.4 869.2 L638.0 870.1 L636.8 871.2 L635.5 872.1 L633.9 872.5 M639.4 869.2 L638.1 868.0 L637.0 866.6 L636.5 864.9 L636.0 863.2 M648.1 869.5 L646.9 867.5 L645.0 866.1 L642.9 865.0 L640.7 864.0 M640.7 864.0 L639.1 862.9 L637.8 861.4 L636.3 860.2 L634.4 859.6 M659.3 873.6 L657.4 871.0 L656.3 867.9 L654.4 865.3 L652.6 862.6 M652.6 862.6 L651.0 860.7 L649.2 859.1 L647.6 857.3 L645.6 855.9 M645.6 855.9 L643.9 855.1 L642.4 854.0 L640.8 853.0 L639.7 851.5 M645.6 855.9 L645.1 854.1 L644.9 852.2 L644.1 850.6 L643.8 848.7 M652.6 862.6 L652.1 860.4 L651.5 858.2 L650.7 856.0 L650.0 853.9 M650.0 853.9 L648.7 852.9 L647.5 852.0 L646.5 850.9 L645.4 849.8 M650.0 853.9 L649.7 852.0 L649.9 850.1 L649.8 848.2 L650.3 846.4 M675.8 873.6 L672.4 871.8 L668.7 870.8 L664.9 870.2 L661.1 870.7 M661.1 870.7 L658.4 872.2 L655.4 872.6 L652.3 872.2 L649.4 871.3 M649.4 871.3 L647.0 872.1 L644.5 872.8 L642.4 874.2 L640.4 875.8 M640.4 875.8 L639.4 877.1 L638.9 878.7 L638.4 880.3 L638.0 881.9 M640.4 875.8 L638.6 876.0 L636.9 876.4 L635.1 876.2 L633.3 876.0 M661.1 870.7 L658.5 869.0 L655.6 868.3 L652.6 867.8 L649.7 866.9 M649.7 866.9 L647.6 868.0 L646.0 869.7 L644.8 871.8 L643.9 874.0 M643.9 874.0 L644.4 875.5 L644.7 877.1 L644.8 878.7 L645.3 880.2 M643.9 874.0 L642.8 875.5 L641.6 877.0 L640.5 878.6 L640.1 880.5 M649.7 866.9 L647.8 865.8 L645.7 865.2 L643.4 865.3 L641.3 864.7 M641.3 864.7 L639.6 864.9 L637.9 865.1 L636.2 865.2 L634.6 865.8 M692.5 886.3 L691.2 881.2 L689.1 876.3 L688.0 871.0 L687.1 865.8 M687.1 865.8 L684.5 863.5 L681.2 862.2 L678.6 859.9 L676.8 857.0 M676.8 857.0 L674.6 855.5 L672.1 854.8 L669.5 854.2 L667.0 853.4 M667.0 853.4 L665.1 853.4 L663.3 853.8 L661.4 854.3 L659.6 854.9 M659.6 854.9 L658.4 855.3 L657.3 856.0 L656.2 856.7 L654.9 856.9 M659.6 854.9 L658.2 855.3 L656.8 855.9 L655.5 856.6 L654.1 857.3 M667.0 853.4 L665.6 851.7 L664.1 850.1 L662.6 848.4 L661.1 846.9 M661.1 846.9 L659.6 846.0 L657.8 845.6 L656.1 845.1 L654.6 844.2 M661.1 846.9 L660.2 845.7 L659.1 844.7 L657.8 844.0 L656.3 843.8 M676.8 857.0 L676.5 854.1 L676.2 851.2 L676.4 848.3 L677.2 845.5 M677.2 845.5 L677.8 843.3 L678.5 841.1 L678.6 838.8 L679.2 836.5 M679.2 836.5 L678.9 834.8 L678.0 833.2 L677.0 831.7 L676.3 830.1 M679.2 836.5 L680.2 835.4 L681.5 834.6 L682.9 833.9 L684.2 833.0 M677.2 845.5 L678.3 843.9 L679.7 842.5 L680.9 840.9 L681.4 839.0 M681.4 839.0 L681.1 837.4 L680.2 836.0 L679.6 834.4 L679.2 832.9 M687.1 865.8 L688.5 862.1 L690.3 858.6 L692.8 855.5 L695.5 852.6 M695.5 852.6 L697.8 850.3 L699.8 847.6 L700.8 844.5 L701.9 841.4 M701.9 841.4 L701.8 838.9 L702.2 836.5 L702.0 834.0 L702.1 831.5 M702.1 831.5 L701.5 829.8 L701.3 828.1 L701.1 826.3 L700.7 824.6 M702.1 831.5 L702.4 829.7 L702.5 828.0 L702.9 826.3 L703.0 824.5 M701.9 841.4 L703.1 839.2 L704.3 837.1 L705.6 834.9 L706.5 832.6 M706.5 832.6 L706.6 830.7 L706.8 828.9 L707.3 827.1 L707.5 825.2 M706.5 832.6 L708.1 831.3 L709.9 830.6 L712.0 830.6 L713.9 831.0 M716.8 907.4 L719.3 901.9 L723.0 897.1 L726.8 892.3 L730.1 887.2 M730.1 887.2 L732.6 884.0 L734.6 880.4 L735.2 876.4 L737.2 872.8 M737.2 872.8 L738.3 870.0 L738.4 867.0 L738.5 863.9 L738.9 860.9 M738.9 860.9 L738.3 858.9 L737.1 857.1 L735.3 855.8 L733.3 855.1 M733.3 855.1 L731.5 855.5 L729.9 856.4 L728.2 857.0 L726.5 857.5 M726.5 857.5 L725.8 858.7 L725.4 860.0 L725.4 861.4 L725.5 862.8 M726.5 857.5 L725.1 858.0 L723.6 858.4 L722.1 858.7 L720.7 859.1 M733.3 855.1 L732.3 854.1 L731.1 853.2 L730.3 851.9 L729.7 850.7 M729.7 850.7 L729.0 850.0 L728.1 849.6 L727.2 849.5 L726.3 849.3 M729.7 850.7 L729.3 849.5 L728.6 848.6 L727.8 847.7 L727.1 846.7 M738.9 860.9 L739.6 858.5 L739.6 855.9 L739.7 853.4 L740.1 850.9 M740.1 850.9 L739.5 849.0 L738.4 847.4 L737.4 845.7 L737.0 843.8 M737.0 843.8 L735.9 842.9 L734.9 842.0 L734.0 841.0 L733.2 839.9 M740.1 850.9 L741.4 849.7 L743.0 849.1 L744.3 848.1 L746.0 847.6 M746.0 847.6 L747.0 847.0 L748.0 846.2 L748.6 845.2 L749.1 844.0 M746.0 847.6 L747.1 848.2 L748.3 848.7 L749.4 849.4 L750.3 850.3 M737.2 872.8 L738.8 870.0 L740.4 867.2 L742.6 864.8 L745.0 862.6 M745.0 862.6 L746.3 860.4 L748.0 858.4 L750.1 857.1 L752.3 855.8 M752.3 855.8 L754.0 854.8 L755.4 853.5 L756.6 852.0 L757.7 850.4 M757.7 850.4 L757.4 848.9 L756.7 847.6 L756.2 846.1 L755.5 844.8 M757.7 850.4 L758.9 849.4 L760.1 848.6 L761.4 847.8 L762.6 847.0 M752.3 855.8 L754.3 856.3 L755.9 857.5 L757.8 858.1 L759.8 858.2 M759.8 858.2 L761.2 857.2 L762.5 856.2 L764.1 855.6 L765.7 855.3 M759.8 858.2 L761.1 859.1 L762.6 859.7 L764.1 860.0 L765.4 860.9 M730.1 887.2 L734.1 884.5 L737.1 880.7 L739.1 876.3 L740.2 871.6 M740.2 871.6 L739.0 868.5 L738.3 865.3 L738.3 862.0 L737.4 858.9 M737.4 858.9 L735.7 857.3 L734.3 855.3 L732.4 854.0 L730.9 852.1 M730.9 852.1 L729.3 851.5 L728.0 850.3 L726.5 849.7 L724.8 849.5 M724.8 849.5 L723.9 850.3 L723.1 851.1 L722.1 851.7 L721.0 852.2 M724.8 849.5 L723.6 849.4 L722.5 849.3 L721.4 849.4 L720.3 849.7 M730.9 852.1 L729.9 850.6 L729.3 848.9 L728.9 847.1 L728.6 845.3 M728.6 845.3 L727.7 844.4 L726.6 843.8 L725.5 843.2 L724.3 842.8 M737.4 858.9 L736.6 856.5 L736.3 854.1 L736.3 851.6 L735.7 849.2 M735.7 849.2 L734.4 847.9 L732.9 846.8 L731.3 845.7 L729.8 844.6 M729.8 844.6 L728.5 844.7 L727.2 845.1 L725.8 845.2 L724.5 845.5 M729.8 844.6 L729.3 843.3 L728.6 842.2 L727.7 841.0 L727.1 839.8 M735.7 849.2 L735.0 847.4 L734.0 845.8 L732.7 844.5 L731.1 843.4 M731.1 843.4 L729.6 843.7 L728.1 844.3 L726.8 845.1 L725.4 845.9 M740.2 871.6 L741.1 868.5 L741.8 865.4 L741.3 862.3 L740.4 859.3 M740.4 859.3 L738.6 858.0 L736.6 857.2 L734.8 855.9 L732.8 855.1 M732.8 855.1 L731.4 854.4 L730.2 853.5 L729.1 852.4 L727.9 851.4 M727.9 851.4 L726.8 851.5 L725.7 852.0 L724.6 852.5 L723.5 853.0 M732.8 855.1 L731.3 854.0 L729.6 853.3 L727.7 853.1 L726.1 852.3 M726.1 852.3 L724.7 852.8 L723.3 852.9 L721.9 853.2 L720.4 853.2 M726.1 852.3 L724.8 851.5 L723.4 850.9 L721.9 850.4 L720.4 850.5 M740.4 859.3 L740.7 857.0 L740.6 854.8 L739.8 852.7 L739.0 850.7 M739.0 850.7 L738.1 849.3 L737.5 847.8 L736.8 846.4 L736.6 844.8 M736.6 844.8 L736.4 843.7 L736.1 842.7 L735.7 841.7 L735.4 840.7 M736.6 844.8 L737.4 843.9 L738.3 843.2 L739.3 842.5 L740.1 841.7 M739.0 850.7 L738.6 849.0 L737.6 847.5 L737.1 845.8 L737.0 844.0 M737.0 844.0 L736.9 842.7 L736.3 841.6 L736.0 840.3 L735.8 839.0 M737.0 844.0 L737.4 842.8 L737.9 841.7 L738.8 840.9 L740.0 840.4 M734.9 907.4 L733.1 901.6 L729.7 896.5 L728.0 890.6 L725.7 885.0 M725.7 885.0 L722.7 881.4 L721.1 877.1 L719.9 872.6 L718.5 868.2 M718.5 868.2 L717.1 864.8 L715.7 861.5 L714.3 858.1 L712.7 854.8 M712.7 854.8 L711.6 852.5 L710.3 850.4 L708.7 848.4 L707.0 846.5 M707.0 846.5 L705.4 845.9 L704.0 845.0 L702.5 844.2 L701.1 843.3 M701.1 843.3 L699.9 843.2 L698.8 843.1 L697.7 843.0 L696.5 842.8 M701.1 843.3 L700.2 842.5 L699.1 842.0 L698.1 841.4 L697.2 840.6 M707.0 846.5 L706.9 844.4 L706.9 842.2 L707.2 840.1 L707.2 837.9 M707.2 837.9 L706.9 836.5 L706.8 835.0 L706.9 833.5 L707.4 832.1 M707.2 837.9 L707.5 836.2 L707.5 834.5 L707.9 832.8 L708.1 831.1 M718.5 868.2 L718.9 864.9 L720.5 861.9 L722.3 859.1 L724.5 856.5 M724.5 856.5 L724.8 854.1 L724.6 851.7 L724.0 849.3 L723.8 846.9 M723.8 846.9 L723.9 845.0 L724.4 843.3 L725.1 841.6 L726.1 840.1 M726.1 840.1 L726.4 838.9 L726.3 837.7 L725.8 836.6 L725.0 835.7 M726.1 840.1 L727.7 839.9 L729.1 839.4 L730.4 838.5 L731.9 838.0 M723.8 846.9 L724.8 845.4 L726.2 844.4 L727.8 843.8 L729.6 843.9 M729.6 843.9 L730.7 843.2 L732.0 842.5 L733.3 842.3 L734.7 842.2 M729.6 843.9 L730.9 844.4 L732.0 845.1 L733.0 846.1 L734.3 846.7 M724.5 856.5 L726.1 854.7 L727.2 852.6 L728.6 850.7 L730.4 849.1 M730.4 849.1 L730.6 847.5 L730.7 845.9 L731.2 844.4 L731.9 842.9 M731.9 842.9 L732.0 841.7 L732.4 840.6 L732.8 839.4 L733.4 838.3 M730.4 849.1 L732.2 848.5 L733.8 847.5 L735.7 847.0 L737.6 846.8 M737.6 846.8 L739.0 846.5 L740.3 845.8 L741.8 845.6 L743.2 845.0 M737.6 846.8 L738.7 847.7 L739.8 848.6 L741.0 849.4 L742.4 849.9 M725.7 885.0 L722.9 880.8 L720.8 876.1 L720.4 871.1 L719.4 866.1 M719.4 866.1 L718.4 862.9 L717.5 859.7 L717.2 856.4 L715.9 853.3 M715.9 853.3 L713.5 851.9 L710.9 851.4 L708.1 851.2 L705.4 851.2 M705.4 851.2 L703.6 851.9 L701.9 852.7 L700.1 853.2 L698.2 853.5 M698.2 853.5 L697.0 854.2 L695.8 854.9 L694.4 855.3 L693.2 855.9 M698.2 853.5 L696.6 853.4 L695.1 852.9 L693.8 851.9 L692.8 850.7 M715.9 853.3 L716.2 850.7 L715.9 848.1 L715.7 845.4 L715.3 842.8 M715.3 842.8 L714.1 841.4 L712.7 840.3 L711.7 838.8 L710.7 837.2 M710.7 837.2 L709.6 836.3 L708.4 835.4 L707.1 834.8 L705.7 834.3 M710.7 837.2 L710.2 836.1 L709.9 834.9 L709.5 833.7 L709.1 832.5 M715.3 842.8 L715.9 841.0 L716.4 839.3 L717.2 837.6 L718.6 836.4 M718.6 836.4 L718.7 835.0 L719.1 833.7 L719.2 832.3 L719.2 830.9 M718.6 836.4 L719.6 835.5 L720.7 834.6 L721.9 833.9 L723.1 833.3 M719.4 866.1 L719.8 862.3 L721.3 858.8 L722.2 855.0 L721.7 851.2 M721.7 851.2 L720.4 848.3 L719.4 845.4 L718.3 842.4 L716.8 839.6 M716.8 839.6 L715.0 837.8 L713.9 835.5 L713.3 833.0 L712.9 830.4 M712.9 830.4 L712.3 828.3 L711.3 826.5 L710.8 824.4 L710.7 822.2 M712.9 830.4 L714.0 828.6 L715.1 826.7 L716.0 824.8 L717.3 823.0 M716.8 839.6 L715.8 837.6 L714.5 835.8 L713.3 833.9 L712.6 831.8 M712.6 831.8 L711.3 830.5 L709.9 829.4 L708.7 828.1 L707.2 827.1 M712.6 831.8 L712.7 830.2 L712.6 828.7 L712.1 827.3 L711.7 825.8 M721.7 851.2 L723.5 848.7 L725.2 846.2 L727.1 843.9 L728.3 841.1 M728.3 841.1 L728.0 838.7 L728.4 836.3 L728.5 834.0 L728.6 831.6 M728.6 831.6 L727.5 830.4 L726.5 829.1 L725.4 827.9 L724.2 826.8 M728.6 831.6 L729.7 830.4 L730.4 828.9 L731.0 827.5 L731.5 825.9 M728.3 841.1 L730.0 839.8 L731.6 838.4 L732.6 836.5 L733.2 834.5 M733.2 834.5 L732.9 833.0 L732.5 831.5 L732.1 830.0 L731.3 828.7 M733.2 834.5 L733.7 832.8 L733.9 831.0 L734.0 829.2 L733.9 827.4 M743.0 907.4 L743.0 901.7 L743.9 896.1 L746.2 890.9 L750.2 886.8 M750.2 886.8 L751.5 882.5 L754.2 879.0 L756.9 875.4 L760.5 872.7 M760.5 872.7 L763.1 870.4 L765.8 868.1 L768.9 866.5 L772.4 865.7 M772.4 865.7 L773.8 863.4 L775.8 861.7 L778.2 860.6 L780.8 860.2 M780.8 860.2 L782.2 859.1 L783.4 857.9 L784.6 856.6 L785.7 855.3 M785.7 855.3 L786.4 854.0 L786.8 852.7 L786.9 851.3 L786.7 849.9 M785.7 855.3 L786.8 854.6 L787.5 853.5 L788.2 852.6 L788.7 851.4 M780.8 860.2 L782.6 859.8 L784.3 859.8 L786.1 860.1 L787.9 860.2 M787.9 860.2 L789.1 860.1 L790.3 860.0 L791.6 860.2 L792.8 860.2 M772.4 865.7 L774.7 866.2 L776.8 867.4 L779.2 867.9 L781.7 868.0 M781.7 868.0 L783.6 867.8 L785.4 867.1 L787.4 866.6 L789.3 866.7 M789.3 866.7 L790.8 867.0 L792.3 867.4 L793.7 867.7 L795.2 868.0 M789.3 866.7 L790.6 867.6 L792.0 868.3 L793.5 868.8 L794.7 869.8 M781.7 868.0 L783.6 868.6 L785.3 869.7 L787.2 870.4 L788.8 871.7 M788.8 871.7 L790.0 872.6 L791.2 873.5 L792.3 874.4 L793.6 875.3 M788.8 871.7 L789.4 872.9 L790.3 873.9 L790.9 875.0 L791.6 876.1 M760.5 872.7 L763.1 871.5 L766.1 871.1 L769.0 871.2 L771.9 870.7 M771.9 870.7 L773.7 869.4 L775.5 868.1 L777.4 867.0 L779.5 866.5 M779.5 866.5 L781.1 865.9 L782.7 865.2 L784.3 865.1 L786.0 865.4 M786.0 865.4 L787.4 865.4 L788.8 865.3 L790.2 865.6 L791.6 866.0 M786.0 865.4 L786.9 866.5 L787.3 867.8 L787.5 869.2 L788.1 870.4 M779.5 866.5 L781.0 866.7 L782.5 867.1 L784.0 867.0 L785.6 866.9 M785.6 866.9 L786.2 865.9 L786.8 864.9 L787.0 863.8 L787.5 862.7 M785.6 866.9 L786.4 867.5 L787.2 868.3 L787.9 869.1 L788.8 869.7 M771.9 870.7 L773.8 871.2 L775.8 871.6 L777.6 872.3 L779.5 872.9 M779.5 872.9 L780.9 872.6 L782.2 872.3 L783.4 871.6 L784.8 871.3 M784.8 871.3 L785.6 871.1 L786.5 871.1 L787.4 871.3 L788.3 871.2 M784.8 871.3 L785.7 871.8 L786.5 872.5 L787.4 873.1 L788.2 873.7 M750.2 886.8 L752.7 883.9 L754.6 880.6 L755.1 876.9 L755.5 873.1 M755.5 873.1 L755.3 870.6 L754.3 868.3 L754.0 865.8 L753.3 863.4 M753.3 863.4 L751.8 862.5 L750.0 862.1 L748.4 861.4 L746.8 860.4 M746.8 860.4 L745.4 860.2 L744.0 859.9 L742.5 859.9 L741.1 860.0 M741.1 860.0 L740.0 860.0 L738.9 860.1 L737.9 859.9 L736.8 859.6 M753.3 863.4 L753.6 861.4 L754.1 859.4 L754.6 857.4 L755.5 855.5 M755.5 855.5 L755.3 853.9 L755.5 852.2 L755.9 850.5 L756.3 848.9 M756.3 848.9 L756.2 847.8 L756.3 846.6 L756.1 845.5 L755.9 844.4 M756.3 848.9 L757.1 848.0 L758.0 847.1 L758.6 846.1 L759.0 844.9 M755.5 855.5 L756.5 854.2 L757.1 852.6 L758.1 851.2 L758.6 849.6 M758.6 849.6 L758.6 848.1 L758.3 846.7 L757.6 845.5 L756.9 844.3 M758.6 849.6 L759.2 848.5 L759.5 847.4 L760.3 846.4 L761.2 845.7 M755.5 873.1 L757.7 870.9 L759.3 868.2 L761.6 866.2 L763.4 863.6 M763.4 863.6 L764.2 861.7 L764.7 859.7 L765.7 857.9 L766.2 856.0 M766.2 856.0 L765.9 854.7 L765.4 853.4 L765.2 852.1 L765.2 850.7 M765.2 850.7 L764.9 849.8 L764.6 849.0 L764.0 848.2 L763.6 847.4 M766.2 856.0 L767.5 854.8 L768.7 853.5 L770.2 852.8 L771.6 851.8 M771.6 851.8 L772.5 850.7 L773.3 849.7 L774.4 848.7 L775.3 847.7 M771.6 851.8 L773.0 851.4 L774.4 851.6 L775.8 851.6 L777.2 852.2 M763.4 863.6 L765.4 863.0 L767.5 862.4 L769.5 861.7 L771.3 860.5 M771.3 860.5 L771.9 858.9 L772.1 857.2 L772.0 855.5 L771.7 853.8 M771.7 853.8 L771.0 852.8 L770.1 852.0 L768.9 851.6 L768.0 850.7 M771.7 853.8 L772.2 852.6 L772.8 851.4 L773.8 850.5 L775.0 849.8 M758.6 907.4 L757.8 900.9 L758.6 894.5 L757.1 888.1 L755.8 881.8 M755.8 881.8 L754.0 877.6 L752.9 873.2 L753.1 868.7 L753.3 864.1 M753.3 864.1 L752.1 861.4 L750.3 858.9 L748.1 856.8 L745.5 855.4 M745.5 855.4 L743.4 854.5 L741.2 854.1 L738.9 853.7 L736.7 854.2 M736.7 854.2 L735.7 855.5 L734.5 856.7 L733.2 858.0 L732.0 859.2 M732.0 859.2 L731.2 860.3 L730.0 861.1 L728.6 861.5 L727.2 861.8 M732.0 859.2 L731.2 860.3 L730.6 861.5 L729.6 862.5 L728.9 863.6 M736.7 854.2 L735.1 853.7 L733.5 852.9 L731.8 852.6 L730.2 852.0 M730.2 852.0 L728.9 852.2 L727.5 852.5 L726.3 853.2 L725.1 853.9 M730.2 852.0 L729.0 851.7 L727.9 851.4 L726.7 851.3 L725.5 851.5 M753.3 864.1 L754.5 860.9 L754.9 857.5 L754.3 854.1 L754.1 850.7 M754.1 850.7 L752.3 849.1 L750.2 848.1 L748.4 846.6 L746.6 845.1 M746.6 845.1 L744.8 844.7 L743.1 843.9 L741.3 843.8 L739.5 843.6 M739.5 843.6 L737.9 843.8 L736.5 844.4 L735.0 844.7 L733.7 845.5 M739.5 843.6 L738.1 843.0 L737.0 842.0 L736.2 840.7 L735.1 839.7 M746.6 845.1 L745.7 843.7 L744.3 842.8 L743.4 841.4 L742.2 840.3 M742.2 840.3 L741.0 839.7 L739.8 839.0 L738.7 838.2 L737.7 837.3 M742.2 840.3 L742.2 839.1 L741.8 837.9 L741.3 836.8 L741.0 835.7 M754.1 850.7 L755.3 848.2 L756.5 845.7 L757.9 843.3 L759.4 841.0 M759.4 841.0 L760.3 839.3 L761.3 837.7 L762.7 836.4 L763.9 834.9 M763.9 834.9 L764.1 833.6 L764.2 832.3 L764.6 831.1 L764.5 829.8 M763.9 834.9 L765.5 834.7 L767.1 834.6 L768.5 834.0 L770.0 833.4 M759.4 841.0 L761.3 840.4 L763.1 839.9 L765.1 839.7 L766.9 839.1 M766.9 839.1 L767.6 837.8 L768.2 836.5 L768.3 835.0 L768.1 833.6 M755.8 881.8 L755.9 877.0 L754.5 872.4 L753.3 867.8 L750.6 863.8 M750.6 863.8 L747.4 861.4 L743.8 859.5 L740.0 858.1 L736.1 857.2 M736.1 857.2 L732.9 857.8 L730.0 859.1 L727.6 861.3 L724.9 862.9 M724.9 862.9 L722.5 864.0 L720.1 865.1 L718.2 866.8 L715.9 868.1 M715.9 868.1 L714.1 868.8 L712.4 869.5 L711.0 870.6 L709.2 871.1 M715.9 868.1 L714.4 868.9 L712.8 869.6 L711.1 869.7 L709.5 870.3 M724.9 862.9 L722.4 863.4 L719.8 863.6 L717.4 864.6 L715.0 865.5 M715.0 865.5 L713.4 866.9 L711.7 868.1 L709.7 868.6 L707.7 868.7 M715.0 865.5 L713.0 865.1 L711.1 864.7 L709.1 864.8 L707.3 865.6 M736.1 857.2 L733.2 855.3 L730.6 853.1 L727.6 851.5 L724.5 850.0 M724.5 850.0 L721.7 850.2 L719.0 849.7 L716.4 848.7 L713.9 847.5 M713.9 847.5 L712.1 846.2 L710.0 845.3 L708.1 844.1 L706.5 842.6 M713.9 847.5 L712.1 846.4 L710.4 845.0 L708.4 844.1 L706.5 842.9 M724.5 850.0 L722.7 848.6 L721.2 846.9 L719.3 845.7 L717.7 844.1 M717.7 844.1 L716.3 843.0 L715.3 841.5 L714.4 840.0 L713.3 838.5 M750.6 863.8 L750.6 860.3 L751.2 856.9 L751.0 853.4 L751.2 849.9 M751.2 849.9 L750.8 847.3 L750.8 844.6 L750.6 842.0 L750.2 839.4 M750.2 839.4 L749.5 837.6 L748.3 836.2 L747.3 834.5 L746.0 833.2 M746.0 833.2 L744.6 833.2 L743.3 833.6 L742.0 834.2 L740.7 834.3 M750.2 839.4 L750.8 837.5 L751.8 835.8 L753.2 834.4 L754.2 832.7 M754.2 832.7 L754.0 831.2 L753.6 829.8 L752.8 828.6 L751.9 827.5 M775.3 907.4 L773.3 901.5 L773.6 895.4 L771.6 889.5 L770.9 883.4 M770.9 883.4 L769.0 879.2 L767.8 874.7 L766.8 870.2 L766.5 865.6 M766.5 865.6 L765.4 862.6 L764.1 859.6 L761.9 857.1 L759.2 855.4 M759.2 855.4 L757.3 853.6 L755.6 851.8 L753.5 850.4 L751.5 848.8 M751.5 848.8 L749.5 848.4 L747.5 848.2 L745.5 848.8 L743.7 849.7 M743.7 849.7 L742.6 850.9 L741.7 852.3 L741.0 853.8 L740.3 855.3 M751.5 848.8 L751.1 846.9 L751.2 845.0 L751.9 843.2 L752.5 841.4 M752.5 841.4 L752.1 840.2 L751.4 839.1 L750.9 837.9 L750.6 836.7 M752.5 841.4 L753.5 840.3 L754.7 839.5 L755.9 838.7 L757.3 838.3 M759.2 855.4 L758.2 852.9 L757.0 850.4 L755.5 848.2 L753.8 846.1 M753.8 846.1 L751.9 845.2 L750.1 844.1 L748.1 843.7 L746.0 843.3 M746.0 843.3 L744.5 844.2 L742.9 844.5 L741.2 844.2 L739.5 843.8 M746.0 843.3 L744.8 842.3 L743.5 841.4 L742.6 840.1 L742.0 838.7 M753.8 846.1 L752.8 844.4 L752.3 842.6 L752.5 840.7 L752.5 838.8 M752.5 838.8 L752.3 837.2 L752.8 835.6 L753.5 834.1 L754.0 832.6 M752.5 838.8 L752.5 837.5 L752.4 836.2 L752.2 834.9 L752.5 833.6 M766.5 865.6 L766.2 862.2 L764.8 859.1 L763.5 856.0 L761.7 853.2 M761.7 853.2 L759.5 851.9 L757.5 850.4 L755.8 848.5 L754.8 846.2 M754.8 846.2 L753.1 845.0 L751.2 844.4 L749.2 844.2 L747.2 844.5 M747.2 844.5 L745.6 844.9 L744.0 845.2 L742.4 845.4 L740.7 845.4 M747.2 844.5 L745.9 844.1 L744.6 843.6 L743.3 843.0 L742.0 842.6 M761.7 853.2 L761.0 850.4 L760.6 847.7 L759.2 845.2 L757.3 843.1 M757.3 843.1 L756.1 841.4 L754.9 839.6 L753.9 837.7 L753.0 835.8 M753.0 835.8 L751.5 835.5 L750.0 835.3 L748.4 835.2 L746.9 835.4 M753.0 835.8 L752.8 834.2 L753.0 832.5 L753.2 830.9 L753.8 829.4 M757.3 843.1 L756.7 841.3 L755.4 840.0 L754.4 838.4 L753.8 836.7 M753.8 836.7 L753.0 835.5 L752.2 834.3 L751.8 833.0 L751.0 831.8 M753.8 836.7 L753.8 835.2 L754.3 833.8 L755.2 832.7 L756.3 831.6 M770.9 883.4 L772.5 879.0 L774.2 874.6 L776.5 870.5 L779.8 867.2 M779.8 867.2 L779.6 863.9 L778.4 860.8 L776.4 858.3 L774.3 855.7 M774.3 855.7 L772.0 854.5 L770.1 852.6 L768.1 851.0 L766.0 849.4 M766.0 849.4 L764.0 849.1 L762.0 849.3 L760.1 849.8 L758.1 850.0 M758.1 850.0 L756.7 850.0 L755.3 849.9 L753.9 849.5 L752.8 848.6 M766.0 849.4 L764.9 847.6 L763.9 845.9 L762.5 844.3 L761.6 842.5 M761.6 842.5 L760.3 841.4 L758.9 840.5 L757.5 839.5 L756.0 838.9 M761.6 842.5 L761.2 840.9 L761.3 839.2 L761.7 837.5 L761.7 835.8 M774.3 855.7 L773.8 853.0 L773.1 850.3 L771.9 847.8 L771.8 845.0 M771.8 845.0 L770.4 843.2 L768.7 841.7 L767.0 840.2 L765.0 839.1 M765.0 839.1 L763.2 839.0 L761.5 839.3 L759.8 840.0 L758.1 840.5 M765.0 839.1 L764.1 837.9 L763.5 836.4 L762.5 835.2 L761.5 834.0 M771.8 845.0 L771.8 843.0 L771.5 841.1 L771.5 839.2 L771.3 837.2 M771.3 837.2 L771.1 835.7 L770.9 834.1 L770.9 832.6 L771.1 831.0 M771.3 837.2 L771.7 835.6 L772.1 834.0 L772.9 832.6 L774.1 831.5 M784.7 907.4 L785.8 901.2 L785.6 894.8 L784.3 888.6 L781.9 882.7 M781.9 882.7 L778.8 879.6 L776.6 875.8 L774.8 871.8 L772.5 868.0 M772.5 868.0 L769.8 865.8 L767.4 863.2 L765.3 860.4 L762.3 858.6 M762.3 858.6 L759.9 858.8 L757.6 858.1 L755.7 856.6 L754.2 854.7 M754.2 854.7 L753.0 853.2 L751.4 851.9 L750.4 850.2 L749.7 848.3 M749.7 848.3 L748.5 847.8 L747.5 847.0 L746.3 846.4 L745.0 846.0 M762.3 858.6 L760.9 856.2 L759.1 854.2 L756.8 852.7 L754.7 850.9 M754.7 850.9 L752.8 849.9 L751.0 848.7 L749.2 847.5 L747.3 846.4 M747.3 846.4 L745.7 845.7 L744.5 844.5 L743.5 843.1 L742.1 842.1 M747.3 846.4 L746.2 845.4 L744.9 844.8 L743.7 844.0 L742.4 843.3 M754.7 850.9 L753.5 849.5 L752.4 847.9 L752.0 846.0 L752.3 844.2 M752.3 844.2 L751.5 843.1 L750.9 842.1 L750.3 841.0 L749.9 839.8 M772.5 868.0 L773.2 864.5 L774.6 861.3 L776.7 858.4 L778.3 855.3 M778.3 855.3 L778.7 852.7 L779.0 850.0 L779.0 847.4 L779.6 844.8 M779.6 844.8 L779.3 842.6 L778.4 840.6 L777.4 838.6 L776.5 836.6 M776.5 836.6 L775.0 836.3 L773.6 835.6 L772.6 834.4 L771.5 833.4 M776.5 836.6 L776.7 835.0 L776.8 833.4 L777.5 831.9 L778.2 830.5 M779.6 844.8 L780.8 843.4 L782.1 842.2 L782.9 840.6 L783.8 839.1 M783.8 839.1 L784.1 837.8 L783.9 836.5 L783.6 835.2 L783.6 833.8 M783.8 839.1 L784.8 838.1 L785.3 836.9 L786.2 835.9 L786.8 834.7 M778.3 855.3 L780.2 853.4 L782.4 852.1 L784.9 851.4 L787.5 851.4 M787.5 851.4 L788.9 850.4 L790.2 849.2 L791.0 847.7 L791.4 846.0 M791.4 846.0 L791.4 844.7 L791.7 843.5 L791.5 842.3 L791.4 841.1 M787.5 851.4 L789.4 851.4 L791.2 850.8 L792.7 849.8 L794.2 848.6 M794.2 848.6 L794.5 847.3 L794.3 846.0 L794.5 844.7 L794.4 843.4 M794.2 848.6 L795.4 848.6 L796.6 848.9 L797.9 849.0" stroke="#fbf6ee" stroke-width="0.85" fill="none" opacity="0.9"/>
<path d="M626.3 888.0 L628.1 885.4 L630.1 882.8 L631.6 879.9 L633.1 877.1 M633.1 877.1 L634.3 875.3 L635.4 873.4 L636.5 871.5 L637.8 869.8 M637.8 869.8 L638.7 868.5 L639.8 867.3 L640.9 866.2 L642.1 865.1 M642.1 865.1 L642.6 864.0 L643.0 862.8 L643.5 861.7 L644.1 860.6 M642.1 865.1 L643.1 864.7 L644.1 864.5 L645.1 864.1 L645.9 863.4 M637.8 869.8 L639.1 869.2 L640.4 868.3 L641.2 867.1 L642.0 865.9 M642.0 865.9 L642.4 864.8 L642.4 863.6 L642.4 862.4 L642.8 861.3 M633.1 877.1 L635.3 875.9 L637.5 874.7 L639.4 873.2 L641.8 872.3 M641.8 872.3 L642.6 870.8 L643.6 869.3 L644.4 867.7 L645.3 866.2 M645.3 866.2 L645.6 865.0 L646.2 864.0 L647.0 863.1 L647.9 862.4 M645.3 866.2 L645.9 865.0 L646.7 864.0 L647.6 863.0 L648.1 861.8 M641.8 872.3 L643.4 872.3 L645.0 871.9 L646.7 872.0 L648.3 871.9 M648.3 871.9 L649.1 871.0 L649.5 869.9 L649.7 868.8 L649.9 867.6 M648.3 871.9 L649.4 872.7 L650.4 873.6 L651.2 874.6 L652.2 875.4 M626.3 888.0 L629.2 887.0 L631.8 885.6 L634.8 885.2 L637.8 884.5 M637.8 884.5 L639.7 882.9 L641.9 881.7 L643.8 880.2 L645.4 878.2 M645.4 878.2 L646.0 876.2 L646.2 874.1 L646.9 872.2 L647.2 870.1 M647.2 870.1 L645.8 869.0 L644.8 867.6 L644.1 866.0 L643.7 864.3 M647.2 870.1 L647.9 868.9 L648.8 867.7 L650.0 866.9 L651.4 866.5 M645.4 878.2 L646.7 876.9 L647.9 875.5 L649.5 874.5 L650.9 873.4 M650.9 873.4 L651.8 872.3 L652.9 871.6 L653.8 870.4 L654.7 869.4 M637.8 884.5 L640.3 884.6 L642.8 885.0 L645.3 885.5 L647.5 886.7 M647.5 886.7 L649.3 886.6 L651.1 887.1 L652.8 887.9 L654.5 888.7 M654.5 888.7 L655.7 888.6 L656.9 888.2 L658.0 887.8 L659.0 887.1 M654.5 888.7 L655.8 889.4 L657.2 889.9 L658.5 890.7 L659.9 891.4 M647.5 886.7 L649.1 887.7 L650.9 888.2 L652.6 889.3 L654.1 890.5 M654.1 890.5 L655.4 890.5 L656.8 890.9 L657.9 891.6 L659.2 892.1 M654.1 890.5 L654.7 891.8 L655.4 893.1 L655.8 894.5 L656.5 895.8 M629.2 864.2 L632.2 863.6 L635.1 864.1 L638.2 864.0 L641.1 864.6 M641.1 864.6 L643.0 863.6 L645.0 862.7 L647.2 862.3 L649.2 861.7 M649.2 861.7 L650.3 860.7 L651.5 859.9 L652.8 859.1 L653.9 858.1 M653.9 858.1 L654.7 857.2 L655.6 856.6 L656.7 856.1 L657.6 855.4 M653.9 858.1 L654.5 857.3 L655.1 856.6 L655.7 855.7 L655.9 854.8 M649.2 861.7 L651.0 861.8 L652.5 862.5 L654.1 863.1 L655.5 864.1 M655.5 864.1 L656.9 863.8 L658.4 863.6 L659.8 863.5 L661.2 863.9 M655.5 864.1 L656.6 865.0 L657.9 865.7 L659.1 866.5 L660.3 867.3 M629.2 864.2 L632.9 864.4 L636.6 863.8 L640.2 862.8 L643.8 861.8 M643.8 861.8 L645.4 859.3 L647.3 857.0 L649.7 855.3 L651.9 853.4 M651.9 853.4 L652.6 851.2 L652.8 848.9 L652.7 846.7 L652.8 844.4 M652.8 844.4 L652.1 843.0 L651.0 841.9 L650.4 840.5 L649.8 839.1 M652.8 844.4 L653.5 842.9 L654.3 841.4 L654.9 839.9 L655.0 838.2 M651.9 853.4 L653.8 852.9 L655.4 851.9 L657.2 851.1 L658.9 850.3 M658.9 850.3 L659.9 849.5 L661.0 849.0 L661.9 848.1 L662.6 847.0 M658.9 850.3 L660.3 851.0 L661.9 851.4 L663.6 851.4 L665.1 850.8 M643.8 861.8 L646.6 861.2 L649.1 859.8 L651.1 857.8 L652.9 855.6 M652.9 855.6 L652.8 853.2 L652.7 850.8 L652.7 848.4 L653.2 846.0 M653.2 846.0 L652.2 844.3 L651.3 842.5 L651.0 840.5 L650.4 838.5 M653.2 846.0 L654.2 844.5 L654.7 842.9 L655.9 841.5 L656.9 840.1 M652.9 855.6 L654.6 854.6 L656.5 853.7 L658.3 852.8 L660.1 851.8 M660.1 851.8 L660.5 850.5 L660.6 849.1 L660.6 847.8 L660.4 846.4 M660.1 851.8 L661.4 851.4 L662.7 850.7 L664.1 850.3 L665.3 849.6 M634.6 844.8 L637.7 844.6 L640.5 843.4 L643.4 842.3 L646.4 841.7 M646.4 841.7 L647.9 839.8 L649.1 837.7 L649.9 835.5 L650.1 833.1 M650.1 833.1 L648.9 831.6 L647.2 830.6 L645.9 829.2 L644.5 827.9 M644.5 827.9 L643.1 828.0 L641.8 827.9 L640.4 827.9 M644.5 827.9 L643.5 826.8 L642.3 825.9 M650.1 833.1 L651.1 831.4 L651.8 829.6 L652.3 827.7 L652.6 825.7 M652.6 825.7 L651.9 824.6 L651.2 823.5 L650.7 822.4 L649.9 821.3 M652.6 825.7 L653.3 824.2 L654.2 822.8 L655.4 821.7 L656.5 820.4 M646.4 841.7 L648.2 843.3 L650.0 844.7 L651.7 846.3 L653.3 848.0 M653.3 848.0 L655.0 848.7 L656.8 849.2 L658.6 849.8 L660.1 850.8 M660.1 850.8 L661.5 850.7 L662.9 851.2 L664.1 851.7 L665.5 852.1 M660.1 850.8 L660.6 852.1 L661.0 853.5 L661.8 854.7 L663.0 855.6 M653.3 848.0 L654.6 849.2 L656.1 850.3 L657.2 851.7 L657.9 853.3 M657.9 853.3 L658.9 854.4 L660.1 855.1 L661.4 855.7 L662.6 856.5 M657.9 853.3 L658.5 854.5 L659.1 855.6 L659.8 856.6 L660.8 857.3 M634.6 844.8 L637.3 845.8 L640.2 846.0 L643.0 846.6 L645.4 848.1 M645.4 848.1 L647.4 848.4 L649.2 849.2 L651.1 849.3 L653.0 849.9 M653.0 849.9 L654.4 849.5 L655.7 848.8 L657.1 848.4 L658.5 847.9 M658.5 847.9 L659.4 847.2 L660.3 846.3 L661.0 845.4 L661.6 844.3 M658.5 847.9 L659.6 847.6 L660.7 847.4 L661.7 846.9 L662.6 846.3 M653.0 849.9 L654.1 851.2 L655.2 852.5 L656.2 853.7 L657.3 855.0 M657.3 855.0 L658.1 856.0 L658.5 857.2 L658.5 858.5 L658.5 859.7 M657.3 855.0 L657.3 856.2 L657.4 857.4 L657.9 858.5 L658.2 859.6 M645.4 848.1 L646.7 849.6 L648.1 851.1 L648.9 852.9 L649.6 854.8 M649.6 854.8 L650.6 856.2 L652.0 857.2 L653.1 858.4 L653.9 859.9 M653.9 859.9 L655.2 860.3 L656.2 861.0 L657.1 862.0 L658.1 862.8 M653.9 859.9 L654.3 861.1 L654.3 862.4 L654.7 863.6 L655.3 864.8 M649.6 854.8 L649.4 856.4 L649.2 857.9 L649.3 859.5 L649.9 860.9 M649.9 860.9 L650.4 861.8 L651.1 862.6 L652.0 863.2 L652.8 863.8 M649.9 860.9 L649.8 862.1 L649.9 863.4 L650.1 864.6 L650.3 865.9 M642.5 828.8 L645.4 829.7 L648.3 830.9 L651.1 832.3 L653.8 833.8 M653.8 833.8 L656.3 833.7 L658.6 834.4 L661.0 835.3 L663.3 836.2 M663.3 836.2 L665.1 835.9 L666.8 835.4 L668.3 834.5 L669.5 833.1 M669.5 833.1 L670.3 831.9 L671.4 830.9 L672.7 830.3 L673.8 829.4 M669.5 833.1 L671.0 832.7 L672.2 831.8 L673.1 830.6 L673.5 829.1 M663.3 836.2 L664.6 837.5 L665.4 839.1 L666.6 840.4 L668.0 841.6 M668.0 841.6 L669.4 841.7 L670.7 841.2 L672.0 840.5 L673.2 839.8 M668.0 841.6 L668.2 843.1 L668.4 844.5 L668.5 846.0 L668.5 847.4 M642.5 828.8 L645.6 829.3 L648.7 829.6 L651.7 830.4 L654.6 831.6 M654.6 831.6 L656.7 830.7 L658.9 830.1 L661.2 830.1 L663.4 830.5 M663.4 830.5 L664.8 830.1 L666.2 829.5 L667.6 829.0 L669.0 828.8 M669.0 828.8 L669.9 828.2 L670.9 827.8 L672.0 827.6 L673.0 827.4 M654.6 831.6 L655.9 833.6 L657.6 835.2 L659.6 836.4 L661.9 836.9 M661.9 836.9 L663.3 836.0 L664.7 835.1 L665.8 833.9 L667.2 833.0 M667.2 833.0 L668.2 832.3 L669.3 831.8 L670.2 831.0 L670.8 830.0 M667.2 833.0 L668.3 833.2 L669.3 833.6 L670.2 834.1 L671.2 834.6 M661.9 836.9 L663.1 838.6 L664.2 840.2 L665.8 841.4 L667.4 842.6 M667.4 842.6 L668.8 842.6 L670.3 842.2 L671.8 842.1 L673.2 842.0 M667.4 842.6 L667.7 844.0 L668.4 845.2 L669.2 846.4 L670.2 847.3 M652.7 815.9 L655.8 815.9 L658.9 816.2 L661.9 815.5 L665.0 815.2 M665.0 815.2 L667.4 814.6 L669.4 813.3 L671.8 812.7 L674.2 812.8 M674.2 812.8 L675.3 811.4 L676.4 810.1 L677.9 809.1 L679.4 808.3 M679.4 808.3 L680.2 807.1 L681.0 806.0 L682.2 805.2 L683.3 804.3 M679.4 808.3 L680.7 807.9 L681.9 807.3 L682.7 806.2 L683.6 805.2 M674.2 812.8 L676.1 812.8 L677.9 812.3 L679.7 811.9 L681.5 811.3 M681.5 811.3 L682.7 811.0 L683.9 811.0 L685.2 811.1 L686.4 811.3 M681.5 811.3 L682.6 811.8 L683.8 812.1 L685.1 812.3 L686.2 812.7 M665.0 815.2 L667.3 815.6 L669.6 815.5 L671.9 815.1 L673.9 813.9 M673.9 813.9 L675.1 812.4 L676.1 810.8 L676.8 809.0 L678.1 807.6 M678.1 807.6 L678.9 806.5 L679.8 805.4 L681.0 804.8 L682.3 804.6 M678.1 807.6 L679.6 807.2 L680.9 806.3 L682.3 805.5 L683.8 804.9 M673.9 813.9 L675.5 813.4 L677.2 813.0 L678.6 812.1 L680.0 811.2 M680.0 811.2 L680.5 810.2 L680.7 809.1 L681.1 808.1 L681.8 807.3 M680.0 811.2 L681.1 810.6 L682.2 810.0 L683.2 809.3 L684.0 808.3 M652.7 815.9 L654.9 818.1 L657.0 820.4 L659.7 821.8 L662.6 822.8 M662.6 822.8 L665.0 823.5 L667.0 824.9 L668.7 826.7 L670.5 828.4 M670.5 828.4 L672.1 829.1 L673.5 830.1 L674.7 831.4 L675.8 832.8 M675.8 832.8 L677.0 833.4 L678.3 833.5 L679.7 833.6 L680.9 834.1 M675.8 832.8 L676.4 833.8 L677.3 834.7 L677.7 835.9 L677.9 837.1 M670.5 828.4 L671.1 830.2 L672.0 831.9 L673.2 833.4 L674.3 834.9 M674.3 834.9 L675.8 835.4 L677.3 835.8 L678.7 836.6 L680.0 837.4 M674.3 834.9 L674.7 836.1 L675.4 837.2 L676.0 838.3 L676.3 839.5 M662.6 822.8 L664.0 824.7 L665.0 826.9 L666.1 829.0 L667.3 831.1 M667.3 831.1 L668.6 832.5 L669.6 834.2 L670.6 835.8 L672.0 837.2 M672.0 837.2 L673.2 838.1 L674.6 838.8 L675.5 840.0 L676.6 841.1 M672.0 837.2 L672.2 838.6 L672.5 840.0 L672.8 841.4 L673.0 842.8 M667.3 831.1 L668.0 832.6 L668.3 834.2 L669.0 835.7 L670.0 837.0 M670.0 837.0 L671.0 837.8 L672.2 838.4 L673.1 839.3 L673.7 840.5 M665.4 806.2 L668.4 806.8 L671.4 807.4 L674.4 808.1 L677.5 808.0 M677.5 808.0 L679.9 807.6 L682.4 808.0 L684.9 808.3 L687.4 808.2 M687.4 808.2 L688.9 807.2 L690.2 805.9 L691.0 804.2 L691.9 802.6 M691.9 802.6 L691.5 801.4 L690.7 800.3 L689.7 799.6 L688.9 798.6 M687.4 808.2 L688.3 809.5 L689.4 810.8 L690.5 812.0 L691.6 813.2 M691.6 813.2 L692.8 813.5 L693.9 814.1 L694.9 814.9 L695.6 815.8 M691.6 813.2 L691.9 814.3 L692.2 815.4 L692.7 816.4 L693.0 817.5 M677.5 808.0 L679.5 809.5 L681.9 810.5 L684.2 811.7 L686.1 813.4 M686.1 813.4 L687.7 814.1 L689.5 814.7 L690.9 815.8 L692.0 817.2 M692.0 817.2 L693.0 818.3 L694.1 819.1 L694.9 820.3 L695.7 821.4 M692.0 817.2 L692.4 818.5 L692.6 819.7 L692.8 821.0 L692.8 822.3 M686.1 813.4 L687.6 814.6 L688.7 816.1 L690.1 817.5 L691.6 818.7 M691.6 818.7 L692.9 819.0 L694.3 819.0 L695.7 818.7 L697.1 818.7 M691.6 818.7 L692.4 819.7 L693.6 820.4 L694.5 821.4 L695.7 822.0 M665.4 806.2 L668.6 807.6 L672.0 808.3 L675.5 809.1 L678.9 809.6 M678.9 809.6 L681.6 808.4 L684.6 808.2 L687.2 806.9 L690.1 806.2 M690.1 806.2 L692.3 805.8 L694.2 804.8 L696.1 803.8 L698.2 803.2 M698.2 803.2 L699.8 802.3 L701.2 801.1 L702.4 799.7 L703.7 798.3 M698.2 803.2 L699.8 804.1 L701.6 804.5 L703.4 804.5 L705.1 804.4 M690.1 806.2 L692.3 807.0 L694.1 808.6 L695.7 810.3 L697.3 812.0 M697.3 812.0 L698.9 812.0 L700.4 812.5 L702.0 812.9 L703.6 813.4 M697.3 812.0 L698.3 813.5 L699.8 814.4 L701.2 815.5 L702.7 816.4 M678.9 809.6 L680.9 811.1 L682.6 812.8 L684.7 814.2 L686.7 815.5 M686.7 815.5 L688.5 815.3 L690.3 815.3 L692.1 815.8 L693.9 815.8 M693.9 815.8 L695.0 814.9 L696.3 814.1 L697.7 813.5 L699.2 813.2 M693.9 815.8 L694.9 816.8 L696.1 817.4 L697.0 818.5 L698.0 819.4 M686.7 815.5 L687.5 817.3 L688.4 819.0 L689.0 820.9 L689.2 822.8 M689.2 822.8 L689.6 824.2 L689.9 825.7 L690.7 827.0 L691.7 828.0 M689.2 822.8 L688.6 824.3 L687.6 825.6 L686.7 827.0 L686.2 828.6 M680.7 799.7 L683.3 801.9 L686.1 803.7 L689.4 804.6 L692.8 804.3 M692.8 804.3 L695.0 803.1 L696.9 801.4 L699.1 800.1 L701.6 799.7 M701.6 799.7 L703.0 798.7 L704.6 798.0 L706.0 796.9 L707.2 795.7 M707.2 795.7 L708.0 794.8 L708.6 793.8 L709.6 793.1 L710.4 792.3 M707.2 795.7 L708.3 794.9 L709.0 793.7 L709.8 792.5 M701.6 799.7 L703.4 799.8 L705.1 800.0 L706.9 800.2 L708.6 800.7 M708.6 800.7 L710.0 801.1 L711.2 801.8 L712.7 802.0 L714.2 801.9 M708.6 800.7 L709.4 801.5 L710.2 802.4 L711.0 803.3 L711.9 804.0 M692.8 804.3 L695.2 803.7 L697.6 803.7 L699.9 804.5 L702.2 805.5 M702.2 805.5 L704.0 805.5 L705.7 805.7 L707.4 806.3 L709.2 806.7 M709.2 806.7 L710.3 806.3 L711.4 805.9 L712.6 805.9 L713.7 805.9 M709.2 806.7 L710.2 807.3 L711.2 808.1 L712.0 809.1 L712.9 810.0 M702.2 805.5 L703.5 807.1 L705.1 808.3 L706.3 809.9 L707.8 811.2 M707.8 811.2 L709.5 811.0 L711.0 810.4 L712.5 809.8 L714.0 809.0 M680.7 799.7 L682.6 802.4 L683.5 805.6 L685.1 808.5 L687.6 810.7 M687.6 810.7 L689.7 811.3 L691.6 812.5 L692.9 814.3 L693.5 816.4 M693.5 816.4 L694.6 817.6 L695.4 819.0 L695.8 820.6 L696.1 822.2 M696.1 822.2 L696.6 823.4 L696.8 824.8 L697.2 826.1 L697.9 827.3 M699.8 796.4 L701.6 799.1 L703.3 801.9 L704.0 805.1 L705.1 808.2 M705.1 808.2 L707.1 809.6 L708.8 811.3 L710.9 812.5 L713.1 813.4 M713.1 813.4 L714.7 814.2 L716.0 815.2 L717.4 816.1 L719.0 816.6 M719.0 816.6 L720.3 817.0 L721.6 817.2 L722.9 817.2 L724.2 817.6 M719.0 816.6 L719.3 817.7 L719.5 818.8 L720.0 819.8 L720.7 820.7 M713.1 813.4 L713.9 815.3 L715.2 816.9 L716.8 818.0 L718.1 819.6 M718.1 819.6 L719.7 820.0 L721.3 820.8 L722.9 821.1 L724.6 821.5 M718.1 819.6 L718.3 821.2 L718.8 822.7 L719.0 824.2 L719.3 825.8 M705.1 808.2 L705.2 810.4 L705.9 812.4 L707.2 814.1 L708.9 815.4 M708.9 815.4 L710.3 816.0 L711.8 816.2 L713.3 816.1 L714.8 815.9 M714.8 815.9 L715.6 815.2 L716.6 814.8 L717.6 814.4 L718.5 813.8 M714.8 815.9 L715.9 816.2 L716.9 816.3 L717.9 816.7 L719.0 817.0 M708.9 815.4 L709.9 816.7 L710.7 818.2 L711.8 819.4 L712.6 820.9 M712.6 820.9 L713.8 821.3 L715.0 821.9 L716.1 822.6 L717.0 823.6 M699.8 796.4 L698.3 798.7 L697.5 801.4 L697.2 804.2 L696.6 807.0 M696.6 807.0 L696.8 809.0 L696.8 811.0 L697.2 813.0 L697.2 815.0 M697.2 815.0 L697.9 816.1 L698.9 816.9 L700.0 817.7 L701.2 818.3 M701.2 818.3 L702.3 818.5 L703.3 818.2 L704.4 818.0 L705.4 817.6 M701.2 818.3 L702.0 819.0 L702.6 819.9 L702.9 820.8 L703.3 821.8 M696.6 807.0 L694.9 808.4 L693.6 810.2 L692.0 811.8 L690.2 813.2 M690.2 813.2 L689.8 814.6 L689.2 816.0 L689.1 817.4 L689.1 818.9 M689.1 818.9 L689.4 819.9 L689.3 821.0 L689.1 822.0 L689.2 823.0 M689.1 818.9 L689.0 819.9 L689.0 820.8 L688.9 821.8 L689.1 822.7 M690.2 813.2 L688.8 814.0 L687.2 814.4 L685.6 814.4 L684.0 814.2 M684.0 814.2 L683.0 814.8 L682.3 815.6 L681.4 816.3 L680.4 816.7 M684.0 814.2 L683.0 813.6 L682.2 812.8 L681.1 812.2 L680.1 811.6 M729.2 796.4 L727.1 798.6 L725.5 801.2 L724.5 804.1 L724.1 807.1 M724.1 807.1 L725.3 809.3 L726.1 811.7 L727.2 813.9 L728.3 816.2 M728.3 816.2 L729.9 817.2 L731.7 817.6 L733.5 818.0 L735.3 818.0 M735.3 818.0 L736.5 817.4 L737.5 816.5 L738.5 815.7 L739.1 814.5 M728.3 816.2 L727.8 818.1 L727.8 820.1 L727.5 822.1 L726.8 823.9 M726.8 823.9 L726.5 825.3 L726.0 826.8 L725.3 828.1 L724.8 829.5 M726.8 823.9 L725.6 824.8 L724.2 825.3 L722.9 825.8 L721.5 826.3 M724.1 807.1 L723.6 809.5 L723.0 811.9 L721.6 814.0 L720.6 816.3 M720.6 816.3 L720.2 818.3 L720.3 820.3 L721.0 822.2 L721.9 824.0 M721.9 824.0 L723.3 825.0 L724.9 825.5 L726.5 825.9 L727.9 826.8 M721.9 824.0 L722.3 825.3 L722.7 826.6 L722.8 828.0 L723.2 829.4 M720.6 816.3 L719.2 817.4 L718.0 818.7 L716.5 819.4 L715.1 820.5 M715.1 820.5 L714.9 821.7 L714.8 822.9 L714.6 824.1 L714.2 825.1 M715.1 820.5 L714.1 821.1 L712.9 821.3 L711.8 821.1 L710.7 820.8 M729.2 796.4 L730.8 799.2 L732.1 802.2 L732.8 805.4 L732.8 808.7 M732.8 808.7 L734.3 810.2 L736.1 811.3 L737.8 812.7 L739.5 814.0 M739.5 814.0 L740.6 814.9 L741.6 815.9 L742.2 817.2 L742.9 818.4 M742.9 818.4 L743.9 819.0 L745.0 819.7 L745.8 820.5 L746.8 821.2 M742.9 818.4 L743.3 819.4 L743.9 820.3 L744.6 821.0 L745.4 821.7 M739.5 814.0 L740.8 815.1 L741.7 816.5 L742.1 818.2 L743.0 819.6 M743.0 819.6 L744.0 820.3 L744.8 821.1 L745.9 821.6 L747.0 822.1 M743.0 819.6 L742.7 820.8 L742.0 821.9 L741.0 822.7 L740.0 823.4 M732.8 808.7 L731.8 810.6 L730.6 812.5 L729.0 814.0 L727.5 815.7 M727.5 815.7 L727.2 817.4 L726.7 819.0 L726.6 820.7 L727.0 822.4 M727.0 822.4 L727.9 823.4 L729.0 824.3 L729.6 825.5 L729.9 826.8 M727.0 822.4 L726.8 823.8 L727.2 825.2 L727.6 826.6 L727.8 828.0 M727.5 815.7 L726.2 816.4 L724.6 816.5 L723.2 817.1 L722.0 818.1 M722.0 818.1 L721.7 819.2 L721.4 820.4 L720.9 821.4 L720.2 822.4 M748.3 799.7 L745.2 801.7 L742.4 804.2 L739.9 807.0 L736.6 808.7 M736.6 808.7 L735.7 811.0 L734.3 813.1 L733.2 815.3 L731.9 817.4 M731.9 817.4 L732.3 819.2 L733.1 820.9 L734.3 822.3 L735.6 823.7 M735.6 823.7 L736.9 823.6 L738.2 823.6 L739.4 823.3 L740.5 822.6 M735.6 823.7 L736.4 824.6 L737.0 825.8 L737.1 827.0 L736.9 828.2 M731.9 817.4 L730.0 817.6 L728.2 817.9 L726.5 818.6 L724.7 819.1 M724.7 819.1 L724.0 820.2 L723.2 821.2 L722.7 822.4 L721.9 823.4 M724.7 819.1 L723.7 818.5 L722.6 818.0 L721.6 817.2 L720.8 816.3 M748.3 799.7 L746.7 802.0 L745.6 804.6 L745.2 807.4 L745.4 810.2 M745.4 810.2 L746.0 812.1 L745.9 814.2 L745.6 816.2 L745.1 818.2 M745.1 818.2 L745.3 819.8 L745.5 821.3 L745.8 822.8 L746.4 824.2 M746.4 824.2 L747.1 825.0 L748.0 825.5 L748.8 826.3 L749.8 826.7 M746.4 824.2 L746.6 825.1 L746.9 826.1 L746.9 827.1 L747.2 828.0 M745.4 810.2 L743.9 811.3 L742.2 812.0 L740.6 812.9 L739.0 813.9 M739.0 813.9 L738.2 814.8 L737.6 815.9 L737.4 817.1 L737.6 818.3 M737.6 818.3 L737.7 819.2 L737.8 820.0 L738.2 820.7 L738.4 821.5 M737.6 818.3 L737.2 819.1 L736.5 819.7 L735.6 820.2 L734.8 820.6 M739.0 813.9 L737.5 814.4 L736.3 815.4 L734.8 815.9 L733.3 816.4 M733.3 816.4 L732.6 817.2 L731.6 817.7 L730.6 818.2 L729.6 818.6 M733.3 816.4 L732.2 816.9 L731.0 817.1 L729.7 817.3 L728.5 817.5 M763.6 806.2 L760.4 807.3 L757.0 807.5 L753.8 808.8 L751.0 810.8 M751.0 810.8 L749.1 812.0 L747.2 813.2 L745.1 814.3 L743.4 815.7 M743.4 815.7 L743.3 817.4 L743.5 819.0 L743.9 820.6 L744.4 822.1 M744.4 822.1 L745.4 823.1 L746.1 824.2 L746.6 825.5 L747.5 826.5 M744.4 822.1 L744.1 823.3 L743.7 824.4 L743.2 825.5 L742.7 826.6 M751.0 810.8 L748.5 811.8 L745.7 811.9 L743.0 811.5 L740.4 810.9 M740.4 810.9 L738.4 811.2 L736.5 811.5 L734.7 812.5 L733.5 814.0 M733.5 814.0 L732.8 815.2 L731.7 816.1 L730.8 817.1 L730.0 818.3 M740.4 810.9 L738.4 809.8 L736.8 808.2 L735.7 806.2 L735.2 803.9 M735.2 803.9 L734.7 802.3 L734.5 800.5 L734.6 798.7 L735.1 797.0 M763.6 806.2 L760.5 806.3 L757.5 805.5 L754.7 804.0 L752.2 802.2 M752.2 802.2 L750.1 801.2 L748.0 800.5 L745.8 799.9 L743.8 798.8 M743.8 798.8 L742.0 798.7 L740.4 798.3 L738.6 798.3 L737.0 797.8 M737.0 797.8 L735.8 798.1 L734.9 798.7 L734.0 799.5 L733.4 800.5 M737.0 797.8 L735.9 797.4 L734.8 796.9 L733.7 796.5 L732.7 796.0 M743.8 798.8 L742.1 797.9 L740.2 797.7 L738.3 797.3 L736.3 797.6 M736.3 797.6 L735.2 798.2 L734.1 799.0 L733.1 799.9 L732.0 800.6 M736.3 797.6 L735.1 796.8 L733.7 796.4 L732.3 795.9 L731.1 795.0 M752.2 802.2 L751.1 800.4 L749.8 798.7 L748.2 797.3 L747.2 795.5 M747.2 795.5 M776.3 815.9 L773.2 817.6 L769.7 818.1 L766.2 817.7 L763.0 816.4 M763.0 816.4 L760.6 816.7 L758.4 817.7 L756.1 818.2 L753.8 818.7 M753.8 818.7 L752.1 819.6 L750.8 821.0 L750.0 822.8 L749.3 824.5 M749.3 824.5 L749.9 825.7 L750.8 826.8 L752.0 827.5 L753.0 828.5 M749.3 824.5 L748.1 825.6 L746.8 826.4 L745.3 826.8 L743.8 826.6 M753.8 818.7 L752.2 818.0 L750.7 817.3 L749.1 816.8 L747.6 815.9 M747.6 815.9 L746.3 816.1 L745.0 816.6 L743.7 817.1 L742.4 817.4 M747.6 815.9 L746.7 815.3 L745.6 815.0 L744.5 814.6 L743.4 814.2 M763.0 816.4 L761.1 814.9 L758.9 813.9 L757.1 812.4 L755.1 811.3 M755.1 811.3 L753.5 810.7 L751.8 810.7 L750.1 811.1 L748.6 811.7 M748.6 811.7 L747.3 812.4 L746.0 812.9 L745.0 813.9 L743.9 814.7 M748.6 811.7 L747.4 811.6 L746.3 811.7 L745.2 811.8 L744.1 812.0 M755.1 811.3 L754.4 809.5 L753.5 808.0 L752.3 806.5 L751.8 804.7 M751.8 804.7 L750.7 804.0 L749.9 802.9 L749.3 801.8 L748.7 800.6 M751.8 804.7 L752.2 803.2 L752.2 801.7 L752.7 800.2 L753.4 798.9 M776.3 815.9 L773.3 817.5 L770.1 818.6 L767.1 820.2 L764.5 822.4 M764.5 822.4 L763.7 825.1 L761.9 827.3 L759.5 828.7 L756.8 829.3 M756.8 829.3 L755.7 830.8 L754.7 832.3 L754.1 834.1 L753.2 835.7 M753.2 835.7 L753.3 836.9 L753.0 838.1 L752.3 839.1 L751.7 840.1 M756.8 829.3 L754.4 828.9 L752.3 827.8 L750.2 826.8 L747.9 826.0 M747.9 826.0 L746.2 826.1 L744.5 826.6 L742.8 826.6 L741.0 826.5 M747.9 826.0 L746.4 825.2 L745.2 824.1 L743.7 823.4 L742.5 822.1 M764.5 822.4 L762.2 823.6 L759.9 824.6 L757.4 825.3 L754.9 825.6 M754.9 825.6 L753.1 826.7 L751.3 827.9 L749.6 829.1 L748.2 830.7 M748.2 830.7 L747.2 831.8 L746.3 833.1 L745.6 834.5 L744.8 835.8 M748.2 830.7 L746.8 831.4 L745.3 831.7 L743.9 832.3 L742.4 832.7 M754.9 825.6 L753.4 824.3 L751.7 823.5 L749.8 823.0 L748.1 822.2 M748.1 822.2 L746.7 822.5 L745.4 823.0 L744.2 823.8 L743.0 824.5 M748.1 822.2 L747.0 821.1 L745.6 820.3 L744.6 819.1 L743.3 818.2 M786.5 828.8 L785.2 831.7 L783.4 834.4 L781.0 836.5 L778.7 838.8 M778.7 838.8 L777.0 840.5 L775.6 842.5 L774.1 844.5 L773.4 846.8 M773.4 846.8 L773.3 848.6 L773.2 850.5 L773.5 852.3 L774.1 853.9 M774.1 853.9 L775.4 854.8 L776.8 855.3 L778.3 855.7 L779.9 855.6 M774.1 853.9 L773.7 855.2 L773.2 856.5 L772.5 857.6 L772.0 858.9 M778.7 838.8 L776.7 840.2 L774.2 840.8 L771.7 840.5 L769.5 839.3 M769.5 839.3 L767.7 840.3 L765.7 840.8 L763.6 840.7 L761.7 841.2 M761.7 841.2 L761.1 842.5 L760.7 843.8 L760.5 845.2 L760.5 846.6 M761.7 841.2 L760.0 841.2 L758.4 841.0 L756.7 841.3 L755.2 841.9 M786.5 828.8 L785.1 831.2 L783.8 833.6 L783.4 836.4 L782.1 838.8 M782.1 838.8 L782.4 840.6 L783.2 842.2 L783.5 844.0 L783.2 845.8 M783.2 845.8 L783.3 847.3 L783.5 848.9 L783.6 850.4 L783.8 851.9 M783.8 851.9 L783.7 853.1 L784.1 854.2 L784.7 855.3 L785.3 856.3 M783.2 845.8 L783.0 847.3 L783.2 848.7 L783.3 850.2 L783.5 851.7 M783.5 851.7 L784.1 852.5 L784.7 853.3 L785.5 853.9 L786.4 854.3 M782.1 838.8 L780.7 840.5 L779.1 842.0 L778.0 843.9 L777.3 846.0 M777.3 846.0 L776.6 847.6 L775.9 849.3 L775.8 851.1 L775.8 852.9 M775.8 852.9 L776.6 854.0 L777.7 854.8 L779.0 855.1 L780.3 855.2 M775.8 852.9 L775.1 854.0 L774.4 855.0 L774.0 856.2 L773.2 857.2 M777.3 846.0 L776.1 846.9 L775.2 848.3 L774.5 849.7 L773.3 850.8 M773.3 850.8 L772.4 851.7 L771.8 852.9 L770.9 853.9 L770.2 855.1 M794.4 844.8 L791.8 843.0 L789.5 840.9 L787.0 838.9 L785.0 836.5 M785.0 836.5 L782.7 835.3 L780.1 834.6 L777.9 833.2 L776.0 831.4 M776.0 831.4 L774.5 830.4 L772.8 829.9 L771.3 828.8 L770.3 827.4 M770.3 827.4 L769.1 826.8 L768.1 825.9 L766.9 825.4 L765.5 825.4 M770.3 827.4 L769.5 826.5 L769.1 825.4 L768.7 824.3 L768.0 823.3 M776.0 831.4 L774.9 829.4 L773.3 827.9 L771.2 827.1 L769.3 825.9 M769.3 825.9 L767.5 826.0 L765.7 826.5 L763.9 827.1 L762.0 827.2 M769.3 825.9 L768.0 824.9 L766.8 823.8 L765.8 822.5 L764.9 821.1 M794.4 844.8 L790.9 844.1 L787.2 843.9 L783.6 844.0 L780.1 843.5 M780.1 843.5 L777.2 843.9 L774.4 844.4 L771.6 844.9 L768.7 844.8 M768.7 844.8 L766.4 844.4 L764.1 844.3 L761.7 844.3 L759.5 845.1 M759.5 845.1 L758.5 846.5 L757.1 847.6 L756.2 849.0 L754.9 850.1 M759.5 845.1 L758.0 845.6 L756.6 846.3 L755.2 847.0 L753.7 847.2 M780.1 843.5 L777.7 842.6 L775.4 841.6 L773.5 839.9 L772.0 837.9 M772.0 837.9 L770.6 836.5 L769.7 834.8 L769.4 832.8 L768.5 831.0 M768.5 831.0 L767.4 830.0 L766.2 829.2 L765.0 828.6 L763.6 828.2 M772.0 837.9 L771.0 836.5 L770.5 834.9 L770.4 833.2 L770.3 831.5 M770.3 831.5 L769.7 830.5 L769.4 829.4 L769.4 828.3 L769.2 827.2 M799.8 864.2 L796.8 862.4 L793.6 861.0 L790.1 860.5 L786.6 860.2 M786.6 860.2 L783.9 861.3 L781.8 863.2 L779.7 865.3 L777.0 866.4 M777.0 866.4 L775.5 868.0 L773.8 869.5 L772.1 870.9 L770.5 872.5 M770.5 872.5 L769.3 873.7 L768.2 875.1 L767.6 876.7 L767.6 878.4 M777.0 866.4 L775.0 865.5 L772.8 865.0 L770.5 864.6 L768.6 863.5 M768.6 863.5 L767.1 863.0 L765.5 863.2 L764.0 863.8 L762.5 864.3 M799.8 864.2 L797.9 862.0 L795.7 860.0 L793.3 858.4 L791.3 856.2 M791.3 856.2 L789.4 856.5 L787.6 857.3 L785.7 857.4 L783.8 857.9 M783.8 857.9 L782.7 858.6 L781.6 859.2 L780.4 859.6 L779.1 859.7 M779.1 859.7 L778.2 860.3 L777.2 860.6 L776.2 860.9 L775.3 861.4 M779.1 859.7 L778.1 859.5 L777.1 859.3 L776.0 859.1 L775.0 858.8 M783.8 857.9 L782.4 857.6 L781.1 857.3 L779.9 856.7 L778.5 856.5 M778.5 856.5 L777.6 857.0 L776.6 857.2 L775.6 857.3 L774.6 857.3 M791.3 856.2 L789.9 854.2 L788.9 851.9 L788.2 849.6 L788.0 847.1 M788.0 847.1 L787.1 845.4 L786.9 843.5 L786.2 841.7 L784.9 840.3 M784.9 840.3 L783.9 839.5 L782.9 838.7 L781.9 837.9 L780.7 837.5 M784.9 840.3 L784.3 838.8 L783.4 837.6 L782.8 836.1 L782.1 834.7 M788.0 847.1 L788.2 845.5 L788.6 844.0 L789.6 842.7 L790.9 841.7 M790.9 841.7 L791.6 840.9 L792.6 840.5 L793.3 839.7 L794.1 838.9 M802.7 888.0 L799.3 887.8 L795.8 887.9 L792.6 889.3 L789.2 889.9 M789.2 889.9 L786.9 891.0 L784.4 891.8 L781.9 892.7 L779.2 892.8 M779.2 892.8 L777.5 893.9 L776.2 895.4 L774.6 896.7 L773.2 898.1 M773.2 898.1 L772.9 899.8 L773.1 901.4 L773.5 903.0 L774.4 904.4 M802.7 888.0 L800.5 885.9 L799.2 883.1 L797.7 880.4 L796.3 877.8 M796.3 877.8 L794.5 876.7 L792.6 876.2 L790.7 875.7 L788.7 875.2 M788.7 875.2 L787.2 875.3 L785.6 875.4 L784.1 875.8 L782.7 876.6 M782.7 876.6 L782.4 877.6 L781.7 878.3 L781.2 879.2 L780.3 879.8 M782.7 876.6 L781.6 876.7 L780.4 876.7 L779.3 876.4 L778.1 876.2 M788.7 875.2 L787.7 874.1 L786.4 873.3 L784.9 873.0 L783.5 872.3 M783.5 872.3 L782.5 872.4 L781.4 872.6 L780.4 872.8 L779.4 872.9 M783.5 872.3 L783.0 871.1 L782.2 870.1 L781.8 868.9 L781.5 867.6" stroke="#f0e0a4" stroke-width="0.95" fill="none" stroke-linecap="round" opacity="0.85"/>
<ellipse cx="683" cy="795" rx="4" ry="2" fill="#f6e8b0"/><ellipse cx="733" cy="795" rx="4" ry="2" fill="#f6e8b0"/><ellipse cx="648" cy="823" rx="4" ry="2" fill="#f6e8b0"/><ellipse cx="779" cy="822" rx="4" ry="2" fill="#f6e8b0"/><ellipse cx="631" cy="862" rx="4" ry="2" fill="#f6e8b0"/>
<rect x="659.4" y="820.6" width="21.0" height="10.0" rx="5.0" transform="rotate(25.0 669.9 825.6)" fill="url(#cpill)" stroke="none" stroke-width="0" /><rect x="742.0" y="812.0" width="21.0" height="10.0" rx="5.0" transform="rotate(-75.0 752.5 817.0)" fill="url(#cpill)" stroke="none" stroke-width="0" /><rect x="677.4" y="839.1" width="21.0" height="10.0" rx="5.0" transform="rotate(-55.0 687.9 844.1)" fill="url(#cpill)" stroke="none" stroke-width="0" /><rect x="719.3" y="830.5" width="21.0" height="10.0" rx="5.0" transform="rotate(45.0 729.8 835.5)" fill="url(#cpill)" stroke="none" stroke-width="0" /><rect x="706.2" y="851.9" width="21.0" height="10.0" rx="5.0" transform="rotate(45.0 716.7 856.9)" fill="url(#cpill)" stroke="none" stroke-width="0" /><rect x="756.8" y="852.6" width="21.0" height="10.0" rx="5.0" transform="rotate(10.0 767.3 857.6)" fill="url(#cpill)" stroke="none" stroke-width="0" /><rect x="732.6" y="865.7" width="21.0" height="10.0" rx="5.0" transform="rotate(-85.0 743.1 870.7)" fill="url(#cpill)" stroke="none" stroke-width="0" /><rect x="652.0" y="871.1" width="21.0" height="10.0" rx="5.0" transform="rotate(-40.0 662.5 876.1)" fill="url(#cpill)" stroke="none" stroke-width="0" /><rect x="682.8" y="879.8" width="21.0" height="10.0" rx="5.0" transform="rotate(15.0 693.3 884.8)" fill="url(#cpill)" stroke="none" stroke-width="0" /><rect x="715.4" y="892.1" width="21.0" height="10.0" rx="5.0" transform="rotate(40.0 725.9 897.1)" fill="url(#cpill)" stroke="none" stroke-width="0" /><rect x="757.3" y="885.4" width="21.0" height="10.0" rx="5.0" transform="rotate(-45.0 767.8 890.4)" fill="url(#cpill)" stroke="none" stroke-width="0" /><rect x="652.0" y="894.5" width="21.0" height="10.0" rx="5.0" transform="rotate(10.0 662.5 899.5)" fill="url(#cpill)" stroke="none" stroke-width="0" />
<defs><clipPath id="c4clip"><rect x="883" y="805" width="211" height="162" rx="3"/></clipPath><linearGradient id="orng" x1="0" y1="0" x2="0" y2="1"><stop offset="0" stop-color="#ee8a5c"/><stop offset="0.25" stop-color="#ef9a72"/><stop offset="0.6" stop-color="#f0b898"/><stop offset="1" stop-color="#f2eadc"/></linearGradient><linearGradient id="tistop" x1="0" y1="0" x2="0" y2="1"><stop offset="0" stop-color="#f6f3ec"/><stop offset="0.5" stop-color="#f4e0d4"/><stop offset="1" stop-color="#eeb8a4"/></linearGradient><radialGradient id="tcell" cx="0.5" cy="0.55" r="0.6"><stop offset="0" stop-color="#f6eef0"/><stop offset="0.55" stop-color="#f4d8e0"/><stop offset="1" stop-color="#efbccb"/></radialGradient></defs>
<g clip-path="url(#c4clip)">
<rect x="883" y="805" width="211" height="90" fill="url(#tistop)"/>
<path d="M883 889 C930 886 990 893 1040 889 C1062 887 1080 889 1094 888 L1094 967 L883 967 Z" fill="url(#orng)"/>
<path d="M895.0,826.8 L894.4,827.2 L894.0,827.7 L893.6,828.2 L893.3,828.9 L893.1,829.5 L893.1,830.2 L893.2,830.9 L893.5,831.5 L898.9,842.4 L899.3,842.9 L899.8,843.3 L900.3,843.7 L901.0,843.9 L901.6,844.0 L902.3,844.0 L913.5,842.5 L914.1,842.3 L914.7,842.0 L915.2,841.5 L915.6,841.0 L915.9,840.4 L918.5,831.8 L918.6,831.1 L918.6,830.4 L918.5,829.8 L918.2,829.2 L917.9,828.6 L917.4,828.1 L916.8,827.7 L916.2,827.3 L915.6,827.0 L915.0,826.6 L914.3,826.3 L913.7,826.1 L913.0,825.8 L912.3,825.6 L911.5,825.3 L910.8,825.1 L910.0,825.0 L909.2,824.8 L908.5,824.7 L907.7,824.6 L906.9,824.6 L906.1,824.5 L905.3,824.5 L904.4,824.5 L903.6,824.5 L902.8,824.6 L902.1,824.7 L901.3,824.8 L900.5,825.0 L899.7,825.1 L899.0,825.3 L898.3,825.5 L897.5,825.7 L896.9,826.0 L896.2,826.3 L895.5,826.6 L895.0,826.8Z" fill="url(#tcell)" stroke="#b0506c" stroke-width="1.2"/><path d="M904.2 838.0 q6 4 12 -2 M905.2 828.0 q5 -3 10 1" stroke="#f4a8c8" stroke-width="2.2" fill="none" opacity="0.85"/><circle cx="910.2" cy="833.0" r="3.8" fill="#cdbfc6"/><path d="M919.0,841.2 L918.9,841.9 L918.9,842.9 L919.0,843.7 L919.0,843.9 L919.1,844.7 L919.4,845.4 L925.6,855.9 L926.0,856.3 L926.5,856.8 L927.1,857.1 L927.7,857.2 L928.4,857.3 L936.6,856.6 L937.3,856.5 L937.9,856.2 L938.5,855.8 L938.9,855.4 L939.4,854.8 L939.9,854.3 L940.3,853.7 L940.7,853.1 L941.1,852.4 L941.5,851.7 L941.8,851.0 L942.1,850.3 L942.4,849.5 L942.7,848.8 L942.9,848.0 L943.1,847.2 L943.3,846.4 L943.4,845.5 L943.5,844.7 L943.6,843.9 L943.7,843.0 L943.7,842.2 L943.7,841.3 L943.6,840.5 L943.6,839.6 L943.5,838.8 L943.3,838.0 L943.2,837.2 L943.0,836.4 L942.7,835.6 L942.5,834.8 L942.2,834.0 L941.9,833.3 L941.5,832.6 L941.2,831.9 L940.8,831.3 L940.4,830.6 L940.0,830.1 L939.5,829.5 L939.1,829.0 L938.6,828.4 L938.1,828.0 L937.6,827.5 L937.1,827.2 L936.5,826.8 L936.0,826.5 L935.4,826.2 L934.9,825.9 L934.3,825.7 L933.7,825.5 L933.2,825.4 L932.6,825.3 L932.0,825.2 L931.4,825.2 L930.8,825.2 L930.2,825.3 L929.7,825.4 L929.1,825.5 L928.5,825.6 L927.9,825.8 L927.4,826.1 L926.8,826.4 L926.2,826.7 L925.7,827.0 L925.2,827.4 L924.7,827.9 L924.1,828.3 L923.7,828.8 L923.2,829.4 L922.7,829.9 L922.5,830.3 L922.1,830.9 L919.0,841.2Z" fill="url(#tcell)" stroke="#b0506c" stroke-width="1.2"/><path d="M933.1 846.3 q6 4 12 -2 M934.1 836.3 q5 -3 10 1" stroke="#f4a8c8" stroke-width="2.2" fill="none" opacity="0.85"/><circle cx="939.1" cy="841.3" r="3.8" fill="#cdbfc6"/><path d="M948.7,830.6 L948.2,831.1 L947.7,831.6 L947.4,832.2 L947.2,832.9 L947.2,833.6 L947.6,846.0 L947.8,846.7 L948.1,847.3 L948.5,847.9 L949.0,848.3 L949.6,848.7 L950.3,848.9 L969.0,851.5 L969.7,851.5 L970.4,851.4 L971.0,851.2 L971.6,850.9 L972.1,850.4 L972.5,849.9 L972.8,849.3 L973.0,848.6 L975.2,834.9 L975.1,834.2 L975.0,833.6 L974.7,832.9 L974.3,832.4 L973.9,832.0 L973.3,831.4 L972.6,831.0 L972.0,830.5 L971.3,830.1 L970.6,829.7 L969.8,829.3 L969.0,828.9 L968.2,828.6 L967.4,828.3 L966.6,828.1 L965.8,827.8 L964.9,827.6 L964.0,827.5 L963.1,827.4 L962.3,827.3 L961.4,827.2 L960.5,827.2 L959.6,827.2 L958.7,827.3 L957.8,827.4 L956.9,827.5 L956.0,827.6 L955.2,827.8 L954.3,828.0 L953.5,828.3 L952.7,828.6 L951.9,828.9 L951.1,829.2 L950.4,829.6 L949.7,830.0 L949.0,830.4 L948.7,830.6Z" fill="url(#tcell)" stroke="#b0506c" stroke-width="1.2"/><path d="M959.1 845.6 q6 4 12 -2 M960.1 835.6 q5 -3 10 1" stroke="#f4a8c8" stroke-width="2.2" fill="none" opacity="0.85"/><circle cx="965.1" cy="840.6" r="3.8" fill="#cdbfc6"/><path d="M976.6,846.1 L976.6,846.9 L976.6,847.4 L976.7,848.0 L976.9,848.5 L977.0,849.0 L977.2,849.5 L977.5,850.0 L977.7,850.4 L978.0,850.9 L978.2,851.3 L978.7,851.8 L979.3,852.2 L979.9,852.5 L994.2,856.0 L994.9,856.1 L995.5,856.1 L996.2,855.9 L996.5,855.8 L997.1,855.5 L997.7,855.2 L998.3,854.9 L998.9,854.6 L999.4,854.3 L999.9,853.9 L1000.4,853.5 L1000.9,853.1 L1001.3,852.7 L1001.7,852.3 L1002.1,851.9 L1002.5,851.4 L1002.7,851.0 L1003.0,850.4 L1003.1,849.8 L1003.1,849.1 L1002.6,841.5 L1002.4,840.8 L1002.1,840.3 L1001.8,839.7 L1001.6,839.6 L1001.2,839.2 L1000.8,838.7 L1000.3,838.4 L999.8,838.0 L999.3,837.6 L998.7,837.3 L998.2,837.0 L997.6,836.7 L997.0,836.4 L996.4,836.2 L995.8,835.9 L995.1,835.7 L994.4,835.6 L993.8,835.4 L993.1,835.3 L992.4,835.2 L991.7,835.2 L991.0,835.1 L990.3,835.1 L989.6,835.1 L988.9,835.2 L988.2,835.2 L987.6,835.3 L986.9,835.5 L986.2,835.6 L985.6,835.8 L984.9,836.0 L984.3,836.2 L983.7,836.5 L983.1,836.8 L982.5,837.1 L981.9,837.4 L981.4,837.7 L980.9,838.1 L980.4,838.5 L979.9,838.9 L979.5,839.3 L979.1,839.7 L978.7,840.1 L978.3,840.6 L978.0,841.1 L977.7,841.6 L977.5,842.0 L977.3,842.5 L977.1,843.1Z" fill="url(#tcell)" stroke="#b0506c" stroke-width="1.2"/><path d="M988.5 850.1 q6 4 12 -2 M989.5 840.1 q5 -3 10 1" stroke="#f4a8c8" stroke-width="2.2" fill="none" opacity="0.85"/><circle cx="994.5" cy="845.1" r="3.8" fill="#cdbfc6"/><path d="M1006.9,835.9 L1006.4,836.4 L1006.0,836.9 L1005.8,837.5 L1005.6,838.2 L1005.6,838.9 L1006.3,848.3 L1006.5,849.0 L1006.8,849.6 L1007.2,850.1 L1007.6,850.5 L1008.2,850.9 L1008.8,851.1 L1023.1,855.1 L1023.8,855.1 L1024.5,855.0 L1025.4,854.7 L1026.1,854.5 L1026.3,854.3 L1027.0,854.0 L1027.5,853.5 L1031.4,848.4 L1031.8,847.8 L1032.0,847.1 L1032.1,846.4 L1031.6,838.6 L1031.5,837.9 L1031.2,837.2 L1030.8,836.6 L1030.3,836.1 L1029.8,835.7 L1029.3,835.3 L1028.7,834.9 L1028.1,834.5 L1027.4,834.2 L1026.8,833.8 L1026.1,833.5 L1025.4,833.3 L1024.6,833.0 L1023.9,832.8 L1023.1,832.6 L1022.4,832.5 L1021.6,832.3 L1020.8,832.2 L1020.0,832.2 L1019.2,832.1 L1018.4,832.1 L1017.6,832.1 L1016.8,832.2 L1016.0,832.2 L1015.3,832.4 L1014.5,832.5 L1013.7,832.7 L1013.0,832.9 L1012.2,833.1 L1011.5,833.3 L1010.8,833.6 L1010.1,833.9 L1009.4,834.2 L1008.8,834.6 L1008.2,835.0 L1007.6,835.4 L1007.0,835.8Z" fill="url(#tcell)" stroke="#b0506c" stroke-width="1.2"/><path d="M1008.7 848.2 q6 4 12 -2 M1009.7 838.2 q5 -3 10 1" stroke="#f4a8c8" stroke-width="2.2" fill="none" opacity="0.85"/><circle cx="1014.7" cy="843.2" r="3.8" fill="#cdbfc6"/><path d="M1035.7,834.7 L1035.3,835.2 L1035.0,835.8 L1034.8,836.4 L1034.7,837.1 L1035.2,844.4 L1035.3,845.0 L1035.5,845.7 L1035.9,846.3 L1036.4,846.8 L1036.9,847.2 L1037.5,847.4 L1052.9,852.8 L1053.6,852.9 L1054.3,852.9 L1054.9,852.7 L1055.6,852.4 L1056.1,851.9 L1056.6,851.4 L1061.4,844.5 L1061.7,843.9 L1061.8,843.2 L1061.8,842.5 L1060.6,835.2 L1060.5,834.6 L1060.1,833.9 L1059.7,833.4 L1059.2,832.9 L1058.7,832.6 L1058.0,832.2 L1057.4,831.8 L1056.7,831.5 L1056.1,831.2 L1055.3,830.9 L1054.6,830.7 L1053.9,830.4 L1053.1,830.2 L1052.4,830.1 L1051.6,829.9 L1050.8,829.8 L1050.0,829.8 L1049.2,829.7 L1048.4,829.7 L1047.6,829.7 L1046.8,829.8 L1046.1,829.9 L1045.3,830.0 L1044.5,830.1 L1043.7,830.3 L1043.0,830.5 L1042.2,830.7 L1041.5,831.0 L1040.8,831.3 L1040.1,831.6 L1039.5,831.9 L1038.8,832.3 L1038.2,832.7 L1037.6,833.1 L1037.1,833.5 L1036.5,834.0 L1036.0,834.4Z" fill="url(#tcell)" stroke="#b0506c" stroke-width="1.2"/><path d="M1046.5 843.2 q6 4 12 -2 M1047.5 833.2 q5 -3 10 1" stroke="#f4a8c8" stroke-width="2.2" fill="none" opacity="0.85"/><circle cx="1052.5" cy="838.2" r="3.8" fill="#cdbfc6"/><path d="M1064.6,830.0 L1064.1,830.5 L1063.8,831.1 L1063.6,831.8 L1063.5,832.4 L1063.5,833.1 L1064.9,841.0 L1065.1,841.7 L1065.5,842.2 L1065.9,842.7 L1066.5,843.1 L1067.1,843.4 L1079.8,847.6 L1080.5,847.7 L1081.2,847.7 L1081.8,847.5 L1082.5,847.2 L1083.0,846.7 L1083.4,846.2 L1090.4,833.6 L1090.6,833.0 L1090.8,832.3 L1090.8,831.6 L1090.6,830.9 L1090.4,830.3 L1090.0,829.7 L1089.5,829.2 L1089.2,829.0 L1088.6,828.6 L1088.0,828.2 L1087.4,827.8 L1086.7,827.5 L1086.0,827.2 L1085.3,826.9 L1084.6,826.6 L1083.8,826.3 L1083.1,826.1 L1082.3,825.9 L1081.5,825.8 L1080.7,825.6 L1079.9,825.5 L1079.1,825.5 L1078.3,825.4 L1077.4,825.4 L1076.6,825.4 L1075.8,825.5 L1075.0,825.5 L1074.2,825.7 L1073.4,825.8 L1072.6,826.0 L1071.8,826.2 L1071.0,826.4 L1070.3,826.6 L1069.5,826.9 L1068.8,827.2 L1068.2,827.5 L1067.5,827.9 L1066.9,828.3 L1066.2,828.7 L1065.7,829.1 L1065.1,829.5 L1064.6,830.0Z" fill="url(#tcell)" stroke="#b0506c" stroke-width="1.2"/><path d="M1076.7 839.5 q6 4 12 -2 M1077.7 829.5 q5 -3 10 1" stroke="#f4a8c8" stroke-width="2.2" fill="none" opacity="0.85"/><circle cx="1082.7" cy="834.5" r="3.8" fill="#cdbfc6"/><path d="M874.5,849.6 L874.9,850.2 L875.3,850.7 L875.8,851.2 L876.4,851.5 L877.1,851.7 L891.0,852.9 L891.7,852.9 L892.4,852.8 L893.0,852.5 L893.6,852.1 L894.1,851.7 L894.4,851.1 L896.4,847.3 L896.6,846.7 L896.7,846.0 L896.6,845.4 L896.4,844.7 L890.5,832.7 L890.1,832.1 L889.6,831.6 L889.0,831.2 L888.4,830.9 L887.7,830.8 L887.1,830.7 L886.5,830.6 L885.9,830.6 L885.3,830.6 L884.7,830.7 L884.1,830.7 L883.5,830.8 L882.9,831.0 L882.3,831.1 L881.7,831.3 L881.2,831.6 L880.6,831.8 L880.1,832.1 L879.5,832.4 L879.0,832.8 L878.5,833.2 L878.0,833.6 L877.6,834.0 L877.1,834.4 L876.7,834.9 L876.3,835.4 L875.9,835.9 L875.6,836.4 L875.2,837.0 L874.9,837.6 L874.6,838.2 L874.4,838.8 L874.2,839.4 L874.0,840.0 L873.8,840.6 L873.7,841.3 L873.5,841.9 L873.5,842.6 L873.4,843.3 L873.4,843.9 L873.4,844.6 L873.5,845.2 L873.5,845.9 L873.6,846.6 L873.8,847.2 L873.9,847.8 L874.1,848.5 L874.3,849.1 L874.5,849.6Z" fill="url(#tcell)" stroke="#b0506c" stroke-width="1.2"/><path d="M885.5 848.7 q6 4 12 -2 M886.5 838.7 q5 -3 10 1" stroke="#f4a8c8" stroke-width="2.2" fill="none" opacity="0.85"/><circle cx="891.5" cy="843.7" r="3.8" fill="#cdbfc6"/><path d="M922.4,860.9 L922.7,860.3 L922.9,859.7 L923.0,859.0 L923.0,858.4 L922.9,857.7 L922.6,857.1 L916.8,847.2 L916.3,846.7 L915.8,846.3 L915.2,846.0 L914.5,845.8 L913.8,845.7 L901.7,847.3 L901.1,847.5 L900.5,847.7 L899.9,848.1 L899.4,848.6 L899.1,849.1 L896.6,854.0 L896.4,854.6 L896.3,855.4 L896.4,856.1 L898.3,861.7 L898.6,862.3 L899.0,862.9 L899.6,863.4 L900.2,863.7 L900.8,864.0 L916.4,866.0 L917.0,866.0 L917.7,865.9 L918.4,865.7 L918.9,865.3 L919.4,864.9 L922.4,860.9Z" fill="url(#tcell)" stroke="#b0506c" stroke-width="1.2"/><path d="M909.1 858.6 q6 4 12 -2 M910.1 848.6 q5 -3 10 1" stroke="#f4a8c8" stroke-width="2.2" fill="none" opacity="0.85"/><circle cx="915.1" cy="853.6" r="3.8" fill="#cdbfc6"/><path d="M873.5,871.2 L873.9,871.7 L874.4,872.2 L875.0,872.5 L875.6,872.8 L876.2,872.9 L889.3,872.9 L890.0,872.8 L890.7,872.6 L891.3,872.3 L891.8,871.8 L892.3,871.2 L895.4,866.1 L895.6,865.5 L895.7,864.8 L895.7,864.1 L895.6,863.4 L893.7,858.2 L893.4,857.6 L892.9,857.1 L892.4,856.7 L891.8,856.4 L891.2,856.2 L877.0,854.9 L876.3,854.9 L875.6,855.1 L874.9,855.4 L874.3,855.8 L873.9,856.3 L873.4,857.0 L873.1,857.6 L872.8,858.2 L872.6,858.8 L872.4,859.4 L872.2,860.0 L872.0,860.6 L871.9,861.3 L871.7,861.9 L871.7,862.6 L871.6,863.3 L871.6,863.9 L871.6,864.6 L871.7,865.2 L871.7,865.9 L871.8,866.6 L872.0,867.2 L872.1,867.8 L872.3,868.5 L872.5,869.1 L872.8,869.7 L873.1,870.3 L873.3,870.9 L873.5,871.2Z" fill="url(#tcell)" stroke="#b0506c" stroke-width="1.2"/><path d="M882.7 869.4 q6 4 12 -2 M883.7 859.4 q5 -3 10 1" stroke="#f4a8c8" stroke-width="2.2" fill="none" opacity="0.85"/><circle cx="888.7" cy="864.4" r="3.8" fill="#cdbfc6"/><path d="M948.8,852.0 L948.2,852.0 L947.5,852.1 L946.9,852.3 L946.3,852.6 L945.8,853.1 L943.3,856.3 L943.0,856.8 L942.7,857.5 L942.6,858.1 L942.6,858.8 L942.7,859.5 L943.0,860.1 L949.4,871.9 L949.9,872.5 L950.4,872.9 L951.0,873.2 L951.7,873.4 L952.4,873.5 L953.1,873.4 L967.1,870.4 L967.7,870.1 L968.3,869.7 L968.8,869.1 L969.1,868.5 L969.4,867.9 L970.7,858.5 L970.7,857.8 L970.6,857.1 L970.4,856.5 L970.0,855.9 L969.6,855.4 L969.0,855.0 L968.4,854.7 L967.7,854.6Z" fill="url(#tcell)" stroke="#b0506c" stroke-width="1.2"/><path d="M955.5 867.7 q6 4 12 -2 M956.5 857.7 q5 -3 10 1" stroke="#f4a8c8" stroke-width="2.2" fill="none" opacity="0.85"/><circle cx="961.5" cy="862.7" r="3.8" fill="#cdbfc6"/><path d="M972.5,868.6 L972.5,869.3 L972.6,870.0 L972.7,870.3 L972.9,870.9 L973.2,871.5 L973.4,872.1 L973.7,872.7 L976.4,876.0 L976.8,876.5 L977.1,876.7 L977.6,877.1 L978.1,877.5 L978.7,877.8 L979.3,878.2 L979.7,878.4 L980.4,878.5 L981.1,878.6 L981.8,878.5 L982.5,878.2 L995.8,870.1 L996.4,869.7 L996.8,869.2 L997.2,868.6 L997.4,867.9 L997.5,867.3 L997.3,862.7 L997.2,862.0 L997.0,861.3 L996.7,860.7 L996.2,860.2 L995.6,859.8 L995.0,859.5 L979.5,855.8 L978.8,855.7 L978.1,855.7 L977.4,855.9 L976.8,856.2 L976.2,856.6 L976.0,856.9 L975.5,857.4 L975.1,857.9 L974.7,858.4 L974.3,858.9 L974.0,859.5 L973.7,860.2 L972.5,868.6Z" fill="url(#tcell)" stroke="#b0506c" stroke-width="1.2"/><path d="M983.6 872.2 q6 4 12 -2 M984.6 862.2 q5 -3 10 1" stroke="#f4a8c8" stroke-width="2.2" fill="none" opacity="0.85"/><circle cx="989.6" cy="867.2" r="3.8" fill="#cdbfc6"/><path d="M1005.3,854.3 L1004.7,854.6 L1004.2,855.0 L1001.3,858.3 L1000.9,858.8 L1000.7,859.4 L1000.5,860.1 L1000.5,860.7 L1000.7,868.0 L1000.9,868.7 L1001.2,869.3 L1001.6,869.9 L1009.4,876.8 L1009.9,877.2 L1010.5,877.5 L1011.2,877.6 L1011.7,877.7 L1012.5,877.7 L1013.3,877.7 L1014.1,877.6 L1014.3,877.6 L1014.9,877.5 L1015.5,877.3 L1016.1,876.9 L1016.6,876.5 L1024.8,865.3 L1025.1,864.8 L1025.4,864.1 L1025.5,863.5 L1025.5,862.8 L1025.2,860.9 L1025.0,860.2 L1024.6,859.6 L1024.2,859.1 L1023.6,858.7 L1023.0,858.4 L1007.7,854.1 L1007.0,854.0 L1006.4,854.0 L1005.7,854.1 L1005.3,854.3Z" fill="url(#tcell)" stroke="#b0506c" stroke-width="1.2"/><path d="M1010.7 868.7 q6 4 12 -2 M1011.7 858.7 q5 -3 10 1" stroke="#f4a8c8" stroke-width="2.2" fill="none" opacity="0.85"/><circle cx="1016.7" cy="863.7" r="3.8" fill="#cdbfc6"/><path d="M1033.9,851.2 L1033.2,851.5 L1032.7,852.0 L1028.9,857.0 L1028.6,857.5 L1028.3,858.2 L1028.2,858.8 L1028.3,859.5 L1028.6,862.4 L1028.9,863.0 L1029.2,863.6 L1029.7,864.1 L1030.2,864.6 L1043.5,872.7 L1044.1,872.9 L1044.8,873.1 L1045.5,873.0 L1046.3,872.9 L1047.1,872.7 L1047.8,872.5 L1048.2,872.4 L1048.8,872.1 L1049.4,871.7 L1049.8,871.1 L1054.5,864.8 L1054.8,864.2 L1055.0,863.5 L1055.0,862.8 L1054.5,858.8 L1054.3,858.1 L1054.0,857.5 L1053.6,856.9 L1053.1,856.5 L1052.5,856.1 L1037.2,850.7 L1036.6,850.6 L1035.9,850.5 L1035.3,850.6 L1034.8,850.8 L1034.1,851.0 L1033.9,851.2Z" fill="url(#tcell)" stroke="#b0506c" stroke-width="1.2"/><path d="M1042.0 862.5 q6 4 12 -2 M1043.0 852.5 q5 -3 10 1" stroke="#f4a8c8" stroke-width="2.2" fill="none" opacity="0.85"/><circle cx="1048.0" cy="857.5" r="3.8" fill="#cdbfc6"/><path d="M1066.8,846.7 L1066.1,846.5 L1065.5,846.5 L1064.8,846.6 L1064.1,846.9 L1063.5,847.3 L1063.0,847.7 L1058.1,854.8 L1057.8,855.4 L1057.6,856.0 L1057.5,856.6 L1057.5,857.3 L1058.1,861.3 L1058.3,862.0 L1058.7,862.6 L1059.2,863.1 L1059.7,863.5 L1060.4,863.8 L1075.1,868.6 L1075.8,868.7 L1076.5,868.7 L1076.8,868.6 L1077.6,868.3 L1078.2,868.1 L1078.9,867.8 L1079.4,867.3 L1079.8,866.8 L1080.2,866.2 L1083.1,857.6 L1083.2,856.9 L1083.2,856.2 L1083.1,855.6 L1082.3,853.3 L1082.0,852.7 L1081.6,852.1 L1081.1,851.6 L1080.5,851.3 L1066.8,846.7Z" fill="url(#tcell)" stroke="#b0506c" stroke-width="1.2"/><path d="M1071.8 862.2 q6 4 12 -2 M1072.8 852.2 q5 -3 10 1" stroke="#f4a8c8" stroke-width="2.2" fill="none" opacity="0.85"/><circle cx="1077.8" cy="857.2" r="3.8" fill="#cdbfc6"/><path d="M1085.5,849.2 L1085.2,849.8 L1085.1,850.4 L1085.1,851.1 L1085.2,851.7 L1085.5,852.7 L1085.8,853.3 L1086.2,853.8 L1086.7,854.3 L1087.3,854.6 L1087.9,854.9 L1088.6,855.0 L1105.7,855.9 L1106.4,855.8 L1107.1,855.6 L1107.7,855.2 L1108.2,854.8 L1108.6,854.2 L1108.9,853.7 L1109.2,853.2 L1109.4,852.6 L1109.7,852.1 L1109.9,851.5 L1110.0,850.9 L1110.2,850.3 L1110.3,849.7 L1110.3,849.1 L1110.4,848.5 L1110.4,847.9 L1110.4,847.3 L1110.3,846.7 L1110.2,846.1 L1110.1,845.5 L1110.0,844.9 L1109.8,844.3 L1109.6,843.8 L1109.4,843.2 L1109.1,842.7 L1108.8,842.1 L1108.5,841.6 L1108.1,841.1 L1107.7,840.6 L1107.3,840.1 L1106.9,839.7 L1106.5,839.2 L1106.0,838.8 L1105.5,838.4 L1105.0,838.0 L1104.4,837.7 L1103.9,837.3 L1103.3,837.1 L1102.7,836.8 L1102.1,836.5 L1101.5,836.3 L1100.8,836.1 L1100.2,836.0 L1099.6,835.8 L1098.9,835.7 L1098.2,835.7 L1097.6,835.6 L1096.9,835.6 L1096.3,835.6 L1095.6,835.7 L1094.9,835.7 L1094.3,835.9 L1093.9,836.0 L1093.2,836.2 L1092.7,836.6 L1092.2,837.1 L1091.8,837.6Z" fill="url(#tcell)" stroke="#b0506c" stroke-width="1.2"/><path d="M1099.9 848.4 q6 4 12 -2 M1100.9 838.4 q5 -3 10 1" stroke="#f4a8c8" stroke-width="2.2" fill="none" opacity="0.85"/><circle cx="1105.9" cy="843.4" r="3.8" fill="#cdbfc6"/><path d="M899.3,888.9 L899.6,889.6 L900.0,890.1 L900.5,890.5 L901.1,890.9 L901.8,891.1 L902.5,891.2 L903.3,891.3 L904.2,891.4 L905.1,891.4 L906.0,891.4 L906.9,891.3 L907.8,891.2 L908.7,891.1 L909.5,891.0 L910.4,890.8 L911.2,890.5 L912.1,890.3 L912.9,890.0 L913.7,889.7 L914.4,889.3 L915.2,888.9 L915.9,888.5 L916.6,888.1 L917.2,887.7 L917.8,887.2 L918.2,886.6 L918.5,886.0 L918.7,885.3 L918.7,884.6 L917.8,871.9 L917.6,871.3 L917.3,870.7 L916.9,870.1 L916.4,869.7 L915.8,869.3 L915.1,869.1 L900.9,867.2 L900.3,867.2 L899.6,867.3 L899.0,867.5 L898.4,867.9 L897.9,868.3 L897.5,868.9 L894.6,873.5 L894.4,874.2 L894.3,874.9 L894.3,875.6 L894.5,876.3Z" fill="url(#tcell)" stroke="#b0506c" stroke-width="1.2"/><path d="M906.0 884.6 q6 4 12 -2 M907.0 874.6 q5 -3 10 1" stroke="#f4a8c8" stroke-width="2.2" fill="none" opacity="0.85"/><circle cx="912.0" cy="879.6" r="3.8" fill="#cdbfc6"/><path d="M921.0,869.4 L920.9,870.2 L921.7,882.2 L921.8,882.8 L922.0,883.4 L922.4,884.1 L922.8,884.9 L923.2,885.6 L923.6,886.2 L924.1,886.9 L924.5,887.5 L925.0,888.1 L925.6,888.6 L926.1,889.1 L926.7,889.6 L927.3,890.1 L927.9,890.5 L928.5,890.8 L929.1,891.2 L929.7,891.5 L930.4,891.7 L931.0,891.9 L931.7,892.1 L932.3,892.2 L933.0,892.3 L933.6,892.4 L934.3,892.4 L935.0,892.4 L935.6,892.3 L936.3,892.2 L936.9,892.1 L937.6,891.9 L938.2,891.6 L938.9,891.4 L939.5,891.1 L940.1,890.7 L940.7,890.4 L941.3,889.9 L941.9,889.5 L942.4,889.0 L943.0,888.5 L943.5,887.9 L943.7,887.6 L944.1,887.1 L947.4,877.3 L947.6,876.6 L947.6,875.9 L947.5,875.2 L947.2,874.5 L940.0,861.3 L939.6,860.8 L939.1,860.4 L938.5,860.1 L937.8,859.9 L937.2,859.8 L928.1,860.6 L927.4,860.7 L926.8,860.9 L926.3,861.3 L925.8,861.7 L922.1,866.7 L921.8,867.2 L921.4,868.2 L921.2,869.0 L921.0,869.4Z" fill="url(#tcell)" stroke="#b0506c" stroke-width="1.2"/><path d="M931.8 879.0 q6 4 12 -2 M932.8 869.0 q5 -3 10 1" stroke="#f4a8c8" stroke-width="2.2" fill="none" opacity="0.85"/><circle cx="937.8" cy="874.0" r="3.8" fill="#cdbfc6"/><path d="M947.4,887.1 L947.3,887.8 L947.2,888.5 L947.3,889.2 L947.6,889.8 L947.9,890.4 L948.4,890.9 L949.1,891.4 L949.7,891.8 L950.3,892.2 L950.9,892.5 L951.6,892.9 L952.3,893.2 L953.0,893.5 L953.8,893.7 L954.6,894.0 L955.4,894.2 L956.2,894.4 L957.0,894.6 L957.9,894.8 L958.7,894.9 L959.6,895.0 L960.5,895.0 L961.4,895.1 L962.2,895.1 L963.1,895.1 L964.0,895.0 L964.9,895.0 L965.8,894.9 L966.6,894.8 L967.5,894.6 L968.3,894.4 L969.1,894.3 L969.9,894.0 L970.7,893.8 L971.4,893.5 L972.2,893.2 L972.9,892.9 L973.6,892.6 L974.2,892.2 L974.8,891.9 L975.4,891.5 L975.9,891.1 L976.5,890.7 L976.6,890.6 L977.1,890.1 L977.4,889.5 L977.6,888.9 L977.8,888.2 L977.6,883.9 L977.6,883.3 L977.4,882.7 L977.1,882.1 L973.1,877.0 L972.6,876.5 L972.0,876.1 L971.6,875.9 L970.8,875.7 L970.0,875.4 L969.2,875.2 L968.4,875.0 L967.6,874.8 L966.7,874.6 L965.9,874.5 L965.0,874.4 L964.4,874.4 L963.7,874.4 L952.8,876.7 L952.1,876.9 L951.5,877.3 L951.0,877.8 L950.5,878.3 L950.2,879.0Z" fill="url(#tcell)" stroke="#b0506c" stroke-width="1.2"/><path d="M961.2 888.5 q6 4 12 -2 M962.2 878.5 q5 -3 10 1" stroke="#f4a8c8" stroke-width="2.2" fill="none" opacity="0.85"/><circle cx="967.2" cy="883.5" r="3.8" fill="#cdbfc6"/><path d="M982.5,882.0 L982.0,882.4 L981.6,882.9 L981.2,883.5 L981.0,884.1 L980.9,884.7 L981.0,889.1 L981.1,889.7 L981.3,890.3 L981.6,890.9 L982.0,891.4 L982.5,891.9 L982.7,892.0 L983.3,892.4 L984.0,892.8 L984.8,893.1 L985.5,893.5 L986.3,893.8 L987.1,894.1 L988.0,894.4 L988.8,894.6 L989.7,894.9 L990.6,895.1 L991.5,895.2 L992.5,895.4 L993.4,895.5 L994.4,895.5 L995.3,895.6 L996.3,895.6 L997.2,895.6 L998.2,895.5 L999.1,895.5 L1000.0,895.3 L1001.0,895.2 L1001.9,895.0 L1002.8,894.8 L1003.7,894.6 L1004.5,894.4 L1005.4,894.1 L1006.2,893.8 L1007.0,893.4 L1007.8,893.1 L1008.5,892.7 L1009.2,892.3 L1009.9,891.9 L1010.5,891.4 L1011.1,891.0 L1011.7,890.5 L1012.0,890.2 L1012.4,889.6 L1012.6,889.0 L1012.8,888.4 L1012.8,887.7 L1012.5,885.0 L1012.3,884.3 L1012.0,883.7 L1011.6,883.1 L1001.0,873.6 L1000.4,873.2 L999.8,872.9 L999.1,872.7 L998.4,872.7 L997.8,872.8 L997.1,873.1 L982.5,882.0Z" fill="url(#tcell)" stroke="#b0506c" stroke-width="1.2"/><path d="M985.4 890.1 q6 4 12 -2 M986.4 880.1 q5 -3 10 1" stroke="#f4a8c8" stroke-width="2.2" fill="none" opacity="0.85"/><circle cx="991.4" cy="885.1" r="3.8" fill="#cdbfc6"/><path d="M1016.4,882.1 L1016.0,882.7 L1015.8,883.3 L1015.7,884.0 L1015.7,884.7 L1015.9,885.3 L1016.2,885.9 L1016.6,886.5 L1016.9,886.9 L1017.5,887.3 L1018.1,887.8 L1018.7,888.3 L1019.4,888.7 L1020.1,889.1 L1020.8,889.5 L1021.6,889.8 L1022.3,890.2 L1023.1,890.5 L1023.9,890.7 L1024.8,891.0 L1025.6,891.2 L1026.5,891.4 L1027.4,891.5 L1028.3,891.6 L1029.1,891.7 L1030.0,891.8 L1030.9,891.8 L1031.8,891.8 L1032.7,891.7 L1033.6,891.7 L1034.5,891.5 L1035.4,891.4 L1036.2,891.2 L1037.1,891.0 L1037.9,890.8 L1038.7,890.5 L1039.5,890.2 L1040.3,889.9 L1041.1,889.6 L1041.8,889.2 L1042.5,888.8 L1043.1,888.4 L1043.8,887.9 L1044.4,887.5 L1044.8,887.0 L1045.3,886.5 L1045.7,886.0 L1045.9,885.3 L1046.1,884.6 L1045.9,879.8 L1045.8,879.1 L1045.6,878.5 L1045.3,877.9 L1044.8,877.4 L1044.3,876.9 L1030.2,868.3 L1029.5,868.1 L1028.8,867.9 L1028.1,868.0 L1027.5,868.1 L1026.8,868.4 L1026.3,868.8 L1025.8,869.4Z" fill="url(#tcell)" stroke="#b0506c" stroke-width="1.2"/><path d="M1031.2 887.3 q6 4 12 -2 M1032.2 877.3 q5 -3 10 1" stroke="#f4a8c8" stroke-width="2.2" fill="none" opacity="0.85"/><circle cx="1037.2" cy="882.3" r="3.8" fill="#cdbfc6"/><path d="M1049.3,884.2 L1049.4,884.9 L1049.6,885.6 L1050.0,886.2 L1050.4,886.8 L1051.0,887.2 L1051.5,887.5 L1052.3,887.8 L1053.0,888.2 L1053.9,888.5 L1054.7,888.9 L1055.6,889.1 L1056.5,889.4 L1057.4,889.6 L1058.3,889.8 L1059.2,890.0 L1060.2,890.2 L1061.1,890.3 L1062.1,890.3 L1063.1,890.4 L1064.1,890.4 L1065.0,890.4 L1066.0,890.3 L1067.0,890.2 L1067.9,890.1 L1068.9,890.0 L1069.8,889.8 L1070.8,889.6 L1071.7,889.4 L1072.6,889.1 L1073.4,888.8 L1074.3,888.5 L1075.1,888.1 L1075.8,887.8 L1076.4,887.4 L1076.8,886.9 L1077.2,886.3 L1077.4,885.7 L1077.5,885.0 L1078.1,875.4 L1078.0,874.7 L1077.8,874.1 L1077.4,873.4 L1076.9,872.9 L1076.4,872.5 L1075.7,872.2 L1059.5,866.9 L1058.9,866.8 L1058.2,866.9 L1057.5,867.1 L1056.9,867.4 L1056.4,867.8 L1055.9,868.3 L1049.6,876.8 L1049.3,877.4 L1049.2,878.1 L1049.1,878.7Z" fill="url(#tcell)" stroke="#b0506c" stroke-width="1.2"/><path d="M1062.2 881.9 q6 4 12 -2 M1063.2 871.9 q5 -3 10 1" stroke="#f4a8c8" stroke-width="2.2" fill="none" opacity="0.85"/><circle cx="1068.2" cy="876.9" r="3.8" fill="#cdbfc6"/><path d="M1085.7,873.9 L1085.0,873.9 L1084.4,874.1 L1083.7,874.4 L1083.2,874.7 L1082.7,875.2 L1082.3,875.8 L1082.1,876.5 L1082.0,876.8 L1081.8,877.5 L1081.7,878.1 L1081.7,878.8 L1081.6,879.4 L1081.6,880.1 L1081.6,880.7 L1081.7,881.4 L1081.8,882.1 L1081.9,882.7 L1082.0,883.3 L1082.2,884.0 L1082.4,884.6 L1082.7,885.2 L1082.9,885.8 L1083.2,886.4 L1083.6,887.0 L1083.9,887.5 L1084.3,888.0 L1084.7,888.6 L1085.1,889.1 L1085.6,889.5 L1086.1,890.0 L1086.6,890.4 L1087.1,890.8 L1087.6,891.2 L1088.2,891.5 L1088.8,891.9 L1089.3,892.1 L1090.0,892.4 L1090.6,892.6 L1091.2,892.8 L1091.8,893.0 L1092.5,893.2 L1093.1,893.3 L1093.8,893.3 L1094.4,893.4 L1095.1,893.4 L1095.7,893.4 L1096.4,893.3 L1097.1,893.2 L1097.7,893.1 L1098.3,893.0 L1099.0,892.8 L1099.6,892.6 L1100.2,892.3 L1100.8,892.1 L1101.4,891.8 L1102.0,891.4 L1102.5,891.1 L1103.0,890.7 L1103.6,890.3 L1104.1,889.9 L1104.5,889.4 L1105.0,888.9 L1105.4,888.4 L1105.8,887.9 L1106.2,887.4 L1106.5,886.8 L1106.9,886.2 L1107.1,885.7 L1107.4,885.0 L1107.6,884.4 L1107.8,883.8 L1108.0,883.2 L1108.2,882.5 L1108.3,881.9 L1108.3,881.2 L1108.4,880.6 L1108.4,879.9 L1108.4,879.3 L1108.3,878.6 L1108.2,878.0 L1108.0,877.4 L1107.7,876.8 L1107.2,876.3 L1106.7,875.8 L1106.1,875.5 L1105.4,875.3 L1085.7,873.9Z" fill="url(#tcell)" stroke="#b0506c" stroke-width="1.2"/><path d="M1093.9 885.3 q6 4 12 -2 M1094.9 875.3 q5 -3 10 1" stroke="#f4a8c8" stroke-width="2.2" fill="none" opacity="0.85"/><circle cx="1099.9" cy="880.3" r="3.8" fill="#cdbfc6"/><path d="M876.9,876.1 L876.2,876.2 L875.6,876.4 L874.9,876.7 L874.4,877.2 L874.1,877.5 L873.7,878.0 L873.4,878.6 L873.1,879.1 L872.8,879.6 L872.6,880.2 L872.4,880.7 L872.2,881.3 L872.0,881.9 L871.9,882.5 L871.7,883.1 L871.7,883.7 L871.6,884.3 L871.6,884.9 L871.6,885.5 L871.7,886.1 L871.7,886.7 L871.8,887.3 L872.0,887.9 L872.1,888.5 L872.3,889.1 L872.5,889.7 L872.8,890.2 L873.0,890.8 L873.3,891.3 L873.6,891.8 L874.0,892.3 L874.4,892.8 L874.8,893.3 L875.2,893.7 L875.6,894.1 L876.1,894.5 L876.5,894.9 L877.0,895.3 L877.6,895.6 L878.1,895.9 L878.6,896.2 L879.2,896.4 L879.7,896.6 L880.3,896.8 L880.9,897.0 L881.5,897.1 L882.1,897.3 L882.7,897.3 L883.3,897.4 L883.9,897.4 L884.5,897.4 L885.1,897.3 L885.7,897.3 L886.3,897.2 L886.9,897.0 L887.5,896.9 L888.1,896.7 L888.7,896.5 L889.2,896.2 L889.8,896.0 L890.3,895.7 L890.8,895.4 L891.3,895.0 L891.8,894.6 L892.3,894.2 L892.7,893.8 L893.1,893.4 L893.5,892.9 L893.9,892.5 L894.3,892.0 L894.6,891.4 L894.9,890.9 L895.2,890.4 L895.3,890.2 L895.5,889.5 L895.6,888.8 L895.5,888.2 L895.3,887.5 L891.8,878.0 L891.4,877.4 L890.9,876.9 L890.3,876.5 L889.7,876.3 L889.0,876.1 L876.9,876.1Z" fill="url(#tcell)" stroke="#b0506c" stroke-width="1.2"/><path d="M883.7 889.5 q6 4 12 -2 M884.7 879.5 q5 -3 10 1" stroke="#f4a8c8" stroke-width="2.2" fill="none" opacity="0.85"/><circle cx="889.7" cy="884.5" r="3.8" fill="#cdbfc6"/><path d="M1083.8,865.5 L1083.7,866.2 L1083.6,866.9 L1083.7,867.2 L1083.7,867.7 L1083.9,868.3 L1084.1,868.9 L1084.5,869.5 L1085.0,870.0 L1085.6,870.4 L1086.3,870.7 L1087.0,870.8 L1104.5,872.0 L1105.2,871.9 L1105.9,871.7 L1106.5,871.4 L1107.0,870.9 L1107.4,870.3 L1107.7,869.7 L1107.9,869.2 L1108.1,868.7 L1108.2,868.1 L1108.3,867.6 L1108.3,867.0 L1108.4,866.5 L1108.4,865.9 L1108.4,865.4 L1108.3,864.8 L1108.3,864.3 L1108.1,863.7 L1108.0,863.2 L1107.8,862.6 L1107.7,862.1 L1107.4,861.6 L1107.2,861.1 L1106.9,860.6 L1106.4,860.0 L1105.9,859.6 L1105.2,859.2 L1104.5,859.1 L1089.0,858.2 L1088.3,858.2 L1087.6,858.4 L1086.9,858.7 L1086.4,859.1 L1085.9,859.6 L1085.6,860.2 L1083.8,865.5Z" fill="url(#tcell)" stroke="#b0506c" stroke-width="1.2"/><path d="M1085.5 868.2 q6 4 12 -2 M1086.5 858.2 q5 -3 10 1" stroke="#f4a8c8" stroke-width="2.2" fill="none" opacity="0.85"/><circle cx="1091.5" cy="863.2" r="3.8" fill="#cdbfc6"/>
<rect x="875.6" y="896.4" width="16.5" height="6.6" rx="3.3" transform="rotate(0.0 883.9 899.7)" fill="#8ddff7" stroke="#d4f4fc" stroke-width="0.8" /><rect x="894.1" y="896.4" width="16.5" height="6.6" rx="3.3" transform="rotate(0.0 902.4 899.7)" fill="#8ddff7" stroke="#d4f4fc" stroke-width="0.8" /><rect x="908.5" y="897.4" width="16.5" height="6.6" rx="3.3" transform="rotate(14.6 916.8 900.7)" fill="#8ddff7" stroke="#d4f4fc" stroke-width="0.8" /><rect x="926.0" y="903.2" width="16.5" height="6.6" rx="3.3" transform="rotate(28.8 934.3 906.5)" fill="#8ddff7" stroke="#d4f4fc" stroke-width="0.8" /><rect x="941.5" y="913.4" width="16.5" height="6.6" rx="3.3" transform="rotate(37.6 949.7 916.7)" fill="#8ddff7" stroke="#d4f4fc" stroke-width="0.8" /><rect x="956.7" y="923.8" width="16.5" height="6.6" rx="3.3" transform="rotate(36.9 965.0 927.1)" fill="#8ddff7" stroke="#d4f4fc" stroke-width="0.8" /><rect x="972.2" y="933.8" width="16.5" height="6.6" rx="3.3" transform="rotate(18.9 980.4 937.1)" fill="#8ddff7" stroke="#d4f4fc" stroke-width="0.8" /><rect x="875.6" y="906.1" width="16.5" height="6.6" rx="3.3" transform="rotate(7.3 883.9 909.4)" fill="#8ddff7" stroke="#d4f4fc" stroke-width="0.8" /><rect x="894.0" y="908.4" width="16.5" height="6.6" rx="3.3" transform="rotate(6.3 902.2 911.7)" fill="#8ddff7" stroke="#d4f4fc" stroke-width="0.8" /><rect x="912.4" y="910.1" width="16.5" height="6.6" rx="3.3" transform="rotate(4.4 920.6 913.4)" fill="#8ddff7" stroke="#d4f4fc" stroke-width="0.8" /><rect x="930.9" y="910.9" width="16.5" height="6.6" rx="3.3" transform="rotate(-2.1 939.1 914.2)" fill="#8ddff7" stroke="#d4f4fc" stroke-width="0.8" /><rect x="949.3" y="909.0" width="16.5" height="6.6" rx="3.3" transform="rotate(-9.5 957.5 912.3)" fill="#8ddff7" stroke="#d4f4fc" stroke-width="0.8" /><rect x="967.4" y="905.3" width="16.5" height="6.6" rx="3.3" transform="rotate(-9.5 975.6 908.6)" fill="#8ddff7" stroke="#d4f4fc" stroke-width="0.8" /><rect x="985.8" y="903.4" width="16.5" height="6.6" rx="3.3" transform="rotate(-5.4 994.0 906.7)" fill="#8ddff7" stroke="#d4f4fc" stroke-width="0.8" /><rect x="1004.2" y="901.8" width="16.5" height="6.6" rx="3.3" transform="rotate(-8.0 1012.5 905.1)" fill="#8ddff7" stroke="#d4f4fc" stroke-width="0.8" /><rect x="1021.6" y="895.8" width="16.5" height="6.6" rx="3.3" transform="rotate(-17.5 1029.9 899.1)" fill="#8ddff7" stroke="#d4f4fc" stroke-width="0.8" /><rect x="1039.7" y="891.8" width="16.5" height="6.6" rx="3.3" transform="rotate(-7.8 1047.9 895.1)" fill="#8ddff7" stroke="#d4f4fc" stroke-width="0.8" /><rect x="1057.5" y="894.8" width="16.5" height="6.6" rx="3.3" transform="rotate(41.7 1065.7 898.1)" fill="#8ddff7" stroke="#d4f4fc" stroke-width="0.8" /><rect x="1067.3" y="910.4" width="16.5" height="6.6" rx="3.3" transform="rotate(53.6 1075.6 913.7)" fill="#8ddff7" stroke="#d4f4fc" stroke-width="0.8" /><rect x="875.6" y="918.7" width="16.5" height="6.6" rx="3.3" transform="rotate(4.1 883.9 922.0)" fill="#8ddff7" stroke="#d4f4fc" stroke-width="0.8" /><rect x="894.0" y="920.4" width="16.5" height="6.6" rx="3.3" transform="rotate(12.7 902.3 923.7)" fill="#8ddff7" stroke="#d4f4fc" stroke-width="0.8" /><rect x="910.6" y="928.4" width="16.5" height="6.6" rx="3.3" transform="rotate(31.6 918.8 931.7)" fill="#8ddff7" stroke="#d4f4fc" stroke-width="0.8" /><rect x="922.1" y="941.9" width="16.5" height="6.6" rx="3.3" transform="rotate(78.9 930.3 945.2)" fill="#8ddff7" stroke="#d4f4fc" stroke-width="0.8" /><rect x="934.5" y="953.8" width="16.5" height="6.6" rx="3.3" transform="rotate(15.5 942.8 957.1)" fill="#8ddff7" stroke="#d4f4fc" stroke-width="0.8" /><rect x="952.8" y="954.8" width="16.5" height="6.6" rx="3.3" transform="rotate(-17.8 961.0 958.1)" fill="#8ddff7" stroke="#d4f4fc" stroke-width="0.8" /><rect x="875.6" y="933.2" width="16.5" height="6.6" rx="3.3" transform="rotate(4.6 883.9 936.5)" fill="#8ddff7" stroke="#d4f4fc" stroke-width="0.8" /><rect x="894.1" y="934.1" width="16.5" height="6.6" rx="3.3" transform="rotate(-3.5 902.3 937.4)" fill="#8ddff7" stroke="#d4f4fc" stroke-width="0.8" /><rect x="912.5" y="932.0" width="16.5" height="6.6" rx="3.3" transform="rotate(-8.6 920.7 935.3)" fill="#8ddff7" stroke="#d4f4fc" stroke-width="0.8" /><rect x="930.5" y="928.2" width="16.5" height="6.6" rx="3.3" transform="rotate(-18.0 938.8 931.5)" fill="#8ddff7" stroke="#d4f4fc" stroke-width="0.8" /><rect x="947.7" y="921.2" width="16.5" height="6.6" rx="3.3" transform="rotate(-22.0 955.9 924.5)" fill="#8ddff7" stroke="#d4f4fc" stroke-width="0.8" /><rect x="965.0" y="914.7" width="16.5" height="6.6" rx="3.3" transform="rotate(-14.5 973.2 918.0)" fill="#8ddff7" stroke="#d4f4fc" stroke-width="0.8" /><rect x="983.1" y="911.1" width="16.5" height="6.6" rx="3.3" transform="rotate(-10.9 991.4 914.4)" fill="#8ddff7" stroke="#d4f4fc" stroke-width="0.8" /><rect x="1001.3" y="907.7" width="16.5" height="6.6" rx="3.3" transform="rotate(-13.2 1009.6 911.0)" fill="#8ddff7" stroke="#d4f4fc" stroke-width="0.8" /><rect x="1018.2" y="901.6" width="16.5" height="6.6" rx="3.3" transform="rotate(16.2 1026.5 904.9)" fill="#8ddff7" stroke="#d4f4fc" stroke-width="0.8" /><rect x="1035.1" y="909.0" width="16.5" height="6.6" rx="3.3" transform="rotate(25.4 1043.4 912.3)" fill="#8ddff7" stroke="#d4f4fc" stroke-width="0.8" /><rect x="1052.9" y="913.1" width="16.5" height="6.6" rx="3.3" transform="rotate(-3.1 1061.2 916.4)" fill="#8ddff7" stroke="#d4f4fc" stroke-width="0.8" /><rect x="1071.0" y="909.2" width="16.5" height="6.6" rx="3.3" transform="rotate(-20.2 1079.2 912.5)" fill="#8ddff7" stroke="#d4f4fc" stroke-width="0.8" /><rect x="875.6" y="941.9" width="16.5" height="6.6" rx="3.3" transform="rotate(12.8 883.9 945.2)" fill="#8ddff7" stroke="#d4f4fc" stroke-width="0.8" /><rect x="893.4" y="946.8" width="16.5" height="6.6" rx="3.3" transform="rotate(24.7 901.7 950.1)" fill="#8ddff7" stroke="#d4f4fc" stroke-width="0.8" /><rect x="920.2" y="947.7" width="16.5" height="6.6" rx="3.3" transform="rotate(0.5 928.4 951.0)" fill="#8ddff7" stroke="#d4f4fc" stroke-width="0.8" /><rect x="938.7" y="947.8" width="16.5" height="6.6" rx="3.3" transform="rotate(-2.1 946.9 951.1)" fill="#8ddff7" stroke="#d4f4fc" stroke-width="0.8" /><rect x="957.1" y="946.0" width="16.5" height="6.6" rx="3.3" transform="rotate(-4.9 965.3 949.3)" fill="#8ddff7" stroke="#d4f4fc" stroke-width="0.8" /><rect x="975.5" y="944.8" width="16.5" height="6.6" rx="3.3" transform="rotate(-0.4 983.8 948.1)" fill="#8ddff7" stroke="#d4f4fc" stroke-width="0.8" /><rect x="993.9" y="947.1" width="16.5" height="6.6" rx="3.3" transform="rotate(10.5 1002.1 950.4)" fill="#8ddff7" stroke="#d4f4fc" stroke-width="0.8" /><rect x="1012.0" y="950.6" width="16.5" height="6.6" rx="3.3" transform="rotate(11.8 1020.3 953.9)" fill="#8ddff7" stroke="#d4f4fc" stroke-width="0.8" /><rect x="1030.2" y="954.2" width="16.5" height="6.6" rx="3.3" transform="rotate(11.4 1038.4 957.5)" fill="#8ddff7" stroke="#d4f4fc" stroke-width="0.8" /><rect x="1048.1" y="958.7" width="16.5" height="6.6" rx="3.3" transform="rotate(15.4 1056.3 962.0)" fill="#8ddff7" stroke="#d4f4fc" stroke-width="0.8" /><rect x="1066.4" y="961.1" width="16.5" height="6.6" rx="3.3" transform="rotate(2.0 1074.6 964.4)" fill="#8ddff7" stroke="#d4f4fc" stroke-width="0.8" /><rect x="929.8" y="936.1" width="16.5" height="6.6" rx="3.3" transform="rotate(6.0 938.1 939.4)" fill="#8ddff7" stroke="#d4f4fc" stroke-width="0.8" /><rect x="948.3" y="938.0" width="16.5" height="6.6" rx="3.3" transform="rotate(4.7 956.5 941.3)" fill="#8ddff7" stroke="#d4f4fc" stroke-width="0.8" /><rect x="966.7" y="939.0" width="16.5" height="6.6" rx="3.3" transform="rotate(1.6 975.0 942.3)" fill="#8ddff7" stroke="#d4f4fc" stroke-width="0.8" /><rect x="985.2" y="939.0" width="16.5" height="6.6" rx="3.3" transform="rotate(0.1 993.5 942.3)" fill="#8ddff7" stroke="#d4f4fc" stroke-width="0.8" /><rect x="1003.7" y="940.1" width="16.5" height="6.6" rx="3.3" transform="rotate(0.7 1011.9 943.4)" fill="#8ddff7" stroke="#d4f4fc" stroke-width="0.8" /><rect x="1021.8" y="936.9" width="16.5" height="6.6" rx="3.3" transform="rotate(-11.2 1030.1 940.2)" fill="#8ddff7" stroke="#d4f4fc" stroke-width="0.8" /><rect x="1040.3" y="936.3" width="16.5" height="6.6" rx="3.3" transform="rotate(1.6 1048.5 939.6)" fill="#8ddff7" stroke="#d4f4fc" stroke-width="0.8" /><rect x="1058.5" y="933.6" width="16.5" height="6.6" rx="3.3" transform="rotate(-12.9 1066.7 936.9)" fill="#8ddff7" stroke="#d4f4fc" stroke-width="0.8" /><rect x="1076.8" y="932.1" width="16.5" height="6.6" rx="3.3" transform="rotate(2.5 1085.1 935.4)" fill="#8ddff7" stroke="#d4f4fc" stroke-width="0.8" /><rect x="984.1" y="932.3" width="16.5" height="6.6" rx="3.3" transform="rotate(-14.3 992.3 935.6)" fill="#8ddff7" stroke="#d4f4fc" stroke-width="0.8" /><rect x="1001.3" y="926.0" width="16.5" height="6.6" rx="3.3" transform="rotate(-38.1 1009.5 929.3)" fill="#8ddff7" stroke="#d4f4fc" stroke-width="0.8" /><rect x="1015.5" y="914.1" width="16.5" height="6.6" rx="3.3" transform="rotate(-38.7 1023.7 917.4)" fill="#8ddff7" stroke="#d4f4fc" stroke-width="0.8" /><rect x="1029.9" y="902.6" width="16.5" height="6.6" rx="3.3" transform="rotate(-38.7 1038.2 905.9)" fill="#8ddff7" stroke="#d4f4fc" stroke-width="0.8" /><rect x="949.2" y="909.0" width="16.5" height="6.6" rx="3.3" transform="rotate(38.4 957.5 912.3)" fill="#8ddff7" stroke="#d4f4fc" stroke-width="0.8" /><rect x="963.4" y="920.8" width="16.5" height="6.6" rx="3.3" transform="rotate(42.8 971.7 924.1)" fill="#8ddff7" stroke="#d4f4fc" stroke-width="0.8" /><rect x="978.3" y="931.7" width="16.5" height="6.6" rx="3.3" transform="rotate(25.3 986.6 935.0)" fill="#8ddff7" stroke="#d4f4fc" stroke-width="0.8" /><rect x="995.1" y="939.5" width="16.5" height="6.6" rx="3.3" transform="rotate(24.8 1003.3 942.8)" fill="#8ddff7" stroke="#d4f4fc" stroke-width="0.8" /><rect x="1010.9" y="949.0" width="16.5" height="6.6" rx="3.3" transform="rotate(35.9 1019.2 952.3)" fill="#8ddff7" stroke="#d4f4fc" stroke-width="0.8" /><rect x="1026.2" y="959.4" width="16.5" height="6.6" rx="3.3" transform="rotate(27.0 1034.4 962.7)" fill="#8ddff7" stroke="#d4f4fc" stroke-width="0.8" /><rect x="1007.3" y="897.4" width="16.5" height="6.6" rx="3.3" transform="rotate(36.6 1015.6 900.7)" fill="#8ddff7" stroke="#d4f4fc" stroke-width="0.8" /><rect x="1022.1" y="908.5" width="16.5" height="6.6" rx="3.3" transform="rotate(38.2 1030.4 911.8)" fill="#8ddff7" stroke="#d4f4fc" stroke-width="0.8" /><rect x="1036.2" y="920.5" width="16.5" height="6.6" rx="3.3" transform="rotate(42.3 1044.4 923.8)" fill="#8ddff7" stroke="#d4f4fc" stroke-width="0.8" /><rect x="1049.2" y="933.6" width="16.5" height="6.6" rx="3.3" transform="rotate(45.9 1057.5 936.9)" fill="#8ddff7" stroke="#d4f4fc" stroke-width="0.8" /><rect x="1062.7" y="946.2" width="16.5" height="6.6" rx="3.3" transform="rotate(32.3 1071.0 949.5)" fill="#8ddff7" stroke="#d4f4fc" stroke-width="0.8" /><rect x="1080.3" y="951.5" width="16.5" height="6.6" rx="3.3" transform="rotate(12.4 1088.6 954.8)" fill="#8ddff7" stroke="#d4f4fc" stroke-width="0.8" />
</g>
</svg></body></html>
